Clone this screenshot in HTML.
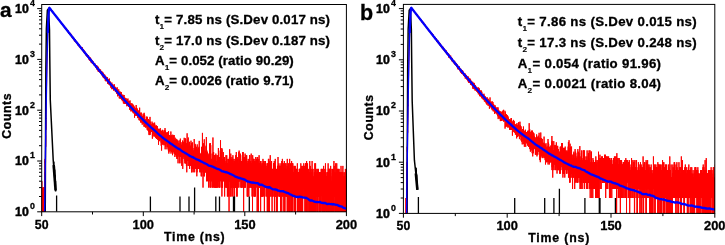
<!DOCTYPE html>
<html><head><meta charset="utf-8"><style>
html,body{margin:0;padding:0;background:#fff;width:725px;height:245px;overflow:hidden}
svg{display:block;will-change:transform;font-family:"Liberation Sans",sans-serif;font-weight:bold}
text{stroke:#000;stroke-width:0.3px}
</style></head><body>
<svg width="725" height="245" viewBox="0 0 725 245">
<rect width="725" height="245" fill="#fff"/>
<clipPath id="clip1"><rect x="41.7" y="4.5" width="304.7" height="207.3"/></clipPath>
<g clip-path="url(#clip1)">
<polyline fill="none" stroke="#ff0000" stroke-width="1.0" points="39.67,211.8 39.72,211.8 39.77,181.2 39.82,238.4 39.87,238.4 39.92,211.8 39.97,238.4 40.02,211.8 40.07,238.4 40.11,238.4 40.16,238.4 40.21,238.4 40.26,238.4 40.31,238.4 40.36,238.4 40.41,211.8 40.46,211.8 40.51,238.4 40.56,211.8 40.61,196.5 40.66,238.4 40.71,211.8 40.76,238.4 40.81,196.5 40.86,238.4 40.91,187.6 40.96,238.4 41.01,211.8 41.06,238.4 41.11,238.4 41.16,238.4 41.21,238.4 41.25,211.8 41.30,211.8 41.35,211.8 41.40,211.8 41.45,211.8 41.50,238.4 41.55,211.8 41.60,238.4 41.65,211.8 41.70,211.8 41.75,187.6 41.80,196.5 41.85,181.2 41.90,196.5 41.95,238.4 42.00,238.4 42.05,238.4 42.10,238.4 42.15,211.8 42.20,238.4 42.25,238.4 42.30,238.4 42.35,211.8 42.39,238.4 42.44,238.4 42.49,238.4 42.54,211.8 42.59,187.6 42.64,211.8 42.69,238.4 42.74,238.4 42.79,211.8 42.84,211.8 42.89,238.4 42.94,196.5 42.99,196.5 43.04,211.8 43.09,211.8 43.14,238.4 43.19,211.8 43.24,211.8 43.29,211.8 43.34,238.4 43.39,238.4 43.44,187.6 43.49,211.8 43.53,211.8 43.58,196.5 43.63,196.5 43.68,187.6 43.73,238.4 43.78,187.6 43.83,238.4 43.88,211.8 43.93,238.4 43.98,238.4 44.03,187.6 44.08,211.8 44.13,211.8 44.18,238.4 44.23,238.4 44.28,211.8 44.33,211.8 44.38,211.8 44.43,211.8 44.48,238.4 44.53,211.8 44.58,196.5 44.63,187.6 44.67,196.5 44.72,196.5 44.77,211.8 44.82,211.8 44.87,172.3 44.92,176.3 44.97,238.4 45.02,158.9 45.07,176.3 45.12,176.3 45.17,172.3 45.22,172.3 45.27,161.0 45.32,163.3 45.37,161.0 45.42,163.3 45.47,150.6 45.52,157.0 45.57,143.0 45.62,135.4 45.67,146.8 45.72,146.8 45.77,130.4 45.81,120.0 45.86,129.8 45.91,127.1 45.96,118.0 46.01,118.9 46.06,114.8 46.11,111.2 46.16,106.1 46.21,105.1 46.26,100.7 46.31,98.7 46.36,97.0 46.41,93.2 46.46,91.3 46.51,87.1 46.56,86.0 46.61,83.2 46.66,77.4 46.71,76.7 46.76,74.2 46.81,71.1 46.86,69.6 46.91,67.1 46.95,64.2 47.00,62.0 47.05,60.9 47.10,57.2 47.15,56.1 47.20,54.3 47.25,52.2 47.30,49.8 47.35,46.7 47.40,46.4 47.45,43.8 47.50,43.2 47.55,40.3 47.60,38.1 47.65,37.0 47.70,35.5 47.75,33.6 47.80,31.9 47.85,30.4 47.90,28.5 47.95,27.8 48.00,26.7 48.05,25.2 48.09,24.0 48.14,22.7 48.19,21.6 48.24,20.4 48.29,19.9 48.34,18.1 48.39,17.6 48.44,16.8 48.49,15.4 48.54,14.4 48.59,13.9 48.64,13.2 48.69,12.8 48.74,11.2 48.79,11.1 48.84,11.1 48.89,10.5 48.94,9.8 48.99,9.8 49.04,9.0 49.09,8.8 49.14,8.1 49.19,8.0 49.23,8.7 49.28,7.9 49.33,8.2 49.38,7.5 49.43,7.8 49.48,7.8 49.53,8.2 49.58,7.6 49.63,7.6 49.68,8.4 49.73,8.1 49.78,8.4 49.83,8.3 49.88,8.7 49.93,8.0 49.98,8.7 50.03,8.7 50.08,8.5 50.13,8.9 50.18,8.8 50.23,9.0 50.28,8.9 50.33,9.2 50.37,9.1 50.42,9.1 50.47,9.2 50.52,9.2 50.57,9.3 50.62,9.2 50.67,9.5 50.72,9.5 50.77,9.7 50.82,9.7 50.87,10.0 50.92,9.6 50.97,10.1 51.02,10.0 51.07,9.8 51.12,9.9 51.17,10.1 51.22,10.6 51.27,10.1 51.32,10.2 51.37,10.6 51.42,10.2 51.47,10.6 51.51,10.8 51.56,10.5 51.61,10.6 51.66,10.6 51.71,11.1 51.76,10.3 51.81,11.0 51.86,11.3 51.91,10.8 51.96,11.1 52.01,11.0 52.06,11.3 52.11,11.3 52.16,11.2 52.21,11.6 52.26,11.2 52.31,11.6 52.36,11.8 52.41,11.6 52.46,11.6 52.51,11.8 52.56,12.0 52.61,11.7 52.65,12.4 52.70,12.3 52.75,12.0 52.80,12.5 52.85,12.2 52.90,12.3 52.95,12.1 53.00,12.6 53.05,12.6 53.10,12.4 53.15,13.2 53.20,11.8 53.25,12.9 53.30,12.9 53.35,12.6 53.40,12.9 53.45,13.4 53.50,12.8 53.55,12.8 53.60,13.3 53.65,13.3 53.70,13.1 53.74,13.6 53.79,13.3 53.84,13.4 53.89,13.7 53.94,14.0 53.99,13.7 54.04,13.9 54.09,13.5 54.14,13.8 54.19,13.7 54.24,13.9 54.29,13.9 54.34,14.3 54.39,14.0 54.44,13.7 54.49,14.4 54.54,14.5 54.59,14.4 54.64,14.6 54.69,14.7 54.74,14.5 54.79,14.7 54.84,14.3 54.88,14.8 54.93,14.7 54.98,14.6 55.03,15.0 55.08,14.6 55.13,15.3 55.18,15.4 55.23,15.3 55.28,15.3 55.33,15.7 55.38,15.4 55.43,15.9 55.48,15.1 55.53,15.6 55.58,15.8 55.63,16.0 55.68,15.9 55.73,15.9 55.78,16.2 55.83,16.2 55.88,16.1 55.93,16.3 55.98,15.9 56.02,15.9 56.07,16.3 56.12,16.2 56.17,16.8 56.22,16.3 56.27,16.6 56.32,16.5 56.37,16.2 56.42,17.4 56.47,16.7 56.52,17.2 56.57,16.7 56.62,17.4 56.67,17.2 56.72,17.1 56.77,17.0 56.82,17.2 56.87,17.5 56.92,17.5 56.97,17.2 57.02,17.5 57.07,18.1 57.12,17.4 57.16,17.6 57.21,17.5 57.26,17.9 57.31,17.6 57.36,18.3 57.41,17.8 57.46,18.2 57.51,17.9 57.56,17.9 57.61,18.5 57.66,18.3 57.71,18.4 57.76,18.1 57.81,18.3 57.86,18.9 57.91,18.5 57.96,18.5 58.01,18.1 58.06,19.3 58.11,19.0 58.16,18.5 58.21,19.4 58.26,19.4 58.30,19.0 58.35,18.9 58.40,19.5 58.45,19.2 58.50,19.3 58.55,19.0 58.60,19.5 58.65,19.3 58.70,19.9 58.75,19.8 58.80,19.8 58.85,19.5 58.90,19.7 58.95,20.2 59.00,19.8 59.05,19.8 59.10,20.2 59.15,20.3 59.20,20.3 59.25,20.9 59.30,20.3 59.35,20.4 59.40,20.8 59.44,20.3 59.49,21.1 59.54,20.9 59.59,20.9 59.64,20.2 59.69,21.4 59.74,20.8 59.79,20.7 59.84,21.0 59.89,20.8 59.94,21.5 59.99,22.0 60.04,21.1 60.09,21.8 60.14,21.6 60.19,21.9 60.24,21.2 60.29,21.4 60.34,22.0 60.39,21.5 60.44,21.8 60.49,22.0 60.54,22.0 60.58,22.1 60.63,21.9 60.68,22.1 60.73,22.3 60.78,22.0 60.83,22.6 60.88,22.3 60.93,22.3 60.98,22.0 61.03,22.8 61.08,22.1 61.13,22.7 61.18,22.9 61.23,23.1 61.28,22.7 61.33,23.0 61.38,23.4 61.43,23.5 61.48,23.4 61.53,23.5 61.58,22.9 61.63,22.9 61.68,23.1 61.72,23.4 61.77,23.7 61.82,23.6 61.87,23.4 61.92,23.0 61.97,23.5 62.02,24.0 62.07,23.9 62.12,24.2 62.17,24.3 62.22,24.2 62.27,24.1 62.32,23.6 62.37,24.3 62.42,23.9 62.47,23.8 62.52,24.5 62.57,24.0 62.62,24.4 62.67,24.8 62.72,24.7 62.77,24.8 62.82,25.0 62.86,25.0 62.91,24.9 62.96,24.9 63.01,25.4 63.06,25.2 63.11,25.8 63.16,25.2 63.21,25.2 63.26,25.4 63.31,25.4 63.36,25.4 63.41,25.9 63.46,25.8 63.51,25.6 63.56,25.5 63.61,25.7 63.66,25.0 63.71,26.0 63.76,25.7 63.81,25.7 63.86,26.2 63.91,26.6 63.96,26.7 64.00,26.3 64.05,26.0 64.10,26.4 64.15,26.5 64.20,26.8 64.25,26.5 64.30,27.5 64.35,26.7 64.40,26.9 64.45,27.4 64.50,26.2 64.55,27.6 64.60,27.5 64.65,27.6 64.70,26.8 64.75,27.7 64.80,27.1 64.85,27.2 64.90,27.4 64.95,28.1 65.00,27.9 65.05,27.1 65.10,28.2 65.14,28.1 65.19,28.0 65.24,27.6 65.29,27.9 65.34,27.8 65.39,28.5 65.44,27.8 65.49,28.1 65.54,28.9 65.59,27.8 65.64,27.6 65.69,28.8 65.74,28.6 65.79,28.1 65.84,29.3 65.89,29.5 65.94,29.3 65.99,29.1 66.04,29.2 66.09,28.8 66.14,29.0 66.19,29.6 66.24,29.0 66.28,28.5 66.33,28.9 66.38,29.0 66.43,29.5 66.48,29.1 66.53,30.0 66.58,29.4 66.63,29.7 66.68,29.3 66.73,29.7 66.78,30.3 66.83,29.9 66.88,29.5 66.93,30.5 66.98,30.4 67.03,30.5 67.08,30.9 67.13,30.0 67.18,29.9 67.23,30.1 67.28,30.4 67.33,30.6 67.38,30.6 67.42,31.0 67.47,30.4 67.52,30.4 67.57,30.5 67.62,31.2 67.67,31.0 67.72,31.2 67.77,30.4 67.82,31.1 67.87,32.0 67.92,31.2 67.97,30.6 68.02,31.2 68.07,31.2 68.12,31.6 68.17,32.5 68.22,32.5 68.27,32.3 68.32,31.9 68.37,31.8 68.42,31.7 68.47,32.2 68.52,31.7 68.56,32.3 68.61,32.5 68.66,31.9 68.71,32.7 68.76,33.5 68.81,32.9 68.86,32.5 68.91,33.9 68.96,32.8 69.01,32.9 69.06,33.4 69.11,33.5 69.16,33.1 69.21,33.2 69.26,32.5 69.31,32.9 69.36,33.8 69.41,33.6 69.46,33.0 69.51,32.5 69.56,33.3 69.61,33.3 69.66,32.7 69.70,33.6 69.75,33.8 69.80,34.3 69.85,34.0 69.90,32.9 69.95,34.5 70.00,34.0 70.05,34.7 70.10,34.1 70.15,33.8 70.20,34.3 70.25,34.0 70.30,34.0 70.35,34.2 70.40,33.7 70.45,34.2 70.50,34.7 70.55,35.0 70.60,35.1 70.65,34.6 70.70,35.0 70.75,33.7 70.80,34.2 70.84,35.1 70.89,35.3 70.94,34.4 70.99,36.1 71.04,35.5 71.09,34.9 71.14,35.8 71.19,35.7 71.24,35.7 71.29,35.3 71.34,35.6 71.39,35.6 71.44,35.5 71.49,35.8 71.54,35.4 71.59,36.3 71.64,36.7 71.69,36.9 71.74,36.9 71.79,36.5 71.84,35.8 71.89,36.3 71.94,36.7 71.98,37.0 72.03,36.8 72.08,36.8 72.13,36.9 72.18,37.4 72.23,37.0 72.28,36.4 72.33,37.9 72.38,37.1 72.43,38.0 72.48,37.0 72.53,37.5 72.58,38.2 72.63,37.3 72.68,36.5 72.73,37.4 72.78,36.9 72.83,37.6 72.88,38.6 72.93,37.4 72.98,37.9 73.03,38.5 73.08,37.5 73.12,37.8 73.17,38.2 73.22,37.6 73.27,38.5 73.32,37.9 73.37,38.7 73.42,38.0 73.47,38.9 73.52,37.7 73.57,38.4 73.62,37.9 73.67,39.0 73.72,38.9 73.77,38.3 73.82,40.1 73.87,39.4 73.92,38.4 73.97,38.8 74.02,38.6 74.07,39.3 74.12,38.9 74.17,39.6 74.22,40.0 74.26,40.2 74.31,39.7 74.36,39.8 74.41,39.9 74.46,41.4 74.51,40.7 74.56,40.0 74.61,39.7 74.66,40.2 74.71,40.4 74.76,41.1 74.81,39.1 74.86,40.7 74.91,39.3 74.96,39.5 75.01,40.2 75.06,40.7 75.11,40.4 75.16,41.1 75.21,40.4 75.26,40.6 75.31,40.4 75.36,40.3 75.40,39.9 75.45,41.1 75.50,40.4 75.55,41.4 75.60,41.5 75.65,41.4 75.70,41.7 75.75,40.7 75.80,40.8 75.85,40.7 75.90,41.4 75.95,41.4 76.00,41.8 76.05,42.2 76.10,41.4 76.15,41.6 76.20,42.4 76.25,41.6 76.30,42.8 76.35,42.1 76.40,42.4 76.45,42.4 76.50,42.7 76.54,41.7 76.59,42.0 76.64,41.7 76.69,42.4 76.74,43.2 76.79,42.7 76.84,43.2 76.89,42.4 76.94,42.1 76.99,42.6 77.04,43.2 77.09,43.1 77.14,42.9 77.19,43.8 77.24,43.0 77.29,43.1 77.34,43.5 77.39,43.5 77.44,43.3 77.49,43.9 77.54,43.9 77.59,43.1 77.64,43.5 77.68,42.8 77.73,44.3 77.78,44.8 77.83,43.4 77.88,43.4 77.93,44.4 77.98,44.9 78.03,44.1 78.08,45.1 78.13,44.4 78.18,45.5 78.23,44.5 78.28,45.6 78.33,44.6 78.38,43.7 78.43,44.8 78.48,44.3 78.53,45.1 78.58,45.3 78.63,45.7 78.68,44.4 78.73,45.0 78.78,44.2 78.82,45.8 78.87,45.3 78.92,45.2 78.97,44.5 79.02,44.4 79.07,45.8 79.12,46.1 79.17,46.5 79.22,44.9 79.27,45.7 79.32,46.1 79.37,45.8 79.42,47.3 79.47,46.9 79.52,45.5 79.57,45.8 79.62,46.0 79.67,46.8 79.72,45.9 79.77,45.3 79.82,47.1 79.87,46.4 79.92,46.8 79.96,46.4 80.01,46.6 80.06,46.8 80.11,47.3 80.16,46.8 80.21,47.2 80.26,47.0 80.31,47.0 80.36,46.7 80.41,47.5 80.46,47.4 80.51,46.6 80.56,47.4 80.61,47.5 80.66,46.9 80.71,47.3 80.76,47.5 80.81,47.5 80.86,48.4 80.91,47.5 80.96,47.0 81.01,47.5 81.06,48.9 81.10,47.8 81.15,48.6 81.20,48.3 81.25,48.1 81.30,49.0 81.35,47.5 81.40,48.4 81.45,48.0 81.50,48.1 81.55,47.7 81.60,47.9 81.65,49.6 81.70,48.7 81.75,50.1 81.80,49.1 81.85,48.5 81.90,48.4 81.95,48.3 82.00,49.3 82.05,49.0 82.10,49.2 82.15,48.5 82.20,48.4 82.24,49.6 82.29,47.2 82.34,49.5 82.39,49.8 82.44,49.3 82.49,49.3 82.54,49.4 82.59,50.2 82.64,49.0 82.69,49.9 82.74,49.1 82.79,49.2 82.84,50.9 82.89,50.8 82.94,50.9 82.99,50.2 83.04,50.4 83.09,50.3 83.14,51.0 83.19,50.3 83.24,49.8 83.29,51.6 83.34,50.9 83.38,50.7 83.43,51.0 83.48,51.1 83.53,49.9 83.58,50.3 83.63,50.6 83.68,51.7 83.73,49.8 83.78,51.1 83.83,51.8 83.88,51.7 83.93,51.8 83.98,50.2 84.03,51.5 84.08,51.7 84.13,53.1 84.18,51.3 84.23,52.6 84.28,52.7 84.33,51.6 84.38,52.6 84.43,51.6 84.48,51.5 84.52,53.4 84.57,52.4 84.62,53.4 84.67,52.5 84.72,51.9 84.77,53.5 84.82,51.4 84.87,52.9 84.92,53.5 84.97,52.9 85.02,52.4 85.07,53.8 85.12,53.0 85.17,54.0 85.22,52.3 85.27,53.1 85.32,53.5 85.37,52.6 85.42,54.2 85.47,53.7 85.52,52.3 85.57,53.6 85.61,52.7 85.66,53.6 85.71,54.2 85.76,54.0 85.81,53.8 85.86,54.2 85.91,54.6 85.96,54.6 86.01,55.1 86.06,54.1 86.11,54.0 86.16,53.8 86.21,55.6 86.26,53.9 86.31,54.5 86.36,55.5 86.41,54.5 86.46,54.1 86.51,54.4 86.56,54.3 86.61,54.2 86.66,54.3 86.71,55.0 86.75,56.5 86.80,55.6 86.85,54.9 86.90,55.6 86.95,54.8 87.00,54.8 87.05,55.4 87.10,54.2 87.15,56.2 87.20,54.9 87.25,56.0 87.30,56.3 87.35,55.4 87.40,56.3 87.45,55.3 87.50,56.8 87.55,56.0 87.60,56.7 87.65,56.3 87.70,56.5 87.75,57.1 87.80,55.9 87.85,57.3 87.89,57.2 87.94,55.9 87.99,55.9 88.04,56.2 88.09,56.5 88.14,55.1 88.19,57.7 88.24,57.4 88.29,57.7 88.34,56.4 88.39,56.9 88.44,56.3 88.49,56.5 88.54,57.4 88.59,57.9 88.64,58.1 88.69,55.8 88.74,56.8 88.79,57.1 88.84,57.9 88.89,57.8 88.94,58.0 88.99,58.1 89.03,59.7 89.08,58.0 89.13,58.3 89.18,57.8 89.23,58.0 89.28,57.5 89.33,58.3 89.38,57.7 89.43,60.3 89.48,59.3 89.53,57.2 89.58,59.5 89.63,58.8 89.68,58.1 89.73,59.4 89.78,58.2 89.83,59.9 89.88,60.4 89.93,60.0 89.98,60.3 90.03,59.1 90.08,59.4 90.13,59.0 90.17,60.1 90.22,57.4 90.27,59.5 90.32,59.5 90.37,59.2 90.42,59.8 90.47,60.1 90.52,59.7 90.57,59.1 90.62,59.3 90.67,59.2 90.72,60.4 90.77,60.6 90.82,58.5 90.87,60.3 90.92,59.8 90.97,59.7 91.02,59.2 91.07,61.4 91.12,60.8 91.17,60.9 91.22,60.8 91.27,62.5 91.31,60.8 91.36,63.0 91.41,60.6 91.46,60.5 91.51,60.5 91.56,62.0 91.61,60.3 91.66,61.8 91.71,62.2 91.76,62.0 91.81,62.0 91.86,61.2 91.91,60.8 91.96,63.2 92.01,62.0 92.06,60.9 92.11,61.5 92.16,61.3 92.21,63.0 92.26,61.1 92.31,63.2 92.36,61.8 92.41,60.9 92.45,60.6 92.50,61.7 92.55,61.5 92.60,62.8 92.65,62.7 92.70,61.4 92.75,62.5 92.80,62.6 92.85,63.7 92.90,62.5 92.95,62.2 93.00,63.4 93.05,63.3 93.10,61.6 93.15,62.8 93.20,63.3 93.25,64.0 93.30,63.7 93.35,63.4 93.40,62.1 93.45,63.8 93.50,61.9 93.55,64.2 93.59,63.8 93.64,62.9 93.69,63.8 93.74,64.4 93.79,63.9 93.84,63.4 93.89,65.3 93.94,64.1 93.99,64.1 94.04,64.4 94.09,63.5 94.14,64.7 94.19,64.5 94.24,64.3 94.29,63.7 94.34,64.6 94.39,63.2 94.44,65.3 94.49,63.5 94.54,65.4 94.59,64.9 94.64,64.5 94.69,63.1 94.73,64.1 94.78,65.3 94.83,63.9 94.88,65.3 94.93,65.8 94.98,64.8 95.03,65.2 95.08,64.5 95.13,65.9 95.18,65.1 95.23,65.0 95.28,65.3 95.33,65.7 95.38,66.3 95.43,65.0 95.48,65.7 95.53,65.4 95.58,66.3 95.63,66.0 95.68,67.0 95.73,66.0 95.78,65.5 95.83,66.2 95.87,65.5 95.92,66.1 95.97,65.2 96.02,66.7 96.07,68.0 96.12,66.2 96.17,66.8 96.22,67.6 96.27,66.2 96.32,66.6 96.37,66.5 96.42,67.3 96.47,66.9 96.52,66.9 96.57,65.5 96.62,67.8 96.67,67.3 96.72,67.0 96.77,69.0 96.82,68.9 96.87,65.5 96.92,69.2 96.97,67.1 97.01,68.5 97.06,68.5 97.11,69.7 97.16,68.7 97.21,67.2 97.26,69.3 97.31,67.5 97.36,67.8 97.41,66.3 97.46,68.7 97.51,67.1 97.56,67.5 97.61,68.7 97.66,70.1 97.71,67.1 97.76,69.9 97.81,69.1 97.86,67.9 97.91,67.7 97.96,69.7 98.01,68.9 98.06,69.2 98.11,67.9 98.15,66.7 98.20,70.9 98.25,68.3 98.30,72.0 98.35,69.3 98.40,70.5 98.45,67.5 98.50,69.4 98.55,70.3 98.60,70.1 98.65,70.3 98.70,69.6 98.75,70.0 98.80,69.2 98.85,68.4 98.90,69.3 98.95,71.3 99.00,71.7 99.05,70.9 99.10,69.2 99.15,70.6 99.20,71.0 99.25,70.3 99.29,71.9 99.34,71.7 99.39,70.1 99.44,71.0 99.49,71.2 99.54,70.5 99.59,71.4 99.64,71.6 99.69,71.4 99.74,70.4 99.79,71.0 99.84,72.4 99.89,71.5 99.94,70.6 99.99,69.5 100.04,72.5 100.09,71.1 100.14,71.8 100.19,70.7 100.24,71.2 100.29,70.2 100.34,71.2 100.39,72.4 100.43,72.4 100.48,71.5 100.53,71.6 100.58,69.6 100.63,70.4 100.68,73.4 100.73,71.9 100.78,73.7 100.83,74.1 100.88,71.7 100.93,71.9 100.98,73.6 101.03,70.9 101.08,73.7 101.13,73.9 101.18,72.1 101.23,72.6 101.28,73.1 101.33,73.0 101.38,72.8 101.43,73.2 101.48,73.3 101.53,75.2 101.57,74.7 101.62,72.7 101.67,74.1 101.72,72.9 101.77,72.2 101.82,73.9 101.87,73.3 101.92,71.5 101.97,73.0 102.02,71.8 102.07,72.2 102.12,73.1 102.17,74.1 102.22,74.9 102.27,75.3 102.32,73.6 102.37,73.7 102.42,74.5 102.47,73.4 102.52,75.1 102.57,73.3 102.62,74.5 102.67,74.6 102.71,74.6 102.76,74.8 102.81,72.1 102.86,76.6 102.91,74.7 102.96,73.6 103.01,74.2 103.06,75.4 103.11,73.2 103.16,76.4 103.21,76.7 103.26,74.7 103.31,77.0 103.36,78.0 103.41,74.5 103.46,74.7 103.51,74.8 103.56,76.2 103.61,75.5 103.66,76.9 103.71,73.9 103.76,75.0 103.81,75.1 103.85,78.2 103.90,75.2 103.95,74.5 104.00,74.8 104.05,75.4 104.10,76.3 104.15,76.8 104.20,75.8 104.25,76.1 104.30,76.3 104.35,77.0 104.40,74.8 104.45,78.1 104.50,76.8 104.55,77.5 104.60,75.7 104.65,75.3 104.70,75.6 104.75,76.2 104.80,78.8 104.85,74.8 104.90,76.7 104.95,77.5 104.99,77.4 105.04,77.8 105.09,77.0 105.14,77.2 105.19,78.1 105.24,80.7 105.29,77.8 105.34,77.3 105.39,77.3 105.44,78.1 105.49,77.5 105.54,76.8 105.59,78.7 105.64,76.4 105.69,80.5 105.74,79.8 105.79,79.4 105.84,81.3 105.89,79.6 105.94,77.1 105.99,77.1 106.04,78.5 106.09,76.7 106.13,78.5 106.18,79.4 106.23,78.6 106.28,79.1 106.33,78.1 106.38,80.9 106.43,77.9 106.48,79.7 106.53,78.2 106.58,81.2 106.63,79.9 106.68,79.3 106.73,78.4 106.78,81.0 106.83,77.6 106.88,79.1 106.93,80.4 106.98,78.3 107.03,79.7 107.08,78.5 107.13,77.1 107.18,79.1 107.23,80.7 107.27,80.7 107.32,79.5 107.37,79.9 107.42,81.3 107.47,81.2 107.52,79.6 107.57,77.6 107.62,83.8 107.67,79.7 107.72,80.9 107.77,79.8 107.82,79.7 107.87,80.8 107.92,82.2 107.97,82.7 108.02,83.4 108.07,79.5 108.12,81.4 108.17,81.9 108.22,81.6 108.27,83.0 108.32,81.0 108.37,79.8 108.41,80.1 108.46,83.5 108.51,79.9 108.56,82.6 108.61,84.2 108.66,83.4 108.71,83.1 108.76,81.9 108.81,83.3 108.86,84.0 108.91,82.4 108.96,79.7 109.01,83.1 109.06,81.7 109.11,82.2 109.16,78.9 109.21,84.9 109.26,81.1 109.31,84.2 109.36,83.4 109.41,82.8 109.46,78.6 109.51,83.8 109.55,85.3 109.60,81.2 109.65,84.1 109.70,83.3 109.75,83.1 109.80,83.0 109.85,83.4 109.90,82.9 109.95,82.8 110.00,82.2 110.05,84.0 110.10,84.5 110.15,85.0 110.20,82.8 110.25,83.7 110.30,83.0 110.35,83.1 110.40,81.6 110.45,83.6 110.50,83.0 110.55,85.6 110.60,85.5 110.65,84.6 110.69,85.8 110.74,83.3 110.79,86.1 110.84,84.3 110.89,87.8 110.94,86.0 110.99,85.0 111.04,85.0 111.09,87.1 111.14,84.6 111.19,83.5 111.24,84.0 111.29,85.8 111.34,85.8 111.39,86.6 111.44,84.2 111.49,83.2 111.54,85.9 111.59,87.6 111.64,85.0 111.69,84.4 111.74,89.2 111.79,85.3 111.83,82.5 111.88,84.5 111.93,84.9 111.98,85.2 112.03,84.3 112.08,87.2 112.13,87.1 112.18,85.4 112.23,87.0 112.28,85.7 112.33,88.8 112.38,85.1 112.43,85.1 112.48,86.2 112.53,86.1 112.58,84.1 112.63,88.0 112.68,87.8 112.73,88.1 112.78,87.3 112.83,88.2 112.88,86.7 112.93,87.8 112.97,89.0 113.02,89.2 113.07,85.3 113.12,87.2 113.17,87.4 113.22,87.1 113.27,87.4 113.32,86.2 113.37,86.5 113.42,88.3 113.47,88.7 113.52,89.1 113.57,89.4 113.62,85.6 113.67,89.0 113.72,90.7 113.77,89.0 113.82,89.0 113.87,87.4 113.92,89.3 113.97,87.3 114.02,87.5 114.07,86.3 114.11,85.0 114.16,84.1 114.21,86.3 114.26,90.1 114.31,89.1 114.36,88.1 114.41,85.5 114.46,87.6 114.51,86.9 114.56,89.0 114.61,87.9 114.66,87.8 114.71,89.6 114.76,87.8 114.81,87.4 114.86,89.3 114.91,87.6 114.96,86.7 115.01,89.2 115.06,89.3 115.11,89.8 115.16,90.4 115.21,89.3 115.25,90.2 115.30,90.1 115.35,90.8 115.40,92.1 115.45,91.2 115.50,89.3 115.55,91.7 115.60,90.9 115.65,87.5 115.70,88.3 115.75,91.2 115.80,89.3 115.85,91.2 115.90,87.8 115.95,91.3 116.00,90.3 116.05,88.3 116.10,91.8 116.15,88.6 116.20,91.9 116.25,90.3 116.30,91.2 116.34,91.0 116.39,90.6 116.44,91.1 116.49,92.6 116.54,89.7 116.59,90.0 116.64,89.1 116.69,89.0 116.74,93.4 116.79,89.3 116.84,89.3 116.89,92.3 116.94,89.9 116.99,89.2 117.04,92.5 117.09,93.9 117.14,92.3 117.19,87.3 117.24,91.5 117.29,93.9 117.34,92.4 117.39,93.6 117.44,92.7 117.48,92.0 117.53,96.3 117.58,91.7 117.63,90.0 117.68,92.7 117.73,93.0 117.78,90.7 117.83,94.6 117.88,94.6 117.93,94.9 117.98,93.0 118.03,92.1 118.08,93.0 118.13,92.0 118.18,91.6 118.23,92.2 118.28,94.4 118.33,93.6 118.38,91.1 118.43,95.0 118.48,93.7 118.53,94.0 118.58,93.7 118.62,95.2 118.67,95.8 118.72,89.3 118.77,92.0 118.82,94.9 118.87,93.8 118.92,92.7 118.97,94.4 119.02,92.9 119.07,95.0 119.12,94.6 119.17,94.2 119.22,94.9 119.27,98.3 119.32,94.2 119.37,93.9 119.42,93.6 119.47,96.1 119.52,93.9 119.57,94.2 119.62,97.6 119.67,98.4 119.72,93.9 119.76,96.4 119.81,93.1 119.86,91.2 119.91,95.9 119.96,96.2 120.01,95.1 120.06,93.9 120.11,97.1 120.16,93.1 120.21,93.6 120.26,94.2 120.31,96.3 120.36,93.8 120.41,94.0 120.46,97.6 120.51,92.0 120.56,96.2 120.61,95.1 120.66,96.7 120.71,95.2 120.76,93.9 120.81,97.4 120.86,98.9 120.90,96.9 120.95,98.4 121.00,97.5 121.05,96.5 121.10,96.4 121.15,94.1 121.20,98.2 121.25,95.8 121.30,97.4 121.35,94.1 121.40,92.1 121.45,96.1 121.50,93.7 121.55,97.7 121.60,99.7 121.65,99.2 121.70,99.8 121.75,98.7 121.80,97.5 121.85,95.1 121.90,95.9 121.95,96.4 122.00,98.1 122.04,98.7 122.09,97.3 122.14,97.2 122.19,97.1 122.24,96.9 122.29,97.8 122.34,101.2 122.39,99.8 122.44,99.3 122.49,94.7 122.54,98.7 122.59,96.7 122.64,95.3 122.69,97.5 122.74,98.9 122.79,98.7 122.84,100.1 122.89,97.7 122.94,96.3 122.99,97.4 123.04,97.0 123.09,97.2 123.14,94.8 123.18,99.8 123.23,98.4 123.28,97.4 123.33,96.5 123.38,103.4 123.43,99.9 123.48,99.4 123.53,101.0 123.58,97.5 123.63,98.7 123.68,99.9 123.73,102.3 123.78,101.8 123.83,101.2 123.88,98.6 123.93,101.8 123.98,103.5 124.03,102.4 124.08,100.8 124.13,96.5 124.18,95.0 124.23,100.7 124.28,98.1 124.32,97.2 124.37,97.5 124.42,100.3 124.47,102.6 124.52,101.1 124.57,103.8 124.62,99.8 124.67,98.8 124.72,104.0 124.77,100.5 124.82,99.9 124.87,98.1 124.92,97.9 124.97,99.1 125.02,102.0 125.07,101.5 125.12,98.4 125.17,102.0 125.22,101.0 125.27,97.9 125.32,100.8 125.37,103.8 125.42,101.7 125.46,99.9 125.51,101.6 125.56,99.0 125.61,98.8 125.66,102.7 125.71,102.5 125.76,101.7 125.81,104.0 125.86,100.9 125.91,102.0 125.96,100.2 126.01,103.0 126.06,103.6 126.11,98.2 126.16,103.7 126.21,103.2 126.26,103.5 126.31,102.7 126.36,104.0 126.41,102.3 126.46,103.7 126.51,103.2 126.56,101.7 126.60,101.0 126.65,101.6 126.70,104.1 126.75,101.8 126.80,102.9 126.85,102.9 126.90,106.3 126.95,101.5 127.00,103.2 127.05,99.4 127.10,101.7 127.15,105.4 127.20,105.9 127.25,100.8 127.30,105.0 127.35,101.9 127.40,104.0 127.45,99.0 127.50,103.3 127.55,100.3 127.60,100.8 127.65,104.6 127.70,104.3 127.74,100.6 127.79,103.8 127.84,105.6 127.89,101.3 127.94,98.5 127.99,104.0 128.04,101.0 128.09,104.4 128.14,101.2 128.19,104.6 128.24,101.4 128.29,103.1 128.34,104.7 128.39,103.8 128.44,105.5 128.49,106.8 128.54,106.7 128.59,104.7 128.64,106.8 128.69,103.7 128.74,103.5 128.79,103.7 128.84,105.8 128.88,104.7 128.93,104.9 128.98,102.1 129.03,106.7 129.08,105.9 129.13,105.6 129.18,105.4 129.23,106.8 129.28,106.6 129.33,103.1 129.38,106.7 129.43,103.4 129.48,101.0 129.53,102.7 129.58,109.5 129.63,103.9 129.68,104.6 129.73,104.5 129.78,109.4 129.83,104.2 129.88,108.3 129.93,103.1 129.98,103.6 130.02,100.4 130.07,107.0 130.12,109.5 130.17,103.9 130.22,104.3 130.27,107.2 130.32,103.3 130.37,104.9 130.42,109.4 130.47,107.3 130.52,107.6 130.57,106.9 130.62,106.3 130.67,108.3 130.72,107.3 130.77,105.5 130.82,107.1 130.87,107.6 130.92,107.7 130.97,107.3 131.02,111.5 131.07,106.8 131.12,109.6 131.16,107.1 131.21,110.7 131.26,105.3 131.31,106.9 131.36,110.6 131.41,107.0 131.46,109.4 131.51,103.5 131.56,106.6 131.61,109.6 131.66,107.3 131.71,107.9 131.76,105.2 131.81,107.2 131.86,106.8 131.91,110.7 131.96,106.3 132.01,103.3 132.06,106.8 132.11,108.4 132.16,108.0 132.21,110.6 132.26,108.0 132.30,111.1 132.35,108.4 132.40,109.5 132.45,110.6 132.50,107.3 132.55,112.3 132.60,108.9 132.65,112.0 132.70,104.6 132.75,104.3 132.80,107.0 132.85,104.6 132.90,107.7 132.95,107.9 133.00,110.2 133.05,111.4 133.10,109.0 133.15,110.7 133.20,110.5 133.25,107.7 133.30,109.9 133.35,113.3 133.40,110.2 133.44,111.5 133.49,110.5 133.54,112.5 133.59,107.0 133.64,105.3 133.69,112.7 133.74,108.5 133.79,108.6 133.84,112.7 133.89,109.9 133.94,106.8 133.99,108.2 134.04,106.4 134.09,113.3 134.14,112.3 134.19,109.8 134.24,109.7 134.29,110.6 134.34,111.6 134.39,111.7 134.44,112.3 134.49,109.7 134.54,117.7 134.58,107.0 134.63,112.3 134.68,114.6 134.73,109.7 134.78,114.6 134.83,110.2 134.88,112.3 134.93,109.8 134.98,109.4 135.03,108.2 135.08,112.7 135.13,112.3 135.18,111.6 135.23,115.2 135.28,110.2 135.33,111.4 135.38,115.2 135.43,108.8 135.48,108.5 135.53,115.3 135.58,110.6 135.63,108.9 135.68,110.0 135.72,114.7 135.77,115.8 135.82,112.6 135.87,113.6 135.92,112.4 135.97,112.7 136.02,111.1 136.07,114.0 136.12,113.0 136.17,105.0 136.22,113.0 136.27,110.9 136.32,112.1 136.37,112.3 136.42,115.3 136.47,111.6 136.52,113.2 136.57,111.0 136.62,107.8 136.67,112.7 136.72,111.3 136.77,116.0 136.82,113.0 136.86,109.3 136.91,113.6 136.96,115.2 137.01,113.0 137.06,114.1 137.11,114.3 137.16,114.7 137.21,108.5 137.26,116.1 137.31,114.9 137.36,115.4 137.41,110.7 137.46,114.7 137.51,110.6 137.56,113.7 137.61,114.2 137.66,118.1 137.71,111.0 137.76,112.9 137.81,113.3 137.86,114.7 137.91,115.6 137.96,117.9 138.00,112.0 138.05,113.9 138.10,115.6 138.15,116.4 138.20,114.5 138.25,115.1 138.30,110.4 138.35,112.8 138.40,116.6 138.45,118.0 138.50,115.7 138.55,117.6 138.60,115.0 138.65,114.1 138.70,113.5 138.75,114.2 138.80,115.9 138.85,113.8 138.90,117.9 138.95,115.7 139.00,113.3 139.05,114.8 139.10,119.2 139.14,118.9 139.19,120.2 139.24,110.8 139.29,120.1 139.34,116.3 139.39,110.9 139.44,113.0 139.49,112.4 139.54,117.5 139.59,114.1 139.64,107.7 139.69,116.4 139.74,115.1 139.79,117.2 139.84,116.4 139.89,115.4 139.94,112.6 139.99,119.1 140.04,120.6 140.09,116.6 140.14,116.1 140.19,112.8 140.24,114.8 140.28,118.6 140.33,115.3 140.38,113.8 140.43,116.2 140.48,118.0 140.53,115.2 140.58,118.2 140.63,122.5 140.68,113.4 140.73,121.0 140.78,118.3 140.83,118.3 140.88,118.4 140.93,118.3 140.98,121.7 141.03,116.1 141.08,117.6 141.13,117.6 141.18,114.7 141.23,114.6 141.28,114.0 141.33,112.6 141.38,116.6 141.42,122.5 141.47,117.4 141.52,118.1 141.57,118.0 141.62,120.0 141.67,120.8 141.72,116.0 141.77,115.5 141.82,121.7 141.87,116.9 141.92,119.0 141.97,119.7 142.02,116.6 142.07,118.8 142.12,120.3 142.17,118.6 142.22,124.7 142.27,120.6 142.32,120.2 142.37,123.1 142.42,118.5 142.47,118.3 142.52,120.9 142.56,119.7 142.61,117.2 142.66,116.1 142.71,121.6 142.76,118.4 142.81,116.3 142.86,119.6 142.91,121.8 142.96,121.9 143.01,120.6 143.06,122.8 143.11,113.7 143.16,121.5 143.21,118.7 143.26,119.3 143.31,118.0 143.36,121.2 143.41,124.0 143.46,115.1 143.51,120.4 143.56,119.8 143.61,119.6 143.66,116.5 143.70,118.0 143.75,116.8 143.80,117.9 143.85,120.0 143.90,119.8 143.95,122.9 144.00,126.6 144.05,121.4 144.10,124.0 144.15,112.8 144.20,116.0 144.25,117.3 144.30,122.6 144.35,114.6 144.40,126.3 144.45,124.8 144.50,123.5 144.55,124.1 144.60,120.8 144.65,120.7 144.70,115.4 144.75,118.2 144.80,117.6 144.84,120.1 144.89,122.0 144.94,123.7 144.99,126.3 145.04,124.4 145.09,122.9 145.14,119.3 145.19,127.1 145.24,126.2 145.29,121.2 145.34,125.3 145.39,120.9 145.44,123.3 145.49,124.5 145.54,126.4 145.59,122.5 145.64,124.5 145.69,124.2 145.74,124.4 145.79,121.8 145.84,121.9 145.89,127.9 145.94,123.0 145.98,121.3 146.03,119.3 146.08,120.1 146.13,122.0 146.18,126.4 146.23,125.3 146.28,119.9 146.33,125.2 146.38,119.6 146.43,118.9 146.48,126.5 146.53,121.7 146.58,123.5 146.63,116.6 146.68,120.5 146.73,124.9 146.78,122.0 146.83,126.4 146.88,123.9 146.93,122.8 146.98,123.0 147.03,122.5 147.08,126.6 147.12,129.7 147.17,124.9 147.22,126.7 147.27,126.1 147.32,116.8 147.37,120.0 147.42,124.5 147.47,128.7 147.52,128.3 147.57,122.9 147.62,120.6 147.67,125.1 147.72,123.8 147.77,123.4 147.82,120.7 147.87,130.6 147.92,123.9 147.97,123.1 148.02,121.3 148.07,123.2 148.12,128.3 148.17,126.6 148.21,129.8 148.26,124.1 148.31,124.1 148.36,123.1 148.41,128.1 148.46,128.8 148.51,119.8 148.56,124.4 148.61,119.1 148.66,123.6 148.71,130.1 148.76,122.4 148.81,121.0 148.86,126.8 148.91,131.9 148.96,123.1 149.01,125.9 149.06,124.5 149.11,134.7 149.16,124.0 149.21,135.1 149.26,128.6 149.31,122.6 149.35,132.0 149.40,132.2 149.45,127.4 149.50,120.2 149.55,120.3 149.60,128.1 149.65,122.6 149.70,124.1 149.75,125.2 149.80,124.9 149.85,128.7 149.90,123.5 149.95,122.6 150.00,116.9 150.05,123.2 150.10,135.0 150.15,130.7 150.20,125.4 150.25,126.3 150.30,133.2 150.35,127.2 150.40,128.0 150.45,126.9 150.49,127.2 150.54,123.6 150.59,121.7 150.64,124.5 150.69,130.9 150.74,130.1 150.79,129.4 150.84,127.3 150.89,128.7 150.94,128.5 150.99,130.6 151.04,123.9 151.09,124.3 151.14,124.0 151.19,127.7 151.24,125.9 151.29,130.8 151.34,131.2 151.39,129.6 151.44,125.6 151.49,128.3 151.54,131.9 151.59,127.5 151.63,126.3 151.68,127.3 151.73,130.4 151.78,127.8 151.83,129.6 151.88,129.3 151.93,128.4 151.98,125.4 152.03,121.6 152.08,122.6 152.13,126.0 152.18,129.8 152.23,129.5 152.28,129.4 152.33,124.2 152.38,138.7 152.43,127.6 152.48,135.9 152.53,128.7 152.58,123.8 152.63,132.1 152.68,137.2 152.73,124.0 152.77,123.3 152.82,127.1 152.87,124.3 152.92,132.0 152.97,124.7 153.02,122.8 153.07,126.8 153.12,128.1 153.17,124.4 153.22,125.0 153.27,132.1 153.32,124.3 153.37,126.6 153.42,128.9 153.47,124.6 153.52,126.1 153.57,126.8 153.62,131.5 153.67,126.5 153.72,133.9 153.77,130.2 153.82,136.2 153.87,136.3 153.91,128.2 153.96,130.2 154.01,129.7 154.06,127.8 154.11,128.7 154.16,133.5 154.21,129.9 154.26,130.5 154.31,132.2 154.36,130.8 154.41,131.7 154.46,132.9 154.51,131.7 154.56,129.6 154.61,122.6 154.66,133.7 154.71,128.6 154.76,136.3 154.81,124.5 154.86,132.0 154.91,130.2 154.96,125.9 155.01,127.0 155.05,136.7 155.10,128.8 155.15,131.9 155.20,128.6 155.25,130.5 155.30,128.2 155.35,130.0 155.40,131.7 155.45,126.6 155.50,137.3 155.55,133.0 155.60,135.1 155.65,132.0 155.70,133.1 155.75,132.1 155.80,133.5 155.85,133.4 155.90,138.1 155.95,131.8 156.00,130.5 156.05,134.1 156.10,134.4 156.15,134.4 156.19,125.2 156.24,131.2 156.29,130.4 156.34,133.2 156.39,134.0 156.44,135.6 156.49,126.0 156.54,139.0 156.59,131.0 156.64,132.4 156.69,133.3 156.74,138.6 156.79,137.4 156.84,128.5 156.89,135.3 156.94,129.0 156.99,129.9 157.04,130.3 157.09,129.6 157.14,137.6 157.19,134.7 157.24,130.0 157.29,137.9 157.33,126.1 157.38,135.2 157.43,133.2 157.48,137.2 157.53,131.5 157.58,136.1 157.63,134.1 157.68,137.8 157.73,128.3 157.78,139.9 157.83,131.4 157.88,132.4 157.93,131.6 157.98,137.6 158.03,129.2 158.08,129.5 158.13,132.9 158.18,132.3 158.23,134.3 158.28,131.0 158.33,137.1 158.38,131.5 158.43,132.1 158.47,139.7 158.52,144.8 158.57,134.4 158.62,134.6 158.67,128.9 158.72,133.8 158.77,136.2 158.82,139.8 158.87,134.5 158.92,136.6 158.97,138.9 159.02,134.8 159.07,129.9 159.12,134.0 159.17,138.8 159.22,133.1 159.27,139.1 159.32,141.2 159.37,132.5 159.42,136.9 159.47,130.0 159.52,133.4 159.57,138.2 159.61,133.9 159.66,129.3 159.71,135.7 159.76,139.4 159.81,137.8 159.86,138.5 159.91,140.1 159.96,140.6 160.01,133.3 160.06,130.4 160.11,136.7 160.16,131.9 160.21,131.4 160.26,128.1 160.31,136.2 160.36,136.9 160.41,133.6 160.46,135.1 160.51,134.2 160.56,130.0 160.61,137.5 160.66,134.7 160.71,139.9 160.75,136.4 160.80,138.7 160.85,139.1 160.90,136.8 160.95,137.8 161.00,134.3 161.05,132.5 161.10,142.5 161.15,131.7 161.20,145.7 161.25,135.1 161.30,133.1 161.35,139.1 161.40,137.3 161.45,139.7 161.50,132.4 161.55,150.6 161.60,140.7 161.65,145.0 161.70,135.7 161.75,130.8 161.80,131.3 161.85,133.7 161.89,135.6 161.94,140.1 161.99,131.3 162.04,134.0 162.09,140.6 162.14,142.5 162.19,139.7 162.24,132.1 162.29,131.4 162.34,129.8 162.39,140.5 162.44,138.7 162.49,131.0 162.54,136.2 162.59,133.8 162.64,143.2 162.69,139.0 162.74,137.4 162.79,139.0 162.84,139.3 162.89,144.8 162.94,130.2 162.99,136.9 163.03,144.1 163.08,132.7 163.13,137.3 163.18,134.4 163.23,138.6 163.28,141.3 163.33,141.2 163.38,136.2 163.43,134.3 163.48,135.6 163.53,135.0 163.58,132.5 163.63,136.7 163.68,133.4 163.73,133.0 163.78,136.7 163.83,138.4 163.88,140.1 163.93,143.7 163.98,145.3 164.03,132.2 164.08,138.3 164.13,140.8 164.17,131.1 164.22,133.9 164.27,138.1 164.32,133.8 164.37,139.3 164.42,136.8 164.47,130.1 164.52,133.6 164.57,139.8 164.62,135.4 164.67,133.1 164.72,139.2 164.77,140.6 164.82,130.0 164.87,140.1 164.92,144.9 164.97,138.1 165.02,128.1 165.07,135.9 165.12,134.3 165.17,149.3 165.22,141.4 165.27,133.2 165.31,140.7 165.36,132.7 165.41,136.6 165.46,137.0 165.51,131.0 165.56,141.3 165.61,141.2 165.66,138.5 165.71,138.0 165.76,146.8 165.81,133.3 165.86,138.1 165.91,140.0 165.96,136.3 166.01,141.1 166.06,133.6 166.11,139.0 166.16,135.9 166.21,143.6 166.26,140.8 166.31,137.7 166.36,144.1 166.41,142.7 166.45,139.9 166.50,134.3 166.55,136.0 166.60,135.4 166.65,138.3 166.70,135.5 166.75,132.4 166.80,139.1 166.85,137.8 166.90,137.2 166.95,149.3 167.00,140.5 167.05,138.1 167.10,136.5 167.15,141.7 167.20,135.5 167.25,143.4 167.30,141.2 167.35,132.2 167.40,146.8 167.45,140.8 167.50,141.2 167.55,141.0 167.59,143.2 167.64,137.5 167.69,145.7 167.74,146.8 167.79,138.4 167.84,146.8 167.89,139.0 167.94,140.8 167.99,144.3 168.04,142.7 168.09,141.5 168.14,138.9 168.19,144.3 168.24,142.2 168.29,148.0 168.34,142.7 168.39,150.6 168.44,141.6 168.49,143.7 168.54,131.1 168.59,135.2 168.64,142.3 168.69,136.9 168.73,140.3 168.78,148.0 168.83,153.6 168.88,136.3 168.93,139.9 168.98,152.1 169.03,138.8 169.08,137.4 169.13,145.5 169.18,138.1 169.23,150.6 169.28,143.3 169.33,142.1 169.38,138.3 169.43,140.3 169.48,141.2 169.53,139.6 169.58,145.7 169.63,135.0 169.68,144.2 169.73,138.5 169.78,142.6 169.83,143.9 169.87,139.7 169.92,140.4 169.97,135.9 170.02,137.3 170.07,145.7 170.12,140.3 170.17,142.4 170.22,146.8 170.27,148.0 170.32,141.7 170.37,145.7 170.42,150.6 170.47,143.6 170.52,142.0 170.57,142.7 170.62,149.3 170.67,145.7 170.72,136.3 170.77,146.8 170.82,145.1 170.87,131.5 170.92,141.7 170.97,145.7 171.01,153.6 171.06,142.0 171.11,150.6 171.16,143.8 171.21,148.0 171.26,152.1 171.31,135.2 171.36,144.4 171.41,139.1 171.46,140.1 171.51,148.0 171.56,143.5 171.61,145.7 171.66,139.0 171.71,141.9 171.76,145.7 171.81,135.5 171.86,141.5 171.91,141.8 171.96,148.0 172.01,142.2 172.06,152.1 172.11,142.0 172.15,149.3 172.20,143.5 172.25,145.7 172.30,143.3 172.35,142.7 172.40,144.9 172.45,145.0 172.50,152.1 172.55,155.2 172.60,138.1 172.65,141.8 172.70,152.1 172.75,134.7 172.80,149.3 172.85,142.2 172.90,142.7 172.95,144.4 173.00,141.8 173.05,152.1 173.10,145.3 173.15,146.8 173.20,144.7 173.25,146.8 173.29,149.3 173.34,149.3 173.39,140.6 173.44,149.3 173.49,143.5 173.54,143.6 173.59,145.7 173.64,143.2 173.69,142.6 173.74,148.0 173.79,143.8 173.84,135.3 173.89,152.1 173.94,146.8 173.99,149.3 174.04,135.0 174.09,153.6 174.14,145.7 174.19,140.8 174.24,150.6 174.29,146.8 174.34,149.3 174.39,153.6 174.43,146.8 174.48,143.4 174.53,148.0 174.58,145.3 174.63,142.5 174.68,139.7 174.73,153.6 174.78,142.9 174.83,149.3 174.88,157.0 174.93,150.6 174.98,142.9 175.03,144.8 175.08,152.1 175.13,137.7 175.18,144.3 175.23,146.8 175.28,149.3 175.33,144.4 175.38,149.3 175.43,140.5 175.48,145.0 175.53,143.4 175.57,148.0 175.62,155.2 175.67,144.0 175.72,152.1 175.77,148.0 175.82,146.8 175.87,152.1 175.92,142.1 175.97,155.2 176.02,138.8 176.07,150.6 176.12,141.8 176.17,140.0 176.22,152.1 176.27,152.1 176.32,142.1 176.37,146.8 176.42,146.8 176.47,157.0 176.52,157.0 176.57,144.5 176.62,139.5 176.67,152.1 176.71,152.1 176.76,146.8 176.81,145.1 176.86,144.5 176.91,150.6 176.96,158.9 177.01,139.6 177.06,150.6 177.11,140.8 177.16,158.9 177.21,145.7 177.26,150.6 177.31,153.6 177.36,142.5 177.41,140.7 177.46,152.1 177.51,144.5 177.56,153.6 177.61,152.1 177.66,149.3 177.71,150.6 177.76,144.7 177.81,155.2 177.85,142.8 177.90,142.9 177.95,149.3 178.00,155.2 178.05,163.3 178.10,149.3 178.15,152.1 178.20,148.0 178.25,155.2 178.30,148.0 178.35,149.3 178.40,149.3 178.45,146.8 178.50,146.8 178.55,143.2 178.60,153.6 178.65,144.7 178.70,148.0 178.75,152.1 178.80,155.2 178.85,140.6 178.90,148.0 178.95,152.1 178.99,149.3 179.04,149.3 179.09,152.1 179.14,157.0 179.19,148.0 179.24,150.6 179.29,150.6 179.34,143.6 179.39,157.0 179.44,155.2 179.49,148.0 179.54,144.6 179.59,145.7 179.64,145.3 179.69,163.3 179.74,146.8 179.79,146.8 179.84,145.6 179.89,153.6 179.94,146.8 179.99,143.8 180.04,140.3 180.08,148.0 180.13,157.0 180.18,149.3 180.23,145.7 180.28,146.8 180.33,138.6 180.38,150.6 180.43,155.2 180.48,153.6 180.53,145.7 180.58,155.2 180.63,157.0 180.68,155.2 180.73,143.0 180.78,149.3 180.83,152.1 180.88,145.2 180.93,145.7 180.98,157.0 181.03,145.4 181.08,149.3 181.13,163.3 181.18,157.0 181.22,149.3 181.27,148.0 181.32,152.1 181.37,157.0 181.42,149.3 181.47,161.0 181.52,146.8 181.57,152.1 181.62,150.6 181.67,155.2 181.72,145.7 181.77,165.9 181.82,155.2 181.87,146.8 181.92,155.2 181.97,142.1 182.02,148.0 182.07,155.2 182.12,144.3 182.17,152.1 182.22,148.0 182.27,155.2 182.32,155.2 182.36,146.8 182.41,150.6 182.46,155.2 182.51,157.0 182.56,146.8 182.61,140.5 182.66,157.0 182.71,146.8 182.76,168.9 182.81,158.9 182.86,146.8 182.91,141.6 182.96,150.6 183.01,148.0 183.06,149.3 183.11,145.2 183.16,158.9 183.21,148.0 183.26,153.6 183.31,153.6 183.36,152.1 183.41,153.6 183.46,157.0 183.50,153.6 183.55,157.0 183.60,142.6 183.65,146.8 183.70,153.6 183.75,141.9 183.80,143.9 183.85,149.3 183.90,155.2 183.95,150.6 184.00,148.0 184.05,143.3 184.10,153.6 184.15,155.2 184.20,137.8 184.25,143.4 184.30,150.6 184.35,157.0 184.40,149.3 184.45,145.2 184.50,148.0 184.55,146.8 184.60,152.1 184.64,145.2 184.69,157.0 184.74,155.2 184.79,155.2 184.84,157.0 184.89,140.2 184.94,163.3 184.99,150.6 185.04,158.9 185.09,161.0 185.14,152.1 185.19,163.3 185.24,153.6 185.29,138.2 185.34,153.6 185.39,149.3 185.44,158.9 185.49,149.3 185.54,163.3 185.59,152.1 185.64,153.6 185.69,139.2 185.74,153.6 185.78,155.2 185.83,157.0 185.88,161.0 185.93,148.0 185.98,144.0 186.03,155.2 186.08,149.3 186.13,155.2 186.18,150.6 186.23,150.6 186.28,163.3 186.33,158.9 186.38,148.0 186.43,165.9 186.48,153.6 186.53,155.2 186.58,158.9 186.63,153.6 186.68,152.1 186.73,150.6 186.78,172.3 186.83,143.0 186.88,157.0 186.92,146.8 186.97,155.2 187.02,157.0 187.07,155.2 187.12,133.3 187.17,143.8 187.22,157.0 187.27,152.1 187.32,146.8 187.37,150.6 187.42,153.6 187.47,155.2 187.52,161.0 187.57,149.3 187.62,146.8 187.67,139.7 187.72,158.9 187.77,150.6 187.82,155.2 187.87,145.7 187.92,155.2 187.97,158.9 188.02,165.9 188.06,149.3 188.11,153.6 188.16,146.8 188.21,158.9 188.26,137.5 188.31,158.9 188.36,152.1 188.41,152.1 188.46,148.0 188.51,155.2 188.56,161.0 188.61,161.0 188.66,149.3 188.71,153.6 188.76,152.1 188.81,161.0 188.86,153.6 188.91,153.6 188.96,150.6 189.01,165.9 189.06,161.0 189.11,143.6 189.16,158.9 189.20,155.2 189.25,158.9 189.30,165.9 189.35,163.3 189.40,153.6 189.45,161.0 189.50,141.8 189.55,165.9 189.60,168.9 189.65,158.9 189.70,163.3 189.75,145.7 189.80,158.9 189.85,152.1 189.90,165.9 189.95,150.6 190.00,152.1 190.05,146.8 190.10,155.2 190.15,152.1 190.20,155.2 190.25,149.3 190.30,158.9 190.34,152.1 190.39,161.0 190.44,150.6 190.49,158.9 190.54,161.0 190.59,161.0 190.64,145.7 190.69,165.9 190.74,165.9 190.79,152.1 190.84,163.3 190.89,158.9 190.94,158.9 190.99,140.7 191.04,161.0 191.09,161.0 191.14,158.9 191.19,155.2 191.24,153.6 191.29,165.9 191.34,153.6 191.39,143.1 191.44,168.9 191.48,152.1 191.53,152.1 191.58,155.2 191.63,158.9 191.68,172.3 191.73,148.0 191.78,158.9 191.83,158.9 191.88,148.0 191.93,172.3 191.98,157.0 192.03,152.1 192.08,152.1 192.13,152.1 192.18,142.7 192.23,155.2 192.28,149.3 192.33,152.1 192.38,168.9 192.43,163.3 192.48,142.5 192.53,158.9 192.58,157.0 192.62,165.9 192.67,158.9 192.72,165.9 192.77,161.0 192.82,153.6 192.87,163.3 192.92,161.0 192.97,148.0 193.02,153.6 193.07,153.6 193.12,150.6 193.17,161.0 193.22,161.0 193.27,172.3 193.32,152.1 193.37,158.9 193.42,157.0 193.47,165.9 193.52,153.6 193.57,153.6 193.62,157.0 193.67,168.9 193.72,163.3 193.76,158.9 193.81,163.3 193.86,155.2 193.91,150.6 193.96,163.3 194.01,158.9 194.06,163.3 194.11,150.6 194.16,152.1 194.21,139.0 194.26,158.9 194.31,165.9 194.36,155.2 194.41,158.9 194.46,157.0 194.51,149.3 194.56,161.0 194.61,153.6 194.66,172.3 194.71,150.6 194.76,157.0 194.81,161.0 194.86,161.0 194.90,148.0 194.95,163.3 195.00,149.3 195.05,163.3 195.10,158.9 195.15,155.2 195.20,143.9 195.25,157.0 195.30,157.0 195.35,158.9 195.40,161.0 195.45,163.3 195.50,145.5 195.55,148.0 195.60,163.3 195.65,157.0 195.70,168.9 195.75,152.1 195.80,153.6 195.85,158.9 195.90,165.9 195.95,153.6 196.00,155.2 196.04,161.0 196.09,153.6 196.14,168.9 196.19,163.3 196.24,165.9 196.29,158.9 196.34,146.8 196.39,158.9 196.44,150.6 196.49,158.9 196.54,163.3 196.59,152.1 196.64,155.2 196.69,149.3 196.74,152.1 196.79,165.9 196.84,176.3 196.89,158.9 196.94,168.9 196.99,168.9 197.04,172.3 197.09,163.3 197.14,161.0 197.18,158.9 197.23,144.4 197.28,168.9 197.33,158.9 197.38,168.9 197.43,165.9 197.48,158.9 197.53,157.0 197.58,168.9 197.63,150.6 197.68,165.9 197.73,152.1 197.78,161.0 197.83,153.6 197.88,155.2 197.93,163.3 197.98,157.0 198.03,168.9 198.08,168.9 198.13,163.3 198.18,149.3 198.23,165.9 198.28,165.9 198.32,148.0 198.37,161.0 198.42,161.0 198.47,168.9 198.52,158.9 198.57,155.2 198.62,161.0 198.67,155.2 198.72,158.9 198.77,152.1 198.82,153.6 198.87,161.0 198.92,153.6 198.97,146.8 199.02,158.9 199.07,168.9 199.12,158.9 199.17,163.3 199.22,140.9 199.27,155.2 199.32,168.9 199.37,163.3 199.42,149.3 199.46,168.9 199.51,165.9 199.56,161.0 199.61,161.0 199.66,165.9 199.71,161.0 199.76,172.3 199.81,165.9 199.86,165.9 199.91,163.3 199.96,163.3 200.01,161.0 200.06,163.3 200.11,163.3 200.16,158.9 200.21,155.2 200.26,153.6 200.31,168.9 200.36,158.9 200.41,155.2 200.46,163.3 200.51,157.0 200.56,163.3 200.60,158.9 200.65,172.3 200.70,158.9 200.75,165.9 200.80,168.9 200.85,163.3 200.90,153.6 200.95,155.2 201.00,158.9 201.05,155.2 201.10,165.9 201.15,172.3 201.20,176.3 201.25,163.3 201.30,163.3 201.35,161.0 201.40,161.0 201.45,152.1 201.50,168.9 201.55,168.9 201.60,146.8 201.65,157.0 201.70,163.3 201.74,176.3 201.79,168.9 201.84,165.9 201.89,163.3 201.94,161.0 201.99,163.3 202.04,153.6 202.09,172.3 202.14,165.9 202.19,168.9 202.24,157.0 202.29,161.0 202.34,157.0 202.39,161.0 202.44,132.9 202.49,157.0 202.54,168.9 202.59,163.3 202.64,165.9 202.69,157.0 202.74,155.2 202.79,158.9 202.84,163.3 202.88,168.9 202.93,150.6 202.98,153.6 203.03,187.6 203.08,163.3 203.13,168.9 203.18,165.9 203.23,149.3 203.28,172.3 203.33,172.3 203.38,143.3 203.43,165.9 203.48,165.9 203.53,153.6 203.58,165.9 203.63,163.3 203.68,161.0 203.73,152.1 203.78,176.3 203.83,168.9 203.88,163.3 203.93,155.2 203.98,168.9 204.02,158.9 204.07,165.9 204.12,165.9 204.17,153.6 204.22,165.9 204.27,139.3 204.32,161.0 204.37,153.6 204.42,157.0 204.47,176.3 204.52,176.3 204.57,158.9 204.62,172.3 204.67,168.9 204.72,165.9 204.77,172.3 204.82,153.6 204.87,157.0 204.92,161.0 204.97,158.9 205.02,172.3 205.07,157.0 205.12,172.3 205.16,150.6 205.21,168.9 205.26,168.9 205.31,153.6 205.36,158.9 205.41,172.3 205.46,158.9 205.51,163.3 205.56,163.3 205.61,158.9 205.66,158.9 205.71,155.2 205.76,161.0 205.81,161.0 205.86,165.9 205.91,152.1 205.96,168.9 206.01,148.0 206.06,145.7 206.11,145.7 206.16,165.9 206.21,146.8 206.26,155.2 206.30,155.2 206.35,137.0 206.40,163.3 206.45,158.9 206.50,176.3 206.55,181.2 206.60,161.0 206.65,161.0 206.70,158.9 206.75,161.0 206.80,181.2 206.85,161.0 206.90,155.2 206.95,150.6 207.00,172.3 207.05,172.3 207.10,168.9 207.15,168.9 207.20,176.3 207.25,168.9 207.30,152.1 207.35,172.3 207.40,181.2 207.44,165.9 207.49,168.9 207.54,158.9 207.59,172.3 207.64,165.9 207.69,172.3 207.74,172.3 207.79,161.0 207.84,163.3 207.89,165.9 207.94,161.0 207.99,172.3 208.04,165.9 208.09,163.3 208.14,155.2 208.19,181.2 208.24,168.9 208.29,161.0 208.34,168.9 208.39,163.3 208.44,158.9 208.49,161.0 208.54,181.2 208.58,176.3 208.63,187.6 208.68,158.9 208.73,163.3 208.78,153.6 208.83,165.9 208.88,176.3 208.93,157.0 208.98,176.3 209.03,165.9 209.08,165.9 209.13,158.9 209.18,157.0 209.23,168.9 209.28,172.3 209.33,165.9 209.38,172.3 209.43,157.0 209.48,163.3 209.53,153.6 209.58,143.4 209.63,172.3 209.68,172.3 209.72,161.0 209.77,163.3 209.82,168.9 209.87,181.2 209.92,144.0 209.97,165.9 210.02,176.3 210.07,187.6 210.12,153.6 210.17,163.3 210.22,165.9 210.27,176.3 210.32,165.9 210.37,168.9 210.42,187.6 210.47,143.0 210.52,163.3 210.57,168.9 210.62,176.3 210.67,172.3 210.72,145.2 210.77,163.3 210.82,176.3 210.86,158.9 210.91,161.0 210.96,161.0 211.01,168.9 211.06,168.9 211.11,163.3 211.16,168.9 211.21,181.2 211.26,176.3 211.31,165.9 211.36,181.2 211.41,168.9 211.46,168.9 211.51,161.0 211.56,165.9 211.61,168.9 211.66,168.9 211.71,163.3 211.76,158.9 211.81,176.3 211.86,181.2 211.91,172.3 211.95,187.6 212.00,172.3 212.05,158.9 212.10,158.9 212.15,153.6 212.20,165.9 212.25,165.9 212.30,172.3 212.35,172.3 212.40,163.3 212.45,158.9 212.50,163.3 212.55,187.6 212.60,163.3 212.65,165.9 212.70,172.3 212.75,165.9 212.80,158.9 212.85,165.9 212.90,172.3 212.95,137.5 213.00,172.3 213.05,163.3 213.09,157.0 213.14,176.3 213.19,163.3 213.24,176.3 213.29,168.9 213.34,176.3 213.39,152.1 213.44,181.2 213.49,163.3 213.54,165.9 213.59,187.6 213.64,152.1 213.69,172.3 213.74,168.9 213.79,165.9 213.84,176.3 213.89,176.3 213.94,168.9 213.99,176.3 214.04,165.9 214.09,157.0 214.14,176.3 214.19,181.2 214.23,168.9 214.28,163.3 214.33,161.0 214.38,176.3 214.43,187.6 214.48,161.0 214.53,161.0 214.58,155.2 214.63,176.3 214.68,163.3 214.73,158.9 214.78,187.6 214.83,158.9 214.88,155.2 214.93,163.3 214.98,163.3 215.03,161.0 215.08,172.3 215.13,181.2 215.18,176.3 215.23,168.9 215.28,176.3 215.33,158.9 215.37,172.3 215.42,168.9 215.47,187.6 215.52,165.9 215.57,176.3 215.62,155.2 215.67,187.6 215.72,165.9 215.77,172.3 215.82,172.3 215.87,153.6 215.92,158.9 215.97,176.3 216.02,155.2 216.07,176.3 216.12,161.0 216.17,187.6 216.22,172.3 216.27,172.3 216.32,172.3 216.37,181.2 216.42,187.6 216.47,168.9 216.51,163.3 216.56,168.9 216.61,172.3 216.66,181.2 216.71,172.3 216.76,172.3 216.81,176.3 216.86,168.9 216.91,168.9 216.96,165.9 217.01,172.3 217.06,176.3 217.11,172.3 217.16,172.3 217.21,187.6 217.26,172.3 217.31,187.6 217.36,187.6 217.41,176.3 217.46,176.3 217.51,163.3 217.56,172.3 217.61,163.3 217.65,155.2 217.70,168.9 217.75,165.9 217.80,176.3 217.85,161.0 217.90,168.9 217.95,168.9 218.00,181.2 218.05,176.3 218.10,176.3 218.15,168.9 218.20,158.9 218.25,181.2 218.30,172.3 218.35,172.3 218.40,148.0 218.45,172.3 218.50,176.3 218.55,163.3 218.60,181.2 218.65,165.9 218.70,187.6 218.75,150.6 218.79,168.9 218.84,172.3 218.89,181.2 218.94,172.3 218.99,168.9 219.04,176.3 219.09,158.9 219.14,172.3 219.19,168.9 219.24,168.9 219.29,157.0 219.34,172.3 219.39,168.9 219.44,168.9 219.49,163.3 219.54,187.6 219.59,158.9 219.64,172.3 219.69,176.3 219.74,172.3 219.79,187.6 219.84,176.3 219.89,168.9 219.93,157.0 219.98,172.3 220.03,165.9 220.08,172.3 220.13,163.3 220.18,172.3 220.23,165.9 220.28,172.3 220.33,181.2 220.38,181.2 220.43,176.3 220.48,158.9 220.53,140.2 220.58,172.3 220.63,176.3 220.68,165.9 220.73,165.9 220.78,176.3 220.83,152.1 220.88,163.3 220.93,161.0 220.98,168.9 221.03,168.9 221.07,161.0 221.12,181.2 221.17,176.3 221.22,168.9 221.27,187.6 221.32,155.2 221.37,176.3 221.42,176.3 221.47,168.9 221.52,157.0 221.57,172.3 221.62,176.3 221.67,181.2 221.72,168.9 221.77,176.3 221.82,148.0 221.87,158.9 221.92,196.5 221.97,181.2 222.02,168.9 222.07,149.3 222.12,187.6 222.17,176.3 222.21,158.9 222.26,176.3 222.31,168.9 222.36,176.3 222.41,165.9 222.46,181.2 222.51,172.3 222.56,187.6 222.61,161.0 222.66,165.9 222.71,172.3 222.76,172.3 222.81,172.3 222.86,176.3 222.91,168.9 222.96,168.9 223.01,172.3 223.06,176.3 223.11,176.3 223.16,176.3 223.21,165.9 223.26,168.9 223.31,152.1 223.35,172.3 223.40,172.3 223.45,176.3 223.50,172.3 223.55,176.3 223.60,181.2 223.65,168.9 223.70,157.0 223.75,181.2 223.80,176.3 223.85,172.3 223.90,168.9 223.95,158.9 224.00,176.3 224.05,172.3 224.10,181.2 224.15,181.2 224.20,176.3 224.25,181.2 224.30,168.9 224.35,161.0 224.40,176.3 224.45,181.2 224.49,158.9 224.54,176.3 224.59,157.0 224.64,196.5 224.69,172.3 224.74,181.2 224.79,176.3 224.84,163.3 224.89,161.0 224.94,172.3 224.99,163.3 225.04,181.2 225.09,168.9 225.14,172.3 225.19,187.6 225.24,163.3 225.29,181.2 225.34,168.9 225.39,181.2 225.44,172.3 225.49,165.9 225.54,172.3 225.59,176.3 225.63,165.9 225.68,172.3 225.73,176.3 225.78,172.3 225.83,172.3 225.88,176.3 225.93,163.3 225.98,155.2 226.03,176.3 226.08,172.3 226.13,181.2 226.18,187.6 226.23,161.0 226.28,181.2 226.33,168.9 226.38,187.6 226.43,181.2 226.48,168.9 226.53,168.9 226.58,172.3 226.63,168.9 226.68,172.3 226.73,163.3 226.77,155.2 226.82,168.9 226.87,176.3 226.92,181.2 226.97,176.3 227.02,176.3 227.07,158.9 227.12,187.6 227.17,181.2 227.22,181.2 227.27,163.3 227.32,181.2 227.37,196.5 227.42,196.5 227.47,168.9 227.52,187.6 227.57,163.3 227.62,163.3 227.67,187.6 227.72,176.3 227.77,172.3 227.82,187.6 227.87,187.6 227.91,181.2 227.96,172.3 228.01,172.3 228.06,196.5 228.11,172.3 228.16,176.3 228.21,176.3 228.26,181.2 228.31,163.3 228.36,158.9 228.41,181.2 228.46,176.3 228.51,187.6 228.56,176.3 228.61,165.9 228.66,176.3 228.71,168.9 228.76,176.3 228.81,172.3 228.86,165.9 228.91,165.9 228.96,196.5 229.01,176.3 229.05,211.8 229.10,172.3 229.15,181.2 229.20,181.2 229.25,158.9 229.30,168.9 229.35,163.3 229.40,168.9 229.45,157.0 229.50,176.3 229.55,176.3 229.60,176.3 229.65,149.3 229.70,176.3 229.75,172.3 229.80,161.0 229.85,165.9 229.90,181.2 229.95,157.0 230.00,168.9 230.05,158.9 230.10,168.9 230.15,165.9 230.19,181.2 230.24,158.9 230.29,181.2 230.34,172.3 230.39,163.3 230.44,176.3 230.49,172.3 230.54,176.3 230.59,172.3 230.64,168.9 230.69,187.6 230.74,181.2 230.79,153.6 230.84,196.5 230.89,181.2 230.94,165.9 230.99,196.5 231.04,181.2 231.09,181.2 231.14,158.9 231.19,181.2 231.24,168.9 231.29,181.2 231.33,176.3 231.38,187.6 231.43,187.6 231.48,181.2 231.53,187.6 231.58,176.3 231.63,172.3 231.68,172.3 231.73,158.9 231.78,161.0 231.83,187.6 231.88,181.2 231.93,157.0 231.98,176.3 232.03,181.2 232.08,163.3 232.13,181.2 232.18,165.9 232.23,176.3 232.28,161.0 232.33,176.3 232.38,165.9 232.43,163.3 232.47,158.9 232.52,181.2 232.57,181.2 232.62,187.6 232.67,196.5 232.72,181.2 232.77,172.3 232.82,161.0 232.87,181.2 232.92,155.2 232.97,172.3 233.02,165.9 233.07,176.3 233.12,187.6 233.17,158.9 233.22,176.3 233.27,163.3 233.32,181.2 233.37,168.9 233.42,176.3 233.47,181.2 233.52,176.3 233.57,168.9 233.61,187.6 233.66,187.6 233.71,165.9 233.76,181.2 233.81,172.3 233.86,187.6 233.91,176.3 233.96,163.3 234.01,176.3 234.06,172.3 234.11,181.2 234.16,176.3 234.21,196.5 234.26,196.5 234.31,172.3 234.36,196.5 234.41,161.0 234.46,165.9 234.51,187.6 234.56,196.5 234.61,196.5 234.66,172.3 234.71,176.3 234.75,161.0 234.80,172.3 234.85,158.9 234.90,165.9 234.95,187.6 235.00,176.3 235.05,187.6 235.10,181.2 235.15,181.2 235.20,181.2 235.25,161.0 235.30,181.2 235.35,187.6 235.40,181.2 235.45,181.2 235.50,181.2 235.55,176.3 235.60,181.2 235.65,163.3 235.70,155.2 235.75,172.3 235.80,163.3 235.85,176.3 235.89,165.9 235.94,172.3 235.99,161.0 236.04,187.6 236.09,181.2 236.14,163.3 236.19,176.3 236.24,176.3 236.29,152.1 236.34,163.3 236.39,168.9 236.44,172.3 236.49,187.6 236.54,158.9 236.59,176.3 236.64,161.0 236.69,187.6 236.74,187.6 236.79,196.5 236.84,172.3 236.89,158.9 236.94,168.9 236.99,161.0 237.03,176.3 237.08,172.3 237.13,196.5 237.18,157.0 237.23,187.6 237.28,158.9 237.33,168.9 237.38,165.9 237.43,165.9 237.48,181.2 237.53,176.3 237.58,187.6 237.63,168.9 237.68,165.9 237.73,163.3 237.78,168.9 237.83,165.9 237.88,176.3 237.93,158.9 237.98,187.6 238.03,168.9 238.08,163.3 238.13,181.2 238.17,187.6 238.22,172.3 238.27,172.3 238.32,172.3 238.37,181.2 238.42,168.9 238.47,181.2 238.52,165.9 238.57,168.9 238.62,163.3 238.67,181.2 238.72,172.3 238.77,168.9 238.82,172.3 238.87,152.1 238.92,163.3 238.97,176.3 239.02,168.9 239.07,163.3 239.12,150.6 239.17,158.9 239.22,168.9 239.27,158.9 239.31,172.3 239.36,181.2 239.41,172.3 239.46,163.3 239.51,181.2 239.56,163.3 239.61,165.9 239.66,168.9 239.71,172.3 239.76,181.2 239.81,168.9 239.86,181.2 239.91,168.9 239.96,165.9 240.01,163.3 240.06,187.6 240.11,168.9 240.16,165.9 240.21,161.0 240.26,163.3 240.31,153.6 240.36,165.9 240.41,165.9 240.45,176.3 240.50,176.3 240.55,165.9 240.60,158.9 240.65,168.9 240.70,155.2 240.75,165.9 240.80,165.9 240.85,161.0 240.90,168.9 240.95,165.9 241.00,172.3 241.05,161.0 241.10,187.6 241.15,168.9 241.20,172.3 241.25,161.0 241.30,168.9 241.35,161.0 241.40,163.3 241.45,163.3 241.50,176.3 241.55,176.3 241.59,187.6 241.64,187.6 241.69,168.9 241.74,172.3 241.79,165.9 241.84,181.2 241.89,187.6 241.94,168.9 241.99,181.2 242.04,161.0 242.09,181.2 242.14,163.3 242.19,172.3 242.24,161.0 242.29,165.9 242.34,168.9 242.39,163.3 242.44,176.3 242.49,176.3 242.54,181.2 242.59,163.3 242.64,165.9 242.68,181.2 242.73,158.9 242.78,152.1 242.83,187.6 242.88,157.0 242.93,161.0 242.98,161.0 243.03,163.3 243.08,181.2 243.13,152.1 243.18,163.3 243.23,176.3 243.28,163.3 243.33,172.3 243.38,187.6 243.43,163.3 243.48,165.9 243.53,168.9 243.58,187.6 243.63,211.8 243.68,172.3 243.73,172.3 243.78,172.3 243.82,187.6 243.87,176.3 243.92,172.3 243.97,157.0 244.02,168.9 244.07,165.9 244.12,172.3 244.17,172.3 244.22,172.3 244.27,163.3 244.32,161.0 244.37,163.3 244.42,165.9 244.47,163.3 244.52,187.6 244.57,161.0 244.62,157.0 244.67,181.2 244.72,161.0 244.77,172.3 244.82,172.3 244.87,163.3 244.92,163.3 244.96,187.6 245.01,172.3 245.06,181.2 245.11,153.6 245.16,176.3 245.21,163.3 245.26,161.0 245.31,163.3 245.36,187.6 245.41,172.3 245.46,172.3 245.51,172.3 245.56,163.3 245.61,165.9 245.66,176.3 245.71,176.3 245.76,176.3 245.81,165.9 245.86,172.3 245.91,161.0 245.96,155.2 246.01,181.2 246.06,158.9 246.10,165.9 246.15,181.2 246.20,181.2 246.25,176.3 246.30,157.0 246.35,176.3 246.40,163.3 246.45,176.3 246.50,161.0 246.55,165.9 246.60,168.9 246.65,165.9 246.70,155.2 246.75,168.9 246.80,176.3 246.85,165.9 246.90,163.3 246.95,168.9 247.00,172.3 247.05,181.2 247.10,161.0 247.15,172.3 247.20,196.5 247.24,172.3 247.29,181.2 247.34,172.3 247.39,176.3 247.44,176.3 247.49,196.5 247.54,181.2 247.59,187.6 247.64,172.3 247.69,163.3 247.74,168.9 247.79,168.9 247.84,163.3 247.89,165.9 247.94,196.5 247.99,163.3 248.04,176.3 248.09,181.2 248.14,163.3 248.19,168.9 248.24,158.9 248.29,168.9 248.34,176.3 248.38,176.3 248.43,161.0 248.48,168.9 248.53,168.9 248.58,172.3 248.63,168.9 248.68,176.3 248.73,176.3 248.78,172.3 248.83,196.5 248.88,176.3 248.93,181.2 248.98,165.9 249.03,172.3 249.08,187.6 249.13,168.9 249.18,187.6 249.23,181.2 249.28,172.3 249.33,187.6 249.38,172.3 249.43,172.3 249.48,168.9 249.52,155.2 249.57,172.3 249.62,181.2 249.67,172.3 249.72,172.3 249.77,163.3 249.82,172.3 249.87,172.3 249.92,155.2 249.97,165.9 250.02,168.9 250.07,163.3 250.12,172.3 250.17,181.2 250.22,163.3 250.27,168.9 250.32,176.3 250.37,181.2 250.42,161.0 250.47,181.2 250.52,172.3 250.57,181.2 250.62,181.2 250.66,187.6 250.71,163.3 250.76,161.0 250.81,176.3 250.86,165.9 250.91,181.2 250.96,163.3 251.01,163.3 251.06,187.6 251.11,187.6 251.16,165.9 251.21,153.6 251.26,181.2 251.31,165.9 251.36,163.3 251.41,168.9 251.46,165.9 251.51,181.2 251.56,168.9 251.61,176.3 251.66,165.9 251.71,187.6 251.76,168.9 251.80,187.6 251.85,165.9 251.90,168.9 251.95,181.2 252.00,168.9 252.05,168.9 252.10,196.5 252.15,172.3 252.20,181.2 252.25,181.2 252.30,176.3 252.35,187.6 252.40,161.0 252.45,172.3 252.50,211.8 252.55,161.0 252.60,172.3 252.65,168.9 252.70,155.2 252.75,172.3 252.80,196.5 252.85,165.9 252.90,181.2 252.94,168.9 252.99,172.3 253.04,172.3 253.09,172.3 253.14,163.3 253.19,168.9 253.24,172.3 253.29,161.0 253.34,172.3 253.39,172.3 253.44,181.2 253.49,158.9 253.54,176.3 253.59,187.6 253.64,172.3 253.69,158.9 253.74,181.2 253.79,176.3 253.84,172.3 253.89,161.0 253.94,176.3 253.99,196.5 254.04,158.9 254.08,168.9 254.13,181.2 254.18,181.2 254.23,172.3 254.28,176.3 254.33,163.3 254.38,196.5 254.43,187.6 254.48,181.2 254.53,165.9 254.58,165.9 254.63,176.3 254.68,196.5 254.73,172.3 254.78,176.3 254.83,161.0 254.88,172.3 254.93,168.9 254.98,176.3 255.03,161.0 255.08,165.9 255.13,187.6 255.18,172.3 255.22,172.3 255.27,187.6 255.32,172.3 255.37,168.9 255.42,168.9 255.47,196.5 255.52,181.2 255.57,181.2 255.62,165.9 255.67,181.2 255.72,157.0 255.77,176.3 255.82,172.3 255.87,176.3 255.92,163.3 255.97,181.2 256.02,165.9 256.07,176.3 256.12,176.3 256.17,181.2 256.22,165.9 256.27,187.6 256.32,172.3 256.36,168.9 256.41,168.9 256.46,176.3 256.51,172.3 256.56,158.9 256.61,168.9 256.66,181.2 256.71,176.3 256.76,163.3 256.81,172.3 256.86,172.3 256.91,176.3 256.96,176.3 257.01,163.3 257.06,168.9 257.11,176.3 257.16,211.8 257.21,187.6 257.26,157.0 257.31,181.2 257.36,181.2 257.41,172.3 257.46,172.3 257.50,165.9 257.55,168.9 257.60,161.0 257.65,157.0 257.70,165.9 257.75,181.2 257.80,165.9 257.85,161.0 257.90,181.2 257.95,211.8 258.00,176.3 258.05,176.3 258.10,165.9 258.15,168.9 258.20,196.5 258.25,168.9 258.30,172.3 258.35,163.3 258.40,196.5 258.45,176.3 258.50,211.8 258.55,172.3 258.60,168.9 258.64,168.9 258.69,176.3 258.74,181.2 258.79,181.2 258.84,158.9 258.89,176.3 258.94,172.3 258.99,165.9 259.04,187.6 259.09,155.2 259.14,163.3 259.19,172.3 259.24,187.6 259.29,181.2 259.34,176.3 259.39,168.9 259.44,172.3 259.49,172.3 259.54,176.3 259.59,172.3 259.64,172.3 259.69,163.3 259.74,168.9 259.78,187.6 259.83,168.9 259.88,163.3 259.93,168.9 259.98,163.3 260.03,187.6 260.08,187.6 260.13,181.2 260.18,168.9 260.23,168.9 260.28,168.9 260.33,181.2 260.38,176.3 260.43,161.0 260.48,181.2 260.53,165.9 260.58,165.9 260.63,211.8 260.68,176.3 260.73,176.3 260.78,172.3 260.83,176.3 260.88,172.3 260.92,168.9 260.97,161.0 261.02,181.2 261.07,176.3 261.12,176.3 261.17,168.9 261.22,181.2 261.27,176.3 261.32,165.9 261.37,196.5 261.42,168.9 261.47,196.5 261.52,176.3 261.57,187.6 261.62,165.9 261.67,187.6 261.72,181.2 261.77,176.3 261.82,176.3 261.87,163.3 261.92,181.2 261.97,196.5 262.02,187.6 262.06,181.2 262.11,176.3 262.16,181.2 262.21,165.9 262.26,181.2 262.31,196.5 262.36,176.3 262.41,196.5 262.46,181.2 262.51,172.3 262.56,168.9 262.61,168.9 262.66,176.3 262.71,163.3 262.76,168.9 262.81,187.6 262.86,172.3 262.91,181.2 262.96,158.9 263.01,172.3 263.06,181.2 263.11,187.6 263.16,168.9 263.20,172.3 263.25,187.6 263.30,168.9 263.35,161.0 263.40,196.5 263.45,181.2 263.50,187.6 263.55,163.3 263.60,176.3 263.65,168.9 263.70,181.2 263.75,187.6 263.80,181.2 263.85,172.3 263.90,172.3 263.95,176.3 264.00,181.2 264.05,172.3 264.10,161.0 264.15,181.2 264.20,176.3 264.25,181.2 264.30,187.6 264.34,165.9 264.39,211.8 264.44,176.3 264.49,168.9 264.54,165.9 264.59,172.3 264.64,176.3 264.69,163.3 264.74,187.6 264.79,163.3 264.84,181.2 264.89,172.3 264.94,168.9 264.99,168.9 265.04,187.6 265.09,165.9 265.14,187.6 265.19,161.0 265.24,176.3 265.29,172.3 265.34,181.2 265.39,168.9 265.44,165.9 265.48,165.9 265.53,161.0 265.58,187.6 265.63,187.6 265.68,163.3 265.73,176.3 265.78,172.3 265.83,172.3 265.88,163.3 265.93,163.3 265.98,176.3 266.03,196.5 266.08,176.3 266.13,165.9 266.18,181.2 266.23,168.9 266.28,181.2 266.33,176.3 266.38,168.9 266.43,181.2 266.48,172.3 266.53,172.3 266.58,176.3 266.62,172.3 266.67,168.9 266.72,196.5 266.77,181.2 266.82,176.3 266.87,176.3 266.92,168.9 266.97,187.6 267.02,176.3 267.07,181.2 267.12,176.3 267.17,176.3 267.22,196.5 267.27,211.8 267.32,168.9 267.37,165.9 267.42,168.9 267.47,187.6 267.52,181.2 267.57,163.3 267.62,181.2 267.67,176.3 267.72,176.3 267.76,176.3 267.81,187.6 267.86,181.2 267.91,163.3 267.96,211.8 268.01,181.2 268.06,181.2 268.11,211.8 268.16,176.3 268.21,187.6 268.26,172.3 268.31,165.9 268.36,176.3 268.41,158.9 268.46,176.3 268.51,187.6 268.56,181.2 268.61,165.9 268.66,187.6 268.71,165.9 268.76,165.9 268.81,181.2 268.86,158.9 268.90,172.3 268.95,181.2 269.00,168.9 269.05,238.4 269.10,176.3 269.15,161.0 269.20,181.2 269.25,181.2 269.30,165.9 269.35,172.3 269.40,211.8 269.45,168.9 269.50,211.8 269.55,181.2 269.60,196.5 269.65,165.9 269.70,187.6 269.75,172.3 269.80,181.2 269.85,165.9 269.90,168.9 269.95,176.3 270.00,163.3 270.04,172.3 270.09,163.3 270.14,172.3 270.19,176.3 270.24,155.2 270.29,181.2 270.34,176.3 270.39,181.2 270.44,163.3 270.49,187.6 270.54,181.2 270.59,165.9 270.64,181.2 270.69,181.2 270.74,165.9 270.79,187.6 270.84,196.5 270.89,196.5 270.94,165.9 270.99,176.3 271.04,196.5 271.09,181.2 271.14,187.6 271.18,168.9 271.23,165.9 271.28,181.2 271.33,181.2 271.38,168.9 271.43,172.3 271.48,168.9 271.53,163.3 271.58,161.0 271.63,187.6 271.68,187.6 271.73,172.3 271.78,168.9 271.83,181.2 271.88,187.6 271.93,181.2 271.98,187.6 272.03,181.2 272.08,211.8 272.13,176.3 272.18,181.2 272.23,187.6 272.28,172.3 272.32,187.6 272.37,196.5 272.42,172.3 272.47,172.3 272.52,176.3 272.57,196.5 272.62,196.5 272.67,181.2 272.72,176.3 272.77,196.5 272.82,176.3 272.87,172.3 272.92,168.9 272.97,168.9 273.02,176.3 273.07,181.2 273.12,168.9 273.17,181.2 273.22,168.9 273.27,176.3 273.32,172.3 273.37,187.6 273.42,172.3 273.46,163.3 273.51,187.6 273.56,176.3 273.61,181.2 273.66,172.3 273.71,187.6 273.76,176.3 273.81,163.3 273.86,196.5 273.91,187.6 273.96,181.2 274.01,168.9 274.06,168.9 274.11,172.3 274.16,176.3 274.21,176.3 274.26,161.0 274.31,165.9 274.36,163.3 274.41,165.9 274.46,211.8 274.51,168.9 274.55,168.9 274.60,181.2 274.65,172.3 274.70,181.2 274.75,176.3 274.80,176.3 274.85,187.6 274.90,176.3 274.95,187.6 275.00,196.5 275.05,181.2 275.10,172.3 275.15,172.3 275.20,172.3 275.25,158.9 275.30,172.3 275.35,172.3 275.40,176.3 275.45,172.3 275.50,165.9 275.55,187.6 275.60,181.2 275.65,168.9 275.69,196.5 275.74,187.6 275.79,187.6 275.84,196.5 275.89,196.5 275.94,176.3 275.99,196.5 276.04,187.6 276.09,176.3 276.14,172.3 276.19,181.2 276.24,181.2 276.29,196.5 276.34,211.8 276.39,172.3 276.44,168.9 276.49,187.6 276.54,181.2 276.59,187.6 276.64,176.3 276.69,172.3 276.74,181.2 276.79,211.8 276.83,211.8 276.88,176.3 276.93,176.3 276.98,181.2 277.03,187.6 277.08,187.6 277.13,196.5 277.18,187.6 277.23,181.2 277.28,211.8 277.33,181.2 277.38,181.2 277.43,187.6 277.48,165.9 277.53,181.2 277.58,172.3 277.63,181.2 277.68,176.3 277.73,172.3 277.78,181.2 277.83,165.9 277.88,176.3 277.93,176.3 277.97,165.9 278.02,157.0 278.07,172.3 278.12,187.6 278.17,176.3 278.22,181.2 278.27,165.9 278.32,172.3 278.37,172.3 278.42,176.3 278.47,181.2 278.52,181.2 278.57,187.6 278.62,176.3 278.67,176.3 278.72,181.2 278.77,181.2 278.82,172.3 278.87,196.5 278.92,163.3 278.97,181.2 279.02,187.6 279.07,172.3 279.11,181.2 279.16,196.5 279.21,165.9 279.26,172.3 279.31,176.3 279.36,181.2 279.41,187.6 279.46,172.3 279.51,165.9 279.56,176.3 279.61,176.3 279.66,176.3 279.71,181.2 279.76,172.3 279.81,181.2 279.86,196.5 279.91,165.9 279.96,187.6 280.01,196.5 280.06,176.3 280.11,187.6 280.16,165.9 280.21,165.9 280.25,196.5 280.30,181.2 280.35,181.2 280.40,187.6 280.45,168.9 280.50,181.2 280.55,211.8 280.60,187.6 280.65,165.9 280.70,176.3 280.75,181.2 280.80,168.9 280.85,172.3 280.90,176.3 280.95,168.9 281.00,196.5 281.05,176.3 281.10,163.3 281.15,187.6 281.20,172.3 281.25,181.2 281.30,211.8 281.35,163.3 281.39,196.5 281.44,163.3 281.49,187.6 281.54,176.3 281.59,181.2 281.64,168.9 281.69,187.6 281.74,187.6 281.79,196.5 281.84,181.2 281.89,176.3 281.94,161.0 281.99,176.3 282.04,165.9 282.09,196.5 282.14,161.0 282.19,165.9 282.24,187.6 282.29,176.3 282.34,172.3 282.39,158.9 282.44,181.2 282.49,165.9 282.53,163.3 282.58,172.3 282.63,187.6 282.68,168.9 282.73,176.3 282.78,168.9 282.83,181.2 282.88,196.5 282.93,187.6 282.98,181.2 283.03,168.9 283.08,176.3 283.13,163.3 283.18,165.9 283.23,211.8 283.28,187.6 283.33,168.9 283.38,181.2 283.43,172.3 283.48,176.3 283.53,181.2 283.58,172.3 283.63,176.3 283.67,168.9 283.72,196.5 283.77,176.3 283.82,168.9 283.87,172.3 283.92,163.3 283.97,181.2 284.02,181.2 284.07,187.6 284.12,176.3 284.17,187.6 284.22,181.2 284.27,172.3 284.32,161.0 284.37,176.3 284.42,187.6 284.47,168.9 284.52,211.8 284.57,187.6 284.62,187.6 284.67,187.6 284.72,176.3 284.77,181.2 284.81,196.5 284.86,172.3 284.91,176.3 284.96,211.8 285.01,196.5 285.06,187.6 285.11,172.3 285.16,172.3 285.21,168.9 285.26,187.6 285.31,187.6 285.36,172.3 285.41,172.3 285.46,187.6 285.51,172.3 285.56,187.6 285.61,196.5 285.66,187.6 285.71,172.3 285.76,187.6 285.81,163.3 285.86,181.2 285.91,163.3 285.95,187.6 286.00,176.3 286.05,196.5 286.10,196.5 286.15,187.6 286.20,168.9 286.25,172.3 286.30,187.6 286.35,187.6 286.40,172.3 286.45,196.5 286.50,176.3 286.55,181.2 286.60,176.3 286.65,187.6 286.70,176.3 286.75,176.3 286.80,181.2 286.85,181.2 286.90,176.3 286.95,196.5 287.00,168.9 287.05,172.3 287.09,168.9 287.14,165.9 287.19,238.4 287.24,196.5 287.29,158.9 287.34,172.3 287.39,196.5 287.44,181.2 287.49,187.6 287.54,172.3 287.59,176.3 287.64,187.6 287.69,211.8 287.74,176.3 287.79,176.3 287.84,187.6 287.89,181.2 287.94,181.2 287.99,181.2 288.04,176.3 288.09,172.3 288.14,196.5 288.19,176.3 288.23,211.8 288.28,176.3 288.33,187.6 288.38,176.3 288.43,176.3 288.48,172.3 288.53,163.3 288.58,196.5 288.63,187.6 288.68,176.3 288.73,176.3 288.78,187.6 288.83,181.2 288.88,172.3 288.93,196.5 288.98,181.2 289.03,168.9 289.08,211.8 289.13,176.3 289.18,196.5 289.23,176.3 289.28,181.2 289.33,172.3 289.37,172.3 289.42,181.2 289.47,238.4 289.52,172.3 289.57,176.3 289.62,172.3 289.67,158.9 289.72,181.2 289.77,187.6 289.82,168.9 289.87,172.3 289.92,176.3 289.97,196.5 290.02,181.2 290.07,181.2 290.12,211.8 290.17,187.6 290.22,168.9 290.27,187.6 290.32,172.3 290.37,196.5 290.42,187.6 290.47,172.3 290.51,196.5 290.56,163.3 290.61,172.3 290.66,172.3 290.71,181.2 290.76,187.6 290.81,168.9 290.86,196.5 290.91,211.8 290.96,181.2 291.01,176.3 291.06,168.9 291.11,176.3 291.16,187.6 291.21,181.2 291.26,187.6 291.31,187.6 291.36,187.6 291.41,187.6 291.46,181.2 291.51,165.9 291.56,238.4 291.61,161.0 291.65,187.6 291.70,181.2 291.75,187.6 291.80,168.9 291.85,163.3 291.90,176.3 291.95,187.6 292.00,196.5 292.05,181.2 292.10,181.2 292.15,172.3 292.20,176.3 292.25,181.2 292.30,196.5 292.35,187.6 292.40,187.6 292.45,181.2 292.50,176.3 292.55,211.8 292.60,163.3 292.65,176.3 292.70,196.5 292.75,163.3 292.79,163.3 292.84,187.6 292.89,172.3 292.94,172.3 292.99,187.6 293.04,165.9 293.09,196.5 293.14,181.2 293.19,196.5 293.24,176.3 293.29,187.6 293.34,181.2 293.39,181.2 293.44,196.5 293.49,187.6 293.54,172.3 293.59,172.3 293.64,176.3 293.69,172.3 293.74,176.3 293.79,176.3 293.84,196.5 293.89,176.3 293.93,172.3 293.98,187.6 294.03,196.5 294.08,211.8 294.13,172.3 294.18,176.3 294.23,187.6 294.28,187.6 294.33,176.3 294.38,172.3 294.43,165.9 294.48,168.9 294.53,181.2 294.58,181.2 294.63,176.3 294.68,196.5 294.73,211.8 294.78,187.6 294.83,176.3 294.88,187.6 294.93,187.6 294.98,187.6 295.03,181.2 295.07,172.3 295.12,196.5 295.17,238.4 295.22,196.5 295.27,165.9 295.32,181.2 295.37,181.2 295.42,211.8 295.47,238.4 295.52,176.3 295.57,168.9 295.62,196.5 295.67,172.3 295.72,211.8 295.77,172.3 295.82,176.3 295.87,181.2 295.92,181.2 295.97,181.2 296.02,176.3 296.07,196.5 296.12,176.3 296.17,196.5 296.21,181.2 296.26,168.9 296.31,187.6 296.36,172.3 296.41,187.6 296.46,187.6 296.51,168.9 296.56,176.3 296.61,181.2 296.66,187.6 296.71,187.6 296.76,176.3 296.81,181.2 296.86,196.5 296.91,181.2 296.96,176.3 297.01,187.6 297.06,187.6 297.11,172.3 297.16,176.3 297.21,187.6 297.26,196.5 297.31,176.3 297.35,163.3 297.40,187.6 297.45,187.6 297.50,181.2 297.55,176.3 297.60,172.3 297.65,187.6 297.70,181.2 297.75,211.8 297.80,196.5 297.85,181.2 297.90,211.8 297.95,187.6 298.00,211.8 298.05,196.5 298.10,187.6 298.15,172.3 298.20,181.2 298.25,187.6 298.30,172.3 298.35,187.6 298.40,181.2 298.45,181.2 298.49,172.3 298.54,196.5 298.59,181.2 298.64,172.3 298.69,187.6 298.74,187.6 298.79,187.6 298.84,176.3 298.89,181.2 298.94,187.6 298.99,211.8 299.04,176.3 299.09,172.3 299.14,196.5 299.19,196.5 299.24,168.9 299.29,181.2 299.34,181.2 299.39,187.6 299.44,168.9 299.49,168.9 299.54,187.6 299.59,176.3 299.63,172.3 299.68,168.9 299.73,211.8 299.78,211.8 299.83,187.6 299.88,181.2 299.93,181.2 299.98,187.6 300.03,181.2 300.08,187.6 300.13,176.3 300.18,187.6 300.23,176.3 300.28,181.2 300.33,168.9 300.38,181.2 300.43,181.2 300.48,211.8 300.53,168.9 300.58,187.6 300.63,181.2 300.68,187.6 300.73,176.3 300.77,238.4 300.82,163.3 300.87,165.9 300.92,196.5 300.97,172.3 301.02,196.5 301.07,168.9 301.12,176.3 301.17,211.8 301.22,196.5 301.27,211.8 301.32,196.5 301.37,187.6 301.42,181.2 301.47,187.6 301.52,176.3 301.57,181.2 301.62,172.3 301.67,181.2 301.72,165.9 301.77,181.2 301.82,196.5 301.87,187.6 301.91,181.2 301.96,211.8 302.01,187.6 302.06,176.3 302.11,172.3 302.16,187.6 302.21,181.2 302.26,172.3 302.31,187.6 302.36,168.9 302.41,196.5 302.46,211.8 302.51,196.5 302.56,176.3 302.61,168.9 302.66,211.8 302.71,196.5 302.76,165.9 302.81,181.2 302.86,196.5 302.91,172.3 302.96,172.3 303.01,196.5 303.05,168.9 303.10,176.3 303.15,196.5 303.20,187.6 303.25,187.6 303.30,181.2 303.35,176.3 303.40,181.2 303.45,172.3 303.50,176.3 303.55,172.3 303.60,176.3 303.65,187.6 303.70,187.6 303.75,163.3 303.80,165.9 303.85,187.6 303.90,181.2 303.95,181.2 304.00,165.9 304.05,187.6 304.10,187.6 304.15,187.6 304.19,168.9 304.24,187.6 304.29,176.3 304.34,172.3 304.39,172.3 304.44,181.2 304.49,181.2 304.54,176.3 304.59,187.6 304.64,196.5 304.69,187.6 304.74,187.6 304.79,181.2 304.84,172.3 304.89,165.9 304.94,211.8 304.99,172.3 305.04,196.5 305.09,187.6 305.14,168.9 305.19,181.2 305.24,176.3 305.29,176.3 305.33,211.8 305.38,181.2 305.43,196.5 305.48,181.2 305.53,163.3 305.58,181.2 305.63,196.5 305.68,187.6 305.73,165.9 305.78,187.6 305.83,187.6 305.88,181.2 305.93,181.2 305.98,176.3 306.03,163.3 306.08,181.2 306.13,163.3 306.18,196.5 306.23,165.9 306.28,181.2 306.33,165.9 306.38,165.9 306.42,168.9 306.47,187.6 306.52,187.6 306.57,211.8 306.62,161.0 306.67,176.3 306.72,196.5 306.77,196.5 306.82,172.3 306.87,168.9 306.92,196.5 306.97,168.9 307.02,187.6 307.07,187.6 307.12,196.5 307.17,238.4 307.22,172.3 307.27,181.2 307.32,187.6 307.37,181.2 307.42,181.2 307.47,176.3 307.52,196.5 307.56,163.3 307.61,176.3 307.66,172.3 307.71,181.2 307.76,187.6 307.81,172.3 307.86,176.3 307.91,196.5 307.96,187.6 308.01,211.8 308.06,187.6 308.11,187.6 308.16,181.2 308.21,181.2 308.26,187.6 308.31,196.5 308.36,196.5 308.41,168.9 308.46,181.2 308.51,181.2 308.56,176.3 308.61,187.6 308.66,176.3 308.70,196.5 308.75,187.6 308.80,187.6 308.85,196.5 308.90,172.3 308.95,196.5 309.00,211.8 309.05,172.3 309.10,196.5 309.15,196.5 309.20,211.8 309.25,187.6 309.30,176.3 309.35,181.2 309.40,187.6 309.45,172.3 309.50,187.6 309.55,187.6 309.60,172.3 309.65,176.3 309.70,196.5 309.75,161.0 309.80,196.5 309.84,211.8 309.89,181.2 309.94,181.2 309.99,176.3 310.04,196.5 310.09,176.3 310.14,172.3 310.19,172.3 310.24,187.6 310.29,168.9 310.34,165.9 310.39,176.3 310.44,196.5 310.49,238.4 310.54,196.5 310.59,187.6 310.64,196.5 310.69,172.3 310.74,187.6 310.79,196.5 310.84,181.2 310.89,176.3 310.94,211.8 310.98,172.3 311.03,211.8 311.08,196.5 311.13,181.2 311.18,168.9 311.23,181.2 311.28,172.3 311.33,187.6 311.38,187.6 311.43,196.5 311.48,196.5 311.53,172.3 311.58,187.6 311.63,181.2 311.68,181.2 311.73,181.2 311.78,211.8 311.83,176.3 311.88,187.6 311.93,176.3 311.98,176.3 312.03,172.3 312.08,163.3 312.12,161.0 312.17,187.6 312.22,211.8 312.27,187.6 312.32,238.4 312.37,211.8 312.42,187.6 312.47,211.8 312.52,168.9 312.57,172.3 312.62,187.6 312.67,187.6 312.72,172.3 312.77,187.6 312.82,181.2 312.87,176.3 312.92,176.3 312.97,238.4 313.02,196.5 313.07,168.9 313.12,211.8 313.17,196.5 313.22,187.6 313.26,181.2 313.31,187.6 313.36,211.8 313.41,196.5 313.46,187.6 313.51,181.2 313.56,187.6 313.61,187.6 313.66,211.8 313.71,187.6 313.76,181.2 313.81,176.3 313.86,187.6 313.91,196.5 313.96,181.2 314.01,196.5 314.06,187.6 314.11,196.5 314.16,238.4 314.21,196.5 314.26,181.2 314.31,196.5 314.36,187.6 314.40,196.5 314.45,181.2 314.50,187.6 314.55,181.2 314.60,196.5 314.65,211.8 314.70,211.8 314.75,163.3 314.80,181.2 314.85,172.3 314.90,187.6 314.95,211.8 315.00,172.3 315.05,181.2 315.10,196.5 315.15,187.6 315.20,187.6 315.25,196.5 315.30,196.5 315.35,176.3 315.40,196.5 315.45,187.6 315.50,181.2 315.54,211.8 315.59,163.3 315.64,196.5 315.69,168.9 315.74,181.2 315.79,176.3 315.84,176.3 315.89,196.5 315.94,176.3 315.99,187.6 316.04,211.8 316.09,196.5 316.14,196.5 316.19,187.6 316.24,181.2 316.29,181.2 316.34,196.5 316.39,176.3 316.44,181.2 316.49,196.5 316.54,187.6 316.59,181.2 316.64,196.5 316.68,172.3 316.73,187.6 316.78,181.2 316.83,168.9 316.88,211.8 316.93,211.8 316.98,211.8 317.03,187.6 317.08,176.3 317.13,196.5 317.18,181.2 317.23,181.2 317.28,181.2 317.33,187.6 317.38,211.8 317.43,181.2 317.48,196.5 317.53,172.3 317.58,196.5 317.63,211.8 317.68,187.6 317.73,168.9 317.78,187.6 317.82,196.5 317.87,176.3 317.92,211.8 317.97,176.3 318.02,172.3 318.07,196.5 318.12,196.5 318.17,187.6 318.22,196.5 318.27,196.5 318.32,172.3 318.37,187.6 318.42,196.5 318.47,181.2 318.52,168.9 318.57,181.2 318.62,196.5 318.67,196.5 318.72,176.3 318.77,181.2 318.82,196.5 318.87,181.2 318.92,176.3 318.96,172.3 319.01,176.3 319.06,196.5 319.11,172.3 319.16,196.5 319.21,211.8 319.26,187.6 319.31,187.6 319.36,172.3 319.41,211.8 319.46,176.3 319.51,181.2 319.56,181.2 319.61,181.2 319.66,187.6 319.71,176.3 319.76,172.3 319.81,196.5 319.86,211.8 319.91,196.5 319.96,187.6 320.01,181.2 320.06,181.2 320.10,196.5 320.15,181.2 320.20,196.5 320.25,181.2 320.30,172.3 320.35,187.6 320.40,181.2 320.45,211.8 320.50,172.3 320.55,181.2 320.60,176.3 320.65,211.8 320.70,181.2 320.75,187.6 320.80,176.3 320.85,176.3 320.90,181.2 320.95,176.3 321.00,196.5 321.05,187.6 321.10,181.2 321.15,176.3 321.20,168.9 321.24,181.2 321.29,176.3 321.34,187.6 321.39,176.3 321.44,181.2 321.49,181.2 321.54,181.2 321.59,196.5 321.64,196.5 321.69,211.8 321.74,211.8 321.79,187.6 321.84,168.9 321.89,181.2 321.94,176.3 321.99,172.3 322.04,172.3 322.09,187.6 322.14,187.6 322.19,187.6 322.24,181.2 322.29,181.2 322.34,196.5 322.38,168.9 322.43,176.3 322.48,238.4 322.53,187.6 322.58,176.3 322.63,181.2 322.68,211.8 322.73,187.6 322.78,187.6 322.83,187.6 322.88,187.6 322.93,176.3 322.98,181.2 323.03,196.5 323.08,196.5 323.13,181.2 323.18,181.2 323.23,181.2 323.28,187.6 323.33,211.8 323.38,181.2 323.43,196.5 323.48,211.8 323.52,187.6 323.57,181.2 323.62,165.9 323.67,187.6 323.72,181.2 323.77,181.2 323.82,187.6 323.87,187.6 323.92,181.2 323.97,176.3 324.02,196.5 324.07,172.3 324.12,238.4 324.17,172.3 324.22,211.8 324.27,181.2 324.32,172.3 324.37,196.5 324.42,187.6 324.47,196.5 324.52,196.5 324.57,238.4 324.62,181.2 324.66,196.5 324.71,196.5 324.76,168.9 324.81,196.5 324.86,196.5 324.91,187.6 324.96,181.2 325.01,181.2 325.06,181.2 325.11,187.6 325.16,181.2 325.21,187.6 325.26,187.6 325.31,187.6 325.36,196.5 325.41,196.5 325.46,163.3 325.51,187.6 325.56,211.8 325.61,168.9 325.66,187.6 325.71,172.3 325.76,181.2 325.80,196.5 325.85,196.5 325.90,187.6 325.95,181.2 326.00,187.6 326.05,176.3 326.10,211.8 326.15,176.3 326.20,187.6 326.25,181.2 326.30,196.5 326.35,176.3 326.40,181.2 326.45,187.6 326.50,211.8 326.55,196.5 326.60,187.6 326.65,196.5 326.70,181.2 326.75,187.6 326.80,196.5 326.85,211.8 326.90,181.2 326.94,196.5 326.99,238.4 327.04,176.3 327.09,176.3 327.14,172.3 327.19,196.5 327.24,196.5 327.29,172.3 327.34,181.2 327.39,172.3 327.44,172.3 327.49,196.5 327.54,211.8 327.59,181.2 327.64,187.6 327.69,196.5 327.74,196.5 327.79,196.5 327.84,187.6 327.89,176.3 327.94,176.3 327.99,181.2 328.04,187.6 328.08,181.2 328.13,163.3 328.18,187.6 328.23,187.6 328.28,238.4 328.33,187.6 328.38,168.9 328.43,187.6 328.48,181.2 328.53,211.8 328.58,187.6 328.63,211.8 328.68,172.3 328.73,168.9 328.78,181.2 328.83,196.5 328.88,172.3 328.93,187.6 328.98,168.9 329.03,238.4 329.08,196.5 329.13,211.8 329.18,196.5 329.22,196.5 329.27,196.5 329.32,181.2 329.37,196.5 329.42,168.9 329.47,187.6 329.52,211.8 329.57,181.2 329.62,176.3 329.67,196.5 329.72,168.9 329.77,211.8 329.82,187.6 329.87,196.5 329.92,176.3 329.97,211.8 330.02,196.5 330.07,211.8 330.12,176.3 330.17,176.3 330.22,181.2 330.27,196.5 330.32,176.3 330.36,176.3 330.41,172.3 330.46,196.5 330.51,187.6 330.56,181.2 330.61,181.2 330.66,165.9 330.71,211.8 330.76,187.6 330.81,187.6 330.86,211.8 330.91,196.5 330.96,187.6 331.01,211.8 331.06,196.5 331.11,168.9 331.16,172.3 331.21,181.2 331.26,187.6 331.31,211.8 331.36,211.8 331.41,211.8 331.46,187.6 331.50,196.5 331.55,187.6 331.60,181.2 331.65,181.2 331.70,181.2 331.75,181.2 331.80,196.5 331.85,196.5 331.90,196.5 331.95,196.5 332.00,187.6 332.05,211.8 332.10,176.3 332.15,187.6 332.20,196.5 332.25,238.4 332.30,211.8 332.35,172.3 332.40,176.3 332.45,238.4 332.50,168.9 332.55,181.2 332.60,196.5 332.64,211.8 332.69,196.5 332.74,196.5 332.79,176.3 332.84,196.5 332.89,176.3 332.94,196.5 332.99,211.8 333.04,181.2 333.09,181.2 333.14,176.3 333.19,211.8 333.24,187.6 333.29,181.2 333.34,187.6 333.39,196.5 333.44,181.2 333.49,168.9 333.54,196.5 333.59,181.2 333.64,211.8 333.69,176.3 333.74,211.8 333.78,211.8 333.83,196.5 333.88,168.9 333.93,161.0 333.98,176.3 334.03,172.3 334.08,196.5 334.13,196.5 334.18,211.8 334.23,165.9 334.28,172.3 334.33,196.5 334.38,196.5 334.43,187.6 334.48,196.5 334.53,187.6 334.58,187.6 334.63,181.2 334.68,196.5 334.73,196.5 334.78,181.2 334.83,176.3 334.88,172.3 334.92,187.6 334.97,196.5 335.02,176.3 335.07,181.2 335.12,196.5 335.17,196.5 335.22,176.3 335.27,187.6 335.32,211.8 335.37,181.2 335.42,196.5 335.47,196.5 335.52,238.4 335.57,211.8 335.62,176.3 335.67,163.3 335.72,172.3 335.77,181.2 335.82,181.2 335.87,172.3 335.92,196.5 335.97,181.2 336.02,176.3 336.06,176.3 336.11,187.6 336.16,196.5 336.21,187.6 336.26,196.5 336.31,187.6 336.36,181.2 336.41,196.5 336.46,238.4 336.51,187.6 336.56,187.6 336.61,187.6 336.66,181.2 336.71,172.3 336.76,163.3 336.81,187.6 336.86,181.2 336.91,196.5 336.96,196.5 337.01,181.2 337.06,168.9 337.11,196.5 337.15,181.2 337.20,172.3 337.25,196.5 337.30,211.8 337.35,196.5 337.40,181.2 337.45,211.8 337.50,196.5 337.55,176.3 337.60,181.2 337.65,168.9 337.70,176.3 337.75,187.6 337.80,187.6 337.85,211.8 337.90,196.5 337.95,196.5 338.00,196.5 338.05,187.6 338.10,187.6 338.15,238.4 338.20,196.5 338.25,211.8 338.29,176.3 338.34,187.6 338.39,176.3 338.44,181.2 338.49,187.6 338.54,211.8 338.59,168.9 338.64,187.6 338.69,211.8 338.74,181.2 338.79,238.4 338.84,176.3 338.89,187.6 338.94,172.3 338.99,238.4 339.04,196.5 339.09,168.9 339.14,196.5 339.19,181.2 339.24,176.3 339.29,211.8 339.34,187.6 339.39,196.5 339.43,196.5 339.48,196.5 339.53,181.2 339.58,187.6 339.63,196.5 339.68,196.5 339.73,172.3 339.78,196.5 339.83,187.6 339.88,181.2 339.93,172.3 339.98,181.2 340.03,196.5 340.08,196.5 340.13,187.6 340.18,176.3 340.23,211.8 340.28,196.5 340.33,187.6 340.38,211.8 340.43,196.5 340.48,196.5 340.53,172.3 340.57,196.5 340.62,181.2 340.67,172.3 340.72,196.5 340.77,181.2 340.82,211.8 340.87,187.6 340.92,187.6 340.97,187.6 341.02,165.9 341.07,181.2 341.12,172.3 341.17,172.3 341.22,187.6 341.27,187.6 341.32,187.6 341.37,187.6 341.42,187.6 341.47,181.2 341.52,238.4 341.57,196.5 341.62,211.8 341.67,196.5 341.71,176.3 341.76,211.8 341.81,211.8 341.86,187.6 341.91,176.3 341.96,172.3 342.01,187.6 342.06,181.2 342.11,211.8 342.16,181.2 342.21,181.2 342.26,172.3 342.31,172.3 342.36,211.8 342.41,238.4 342.46,181.2 342.51,187.6 342.56,187.6 342.61,172.3 342.66,181.2 342.71,181.2 342.76,211.8 342.81,196.5 342.85,172.3 342.90,165.9 342.95,181.2 343.00,187.6 343.05,187.6 343.10,187.6 343.15,196.5 343.20,211.8 343.25,181.2 343.30,176.3 343.35,187.6 343.40,181.2 343.45,196.5 343.50,196.5 343.55,196.5 343.60,196.5 343.65,187.6 343.70,181.2 343.75,211.8 343.80,196.5 343.85,172.3 343.90,172.3 343.95,172.3 343.99,211.8 344.04,187.6 344.09,187.6 344.14,196.5 344.19,181.2 344.24,181.2 344.29,211.8 344.34,181.2 344.39,176.3 344.44,187.6 344.49,211.8 344.54,211.8 344.59,196.5 344.64,211.8 344.69,181.2 344.74,196.5 344.79,181.2 344.84,187.6 344.89,172.3 344.94,181.2 344.99,187.6 345.04,211.8 345.09,211.8 345.13,196.5 345.18,238.4 345.23,238.4 345.28,181.2 345.33,172.3 345.38,168.9 345.43,181.2 345.48,211.8 345.53,181.2 345.58,172.3 345.63,196.5 345.68,187.6 345.73,196.5 345.78,181.2 345.83,211.8 345.88,187.6 345.93,176.3 345.98,187.6 346.03,196.5 346.08,238.4 346.13,187.6 346.18,176.3 346.23,187.6 346.27,196.5 346.32,172.3 346.37,176.3 346.42,196.5 346.47,176.3 346.52,176.3 346.57,211.8 346.62,168.9 346.67,238.4 346.72,196.5 346.77,187.6 346.82,187.6 346.87,181.2 346.92,196.5 346.97,187.6 347.02,181.2 347.07,181.2 347.12,187.6 347.17,181.2 347.22,211.8 347.27,187.6 347.32,187.6 347.37,196.5 347.41,196.5"/>
<polyline fill="none" stroke="#000" stroke-width="1.5" stroke-linejoin="round" points="45.15,237.2 45.56,135.6 45.86,69.6 46.37,28.9 47.39,10.1 48.50,8.6 49.01,18.8 49.50,29.9 49.81,59.9 50.29,100.0 53.20,160.0 53.68,166.1 53.89,162.0 54.09,171.2 54.29,166.1 54.50,175.2 54.70,170.1 54.90,180.3 55.11,175.2 55.31,186.4 55.51,181.3 55.61,191.5"/>
<polyline fill="none" stroke="#000" stroke-width="2.6" stroke-linejoin="round" points="53.68,165.1 55.61,190.5"/>
<line x1="56.6" y1="211.8" x2="56.6" y2="195.5" stroke="#000" stroke-width="1.3"/>
<line x1="150.4" y1="211.8" x2="150.4" y2="196.6" stroke="#000" stroke-width="1.3"/>
<line x1="180" y1="211.8" x2="180" y2="196.6" stroke="#000" stroke-width="1.3"/>
<line x1="189" y1="211.8" x2="189" y2="196.6" stroke="#000" stroke-width="1.3"/>
<line x1="194.6" y1="211.8" x2="194.6" y2="187.4" stroke="#000" stroke-width="1.3"/>
<line x1="215.8" y1="211.8" x2="215.8" y2="196.6" stroke="#000" stroke-width="1.3"/>
<line x1="219.5" y1="211.8" x2="219.5" y2="196.6" stroke="#000" stroke-width="1.3"/>
<line x1="233.5" y1="211.8" x2="233.5" y2="196.6" stroke="#000" stroke-width="1.3"/>
<line x1="234.5" y1="211.8" x2="234.5" y2="196.6" stroke="#000" stroke-width="1.3"/>
<line x1="249.3" y1="211.8" x2="249.3" y2="196.6" stroke="#000" stroke-width="1.3"/>
<polyline fill="none" stroke="#0000ff" stroke-width="1.4" stroke-linejoin="round" points="42.29,225.4 42.39,225.4 42.49,225.4 42.59,225.4 42.70,225.4 42.80,225.4 42.90,225.3 43.00,225.3 43.10,225.3 43.20,225.3 43.30,225.3 43.41,225.3 43.51,225.2 43.61,225.1 43.71,225.0 43.81,224.7 43.91,224.4 44.02,223.8 44.12,222.9 44.22,221.6 44.32,219.8 44.42,217.2 44.52,213.8 44.63,209.6 44.73,204.4 44.83,198.6 44.93,192.1 45.03,185.2 45.13,178.0 45.23,170.7 45.34,163.3 45.44,155.9 45.54,148.7 45.64,141.5 45.74,134.5 45.84,127.6 45.95,120.9 46.05,114.4 46.15,108.1 46.25,101.9 46.35,96.0 46.45,90.2 46.55,84.6 46.66,79.2 46.76,74.0 46.86,69.0 46.96,64.2 47.06,59.6 47.16,55.2 47.27,51.0 47.37,47.0 47.47,43.2 47.57,39.5 47.67,36.1 47.77,32.9 47.88,29.8"/>
<polyline fill="none" stroke="#0000ff" stroke-width="2.3" stroke-linejoin="round" points="47.77,32.9 47.88,29.8 47.98,27.0 48.08,24.3 48.18,21.9 48.28,19.6 48.38,17.6 48.48,15.7 48.59,14.1 48.69,12.6 48.79,11.3 48.89,10.2 48.99,9.3 49.09,8.7 49.20,8.2 49.30,7.9 49.40,7.8 49.91,8.4 50.41,9.1 50.92,9.7 51.43,10.4 51.94,11.0 52.45,11.7 52.95,12.3 53.46,13.0 53.97,13.6 54.48,14.3 54.98,14.9 55.49,15.6 56.00,16.2 56.51,16.8 57.02,17.5 57.52,18.1 58.03,18.8 58.54,19.4 59.05,20.1 59.56,20.7 60.06,21.4 60.57,22.0 61.08,22.7 61.59,23.3 62.09,24.0 62.60,24.6 63.11,25.2 63.62,25.9 64.13,26.5 64.63,27.2 65.14,27.8 65.65,28.5 66.16,29.1 66.67,29.8 67.17,30.4 67.68,31.0 68.19,31.7 68.70,32.3 69.20,33.0 69.71,33.6 70.22,34.3 70.73,34.9 71.24,35.5 71.74,36.2 72.25,36.8 72.76,37.5 73.27,38.1 73.77,38.7 74.28,39.4 74.79,40.0 75.30,40.7 75.81,41.3 76.31,41.9 76.82,42.6 77.33,43.2 77.84,43.9 78.35,44.5 78.85,45.1 79.36,45.8 79.87,46.4 80.38,47.1 80.88,47.7 81.39,48.3 81.90,49.0 82.41,49.6 82.92,50.2 83.42,50.9 83.93,51.5 84.44,52.1 84.95,52.8 85.45,53.4 85.96,54.0 86.47,54.7 86.98,55.3 87.49,55.9 87.99,56.6 88.50,57.2 89.01,57.8 89.52,58.5 90.03,59.1 90.53,59.7 91.04,60.3 91.55,61.0 92.06,61.6 92.56,62.2 93.07,62.9 93.58,63.5 94.09,64.1 94.60,64.7 95.10,65.4 95.61,66.0 96.12,66.6 96.63,67.2 97.14,67.9 97.64,68.5 98.15,69.1 98.66,69.7 99.17,70.3 99.67,71.0 100.18,71.6 100.69,72.2 101.20,72.8 101.71,73.4 102.21,74.0 102.72,74.7 103.23,75.3 103.74,75.9 104.24,76.5 104.75,77.1 105.26,77.7 105.77,78.3 106.28,78.9 106.78,79.5 107.29,80.2 107.80,80.8 108.31,81.4 108.82,82.0 109.32,82.6 109.83,83.2 110.34,83.8 110.85,84.4 111.35,85.0 111.86,85.6 112.37,86.2 112.88,86.8 113.39,87.4 113.89,88.0 114.40,88.6 114.91,89.1 115.42,89.7 115.92,90.3 116.43,90.9 116.94,91.5 117.45,92.1 117.96,92.7 118.46,93.3 118.97,93.9 119.48,94.4 119.99,95.0 120.50,95.6 121.00,96.2 121.51,96.7 122.02,97.3 122.53,97.9 123.03,98.5 123.54,99.0 124.05,99.6 124.56,100.2 125.07,100.7 125.57,101.3 126.08,101.9 126.59,102.4 127.10,103.0 127.61,103.6 128.11,104.1 128.62,104.7 129.13,105.2 129.64,105.8 130.14,106.3 130.65,106.9 131.16,107.5 131.67,108.0 132.18,108.6 132.68,109.1 133.19,109.6 133.70,110.2 134.21,110.7 134.71,111.2 135.22,111.7 135.73,112.2 136.24,112.8 136.75,113.3 137.25,113.9 137.76,114.4 138.27,114.9 138.78,115.4 139.29,115.9 139.79,116.5 140.30,117.0 140.81,117.5 141.32,118.0 141.82,118.5 142.33,119.0 142.84,119.5 143.35,120.1 143.86,120.6 144.36,121.1 144.87,121.6 145.38,122.2 145.89,122.6 146.39,123.1 146.90,123.5 147.41,124.0 147.92,124.5 148.43,125.0 148.93,125.5 149.44,125.9 149.95,126.4 150.46,126.9 150.97,127.4 151.47,127.8 151.98,128.2 152.49,128.6 153.00,129.0 153.50,129.5 154.01,129.9 154.52,130.3 155.03,130.8 155.54,131.3 156.04,131.8 156.55,132.3 157.06,132.8 157.57,133.3 158.08,133.7 158.58,134.2 159.09,134.6 159.60,135.1 160.11,135.5 160.61,135.8 161.12,136.3 161.63,136.7 162.14,137.2 162.65,137.7 163.15,138.0 163.66,138.4 164.17,138.8 164.68,139.2 165.18,139.5 165.69,139.9 166.20,140.3 166.71,140.6 167.22,141.0 167.72,141.3 168.23,141.7 168.74,142.0 169.25,142.5 169.76,142.9 170.26,143.4 170.77,143.6 171.28,143.9 171.79,144.3 172.29,144.6 172.80,144.9 173.31,145.3 173.82,145.7 174.33,146.0 174.83,146.5 175.34,146.8 175.85,147.1 176.36,147.5 176.86,147.7 177.37,148.1 177.88,148.4 178.39,148.7 178.90,149.0 179.40,149.1 179.91,149.4 180.42,149.8 180.93,150.3 181.44,150.7 181.94,151.0 182.45,151.4 182.96,151.7 183.47,152.0 183.97,152.2 184.48,152.6 184.99,152.9 185.50,153.2 186.01,153.4 186.51,153.7 187.02,154.1 187.53,154.3 188.04,154.7 188.55,155.0 189.05,155.3 189.56,155.9 190.07,156.1 190.58,156.2 191.08,156.5 191.59,156.7 192.10,157.1 192.61,157.1 193.12,157.4 193.62,157.6 194.13,158.0 194.64,158.2 195.15,158.5 195.65,158.7 196.16,159.2 196.67,159.4 197.18,159.4 197.69,159.7 198.19,159.9 198.70,160.1 199.21,160.4 199.72,160.6 200.23,160.9 200.73,161.3 201.24,161.4 201.75,161.7 202.26,161.9 202.76,162.3 203.27,162.5 203.78,162.8 204.29,163.2 204.80,163.3 205.30,163.4 205.81,163.8 206.32,164.0 206.83,164.2 207.33,164.6 207.84,164.9 208.35,165.3 208.86,165.7 209.37,165.8 209.87,165.9 210.38,165.9 210.89,166.0 211.40,166.3 211.91,166.4 212.41,166.6 212.92,166.8 213.43,167.1 213.94,167.4 214.44,167.5 214.95,167.8 215.46,168.1 215.97,168.1 216.48,168.5 216.98,168.8 217.49,168.9 218.00,169.1 218.51,169.2 219.02,169.3 219.52,169.7 220.03,169.9 220.54,170.2 221.05,170.6 221.55,170.9 222.06,171.3 222.57,171.3 223.08,171.4 223.59,171.5 224.09,171.8 224.60,171.9 225.11,172.0 225.62,172.1 226.12,172.4 226.63,172.2 227.14,172.4 227.65,172.7 228.16,172.9 228.66,173.1 229.17,173.3 229.68,173.8 230.19,173.9 230.70,174.1 231.20,174.3 231.71,174.6 232.22,174.6 232.73,175.0 233.23,175.3 233.74,175.5 234.25,175.9 234.76,176.2 235.27,176.6 235.77,176.7 236.28,177.0 236.79,177.1 237.30,177.2 237.80,177.5 238.31,177.8 238.82,177.9 239.33,178.0 239.84,177.8 240.34,178.3 240.85,178.5 241.36,178.6 241.87,178.7 242.38,179.0 242.88,178.9 243.39,179.3 243.90,179.6 244.41,179.5 244.91,179.8 245.42,179.9 245.93,180.5 246.44,180.7 246.95,181.1 247.45,181.6 247.96,181.5 248.47,181.6 248.98,181.7 249.49,181.8 249.99,182.3 250.50,182.2 251.01,182.3 251.52,182.6 252.02,182.6 252.53,182.5 253.04,182.8 253.55,182.5 254.06,182.7 254.56,182.9 255.07,182.9 255.58,183.1 256.09,183.2 256.59,183.1 257.10,183.3 257.61,183.1 258.12,183.4 258.63,183.9 259.13,184.5 259.64,184.8 260.15,184.7 260.66,184.9 261.17,184.6 261.67,184.6 262.18,184.9 262.69,185.2 263.20,185.5 263.70,185.8 264.21,186.0 264.72,186.4 265.23,186.6 265.74,186.8 266.24,186.9 266.75,187.2 267.26,187.1 267.77,187.2 268.27,187.6 268.78,187.5 269.29,187.1 269.80,187.2 270.31,187.7 270.81,188.0 271.32,188.5 271.83,188.7 272.34,188.9 272.85,189.2 273.35,189.4 273.86,189.4 274.37,189.4 274.88,189.4 275.38,189.5 275.89,189.4 276.40,189.8 276.91,189.9 277.42,190.1 277.92,190.6 278.43,190.6 278.94,190.6 279.45,191.0 279.96,191.2 280.46,191.1 280.97,191.3 281.48,191.2 281.99,191.1 282.49,191.3 283.00,191.2 283.51,191.2 284.02,191.7 284.53,192.0 285.03,192.2 285.54,192.3 286.05,192.5 286.56,192.6 287.06,193.0 287.57,193.0 288.08,193.1 288.59,193.3 289.10,193.8 289.60,194.2 290.11,194.3 290.62,194.5 291.13,194.7 291.64,195.0 292.14,195.3 292.65,195.7 293.16,195.9 293.67,195.9 294.17,196.0 294.68,196.3 295.19,196.4 295.70,196.7 296.21,196.9 296.71,196.9 297.22,196.8 297.73,197.1 298.24,197.0 298.74,197.0 299.25,196.7 299.76,196.7 300.27,196.7 300.78,197.0 301.28,196.9 301.79,197.1 302.30,197.3 302.81,197.4 303.32,197.4 303.82,197.7 304.33,197.7 304.84,197.7 305.35,197.9 305.85,197.7 306.36,197.8 306.87,198.3 307.38,198.5 307.89,198.7 308.39,199.2 308.90,199.7 309.41,200.1 309.92,200.4 310.43,200.5 310.93,200.4 311.44,200.5 311.95,200.4 312.46,200.8 312.96,201.0 313.47,201.2 313.98,201.4 314.49,201.7 315.00,201.8 315.50,201.8 316.01,202.1 316.52,202.1 317.03,202.0 317.53,202.1 318.04,202.2 318.55,202.2 319.06,202.1 319.57,202.0 320.07,201.9 320.58,202.3 321.09,202.7 321.60,202.8 322.11,203.0 322.61,202.8 323.12,203.0 323.63,203.1 324.14,203.0 324.64,203.1 325.15,203.0 325.66,203.3 326.17,203.4 326.68,204.0 327.18,204.2 327.69,204.0 328.20,204.0 328.71,203.8 329.21,203.8 329.72,204.0 330.23,204.2 330.74,204.2 331.25,204.0 331.75,204.3 332.26,204.5 332.77,204.2 333.28,204.1 333.79,204.4 334.29,204.4 334.80,204.4 335.31,204.7 335.82,204.8 336.32,204.9 336.83,204.8 337.34,204.9 337.85,205.3 338.36,205.4 338.86,205.9 339.37,206.0 339.88,206.1 340.39,206.4 340.90,206.4 341.40,206.6 341.91,206.6 342.42,206.9 342.93,207.5 343.43,207.7 343.94,207.9 344.45,208.1 344.96,208.3 345.47,208.3 345.97,208.4 346.48,208.7 346.99,208.9"/>
</g>
<rect x="41.7" y="4.5" width="304.7" height="207.3" fill="none" stroke="#000" stroke-width="1"/>
<path d="M37.2,211.8H41.7 M39.0,196.5H41.7 M39.0,187.6H41.7 M39.0,181.2H41.7 M39.0,176.3H41.7 M39.0,172.3H41.7 M39.0,168.9H41.7 M39.0,165.9H41.7 M39.0,163.3H41.7 M37.2,161.0H41.7 M39.0,145.7H41.7 M39.0,136.8H41.7 M39.0,130.4H41.7 M39.0,125.5H41.7 M39.0,121.5H41.7 M39.0,118.1H41.7 M39.0,115.1H41.7 M39.0,112.5H41.7 M37.2,110.2H41.7 M39.0,94.9H41.7 M39.0,86.0H41.7 M39.0,79.6H41.7 M39.0,74.7H41.7 M39.0,70.7H41.7 M39.0,67.3H41.7 M39.0,64.3H41.7 M39.0,61.7H41.7 M37.2,59.4H41.7 M39.0,44.1H41.7 M39.0,35.2H41.7 M39.0,28.8H41.7 M39.0,23.9H41.7 M39.0,19.9H41.7 M39.0,16.5H41.7 M39.0,13.5H41.7 M39.0,10.9H41.7 M37.2,8.6H41.7 M41.7,211.8V216.10000000000002 M143.3,211.8V216.10000000000002 M244.8,211.8V216.10000000000002 M346.4,211.8V216.10000000000002 M92.5,211.8V214.5 M194.1,211.8V214.5 M295.6,211.8V214.5" stroke="#000" stroke-width="1" fill="none"/>
<clipPath id="clip2"><rect x="403.4" y="4.4" width="311.4" height="209.0"/></clipPath>
<g clip-path="url(#clip2)">
<polyline fill="none" stroke="#ff0000" stroke-width="1.0" points="401.32,240.2 401.37,240.2 401.43,240.2 401.48,240.2 401.53,240.2 401.58,240.2 401.63,240.2 401.68,240.2 401.73,240.2 401.78,240.2 401.83,240.2 401.88,240.2 401.93,240.2 401.98,240.2 402.03,240.2 402.08,240.2 402.13,240.2 402.19,240.2 402.24,240.2 402.29,240.2 402.34,240.2 402.39,240.2 402.44,240.2 402.49,240.2 402.54,240.2 402.59,240.2 402.64,240.2 402.69,240.2 402.74,240.2 402.79,240.2 402.84,240.2 402.89,240.2 402.94,240.2 403.00,240.2 403.05,240.2 403.10,240.2 403.15,240.2 403.20,240.2 403.25,240.2 403.30,240.2 403.35,240.2 403.40,240.2 403.45,240.2 403.50,240.2 403.55,240.2 403.60,240.2 403.65,240.2 403.70,240.2 403.76,240.2 403.81,240.2 403.86,240.2 403.91,240.2 403.96,240.2 404.01,240.2 404.06,240.2 404.11,240.2 404.16,240.2 404.21,240.2 404.26,240.2 404.31,240.2 404.36,240.2 404.41,240.2 404.46,240.2 404.52,240.2 404.57,240.2 404.62,240.2 404.67,240.2 404.72,240.2 404.77,240.2 404.82,240.2 404.87,240.2 404.92,240.2 404.97,240.2 405.02,240.2 405.07,240.2 405.12,240.2 405.17,240.2 405.22,240.2 405.28,240.2 405.33,240.2 405.38,240.2 405.43,240.2 405.48,213.4 405.53,240.2 405.58,240.2 405.63,240.2 405.68,240.2 405.73,240.2 405.78,213.4 405.83,240.2 405.88,213.4 405.93,240.2 405.98,240.2 406.03,240.2 406.09,240.2 406.14,198.0 406.19,240.2 406.24,198.0 406.29,240.2 406.34,198.0 406.39,213.4 406.44,213.4 406.49,189.0 406.54,198.0 406.59,177.6 406.64,213.4 406.69,189.0 406.74,189.0 406.79,173.6 406.85,213.4 406.90,198.0 406.95,170.1 407.00,170.1 407.05,198.0 407.10,162.2 407.15,167.2 407.20,170.1 407.25,146.8 407.30,150.4 407.35,151.7 407.40,151.7 407.45,144.3 407.50,141.3 407.55,133.9 407.61,130.4 407.66,132.7 407.71,128.7 407.76,125.2 407.81,124.3 407.86,118.6 407.91,114.0 407.96,109.0 408.01,104.6 408.06,106.2 408.11,100.5 408.16,99.4 408.21,92.1 408.26,92.9 408.31,89.3 408.36,88.6 408.42,85.7 408.47,81.6 408.52,79.7 408.57,76.3 408.62,75.9 408.67,71.0 408.72,70.1 408.77,65.3 408.82,64.8 408.87,61.4 408.92,61.1 408.97,57.5 409.02,56.3 409.07,53.9 409.12,51.5 409.18,49.7 409.23,47.4 409.28,45.2 409.33,43.4 409.38,42.0 409.43,40.9 409.48,38.9 409.53,36.9 409.58,36.1 409.63,33.3 409.68,32.1 409.73,30.7 409.78,28.7 409.83,27.5 409.88,26.3 409.94,25.4 409.99,23.7 410.04,22.5 410.09,21.7 410.14,20.0 410.19,19.1 410.24,18.9 410.29,17.3 410.34,16.7 410.39,15.2 410.44,14.4 410.49,14.2 410.54,13.4 410.59,12.4 410.64,11.9 410.70,10.8 410.75,10.5 410.80,10.2 410.85,9.6 410.90,9.8 410.95,8.9 411.00,8.4 411.05,8.4 411.10,8.3 411.15,7.8 411.20,7.4 411.25,7.7 411.30,8.0 411.35,7.5 411.40,8.3 411.45,7.8 411.51,8.1 411.56,7.8 411.61,8.3 411.66,7.9 411.71,8.2 411.76,8.7 411.81,8.9 411.86,8.5 411.91,8.2 411.96,8.6 412.01,8.6 412.06,8.8 412.11,8.6 412.16,8.8 412.21,8.8 412.27,9.2 412.32,8.8 412.37,8.8 412.42,9.5 412.47,8.7 412.52,9.1 412.57,9.5 412.62,9.9 412.67,9.3 412.72,9.4 412.77,9.8 412.82,10.2 412.87,9.5 412.92,10.0 412.97,10.0 413.03,9.2 413.08,9.5 413.13,9.9 413.18,10.3 413.23,10.1 413.28,10.9 413.33,10.3 413.38,10.6 413.43,10.8 413.48,11.0 413.53,10.5 413.58,10.7 413.63,10.7 413.68,10.6 413.73,11.1 413.78,11.3 413.84,11.5 413.89,11.2 413.94,10.9 413.99,11.2 414.04,11.1 414.09,11.6 414.14,11.5 414.19,11.7 414.24,11.9 414.29,11.1 414.34,11.4 414.39,11.9 414.44,12.0 414.49,11.9 414.54,12.3 414.60,11.9 414.65,12.4 414.70,12.2 414.75,12.5 414.80,12.4 414.85,12.7 414.90,12.8 414.95,12.7 415.00,12.7 415.05,12.7 415.10,12.6 415.15,12.3 415.20,12.6 415.25,12.9 415.30,12.7 415.36,13.2 415.41,12.6 415.46,12.9 415.51,13.5 415.56,13.0 415.61,13.1 415.66,14.1 415.71,13.6 415.76,13.6 415.81,14.1 415.86,13.9 415.91,13.9 415.96,13.6 416.01,13.7 416.06,13.2 416.12,14.1 416.17,13.7 416.22,14.1 416.27,14.1 416.32,14.5 416.37,14.8 416.42,14.6 416.47,14.2 416.52,14.0 416.57,14.4 416.62,14.5 416.67,14.9 416.72,14.3 416.77,14.4 416.82,15.0 416.87,14.9 416.93,15.3 416.98,14.6 417.03,15.0 417.08,15.2 417.13,15.1 417.18,15.2 417.23,15.5 417.28,15.8 417.33,15.9 417.38,16.1 417.43,15.5 417.48,15.1 417.53,16.3 417.58,15.8 417.63,15.8 417.69,16.3 417.74,16.0 417.79,16.4 417.84,15.8 417.89,16.4 417.94,16.3 417.99,16.2 418.04,16.6 418.09,17.0 418.14,16.7 418.19,16.4 418.24,16.7 418.29,16.7 418.34,17.1 418.39,16.8 418.45,16.7 418.50,17.0 418.55,16.5 418.60,17.2 418.65,17.5 418.70,17.8 418.75,17.0 418.80,17.4 418.85,17.2 418.90,17.4 418.95,17.1 419.00,17.3 419.05,17.8 419.10,17.7 419.15,17.5 419.21,18.3 419.26,17.6 419.31,17.7 419.36,17.8 419.41,18.2 419.46,18.2 419.51,18.7 419.56,18.4 419.61,18.6 419.66,18.5 419.71,18.7 419.76,18.6 419.81,18.3 419.86,19.2 419.91,18.6 419.96,19.5 420.02,19.6 420.07,19.1 420.12,19.1 420.17,19.0 420.22,19.7 420.27,19.3 420.32,19.3 420.37,19.0 420.42,19.5 420.47,19.4 420.52,19.9 420.57,19.7 420.62,19.9 420.67,19.6 420.72,20.2 420.78,20.2 420.83,19.8 420.88,19.5 420.93,20.0 420.98,20.1 421.03,20.4 421.08,20.0 421.13,20.2 421.18,19.9 421.23,20.4 421.28,20.9 421.33,20.8 421.38,21.0 421.43,21.2 421.48,20.4 421.54,20.7 421.59,21.4 421.64,20.5 421.69,21.0 421.74,21.5 421.79,21.1 421.84,21.3 421.89,21.6 421.94,22.1 421.99,21.5 422.04,21.5 422.09,22.5 422.14,21.5 422.19,21.6 422.24,22.0 422.29,21.9 422.35,22.1 422.40,22.3 422.45,22.2 422.50,21.7 422.55,22.7 422.60,22.2 422.65,22.3 422.70,22.7 422.75,22.6 422.80,23.0 422.85,22.9 422.90,22.7 422.95,22.6 423.00,23.1 423.05,21.8 423.11,23.1 423.16,23.0 423.21,23.1 423.26,23.3 423.31,22.8 423.36,23.4 423.41,22.9 423.46,23.0 423.51,23.8 423.56,23.2 423.61,23.8 423.66,22.7 423.71,23.8 423.76,24.1 423.81,24.5 423.87,24.4 423.92,24.2 423.97,24.4 424.02,24.5 424.07,24.4 424.12,24.3 424.17,23.8 424.22,25.0 424.27,24.6 424.32,24.8 424.37,25.1 424.42,25.1 424.47,25.0 424.52,24.5 424.57,24.9 424.63,25.1 424.68,24.7 424.73,24.9 424.78,25.2 424.83,25.0 424.88,25.5 424.93,25.0 424.98,25.2 425.03,25.5 425.08,25.9 425.13,25.0 425.18,25.6 425.23,24.6 425.28,26.0 425.33,25.5 425.38,26.0 425.44,25.8 425.49,25.7 425.54,26.3 425.59,26.2 425.64,26.1 425.69,26.2 425.74,26.1 425.79,26.0 425.84,26.1 425.89,26.4 425.94,26.7 425.99,27.0 426.04,27.0 426.09,27.0 426.14,26.6 426.20,27.0 426.25,27.4 426.30,26.8 426.35,27.4 426.40,27.4 426.45,27.3 426.50,27.1 426.55,28.2 426.60,27.8 426.65,27.4 426.70,27.7 426.75,27.9 426.80,27.9 426.85,27.2 426.90,28.0 426.96,27.6 427.01,27.6 427.06,28.2 427.11,27.9 427.16,28.3 427.21,28.4 427.26,28.7 427.31,28.0 427.36,28.5 427.41,28.7 427.46,28.9 427.51,27.9 427.56,28.4 427.61,28.8 427.66,29.0 427.71,29.4 427.77,28.8 427.82,28.9 427.87,29.6 427.92,28.6 427.97,28.9 428.02,29.6 428.07,29.5 428.12,29.5 428.17,29.4 428.22,29.5 428.27,30.2 428.32,29.0 428.37,29.6 428.42,29.2 428.47,29.3 428.53,30.0 428.58,29.8 428.63,29.7 428.68,29.8 428.73,30.2 428.78,30.4 428.83,30.2 428.88,30.6 428.93,30.6 428.98,31.3 429.03,30.5 429.08,31.0 429.13,30.9 429.18,30.7 429.23,30.7 429.29,30.1 429.34,30.8 429.39,31.5 429.44,31.0 429.49,31.3 429.54,31.0 429.59,31.5 429.64,31.6 429.69,31.6 429.74,31.7 429.79,32.2 429.84,31.8 429.89,31.6 429.94,31.2 429.99,31.9 430.05,32.0 430.10,31.6 430.15,31.7 430.20,31.3 430.25,31.8 430.30,32.1 430.35,31.6 430.40,31.6 430.45,32.5 430.50,32.3 430.55,33.2 430.60,32.7 430.65,33.0 430.70,32.7 430.75,32.9 430.80,32.9 430.86,32.9 430.91,32.7 430.96,32.9 431.01,33.3 431.06,33.7 431.11,32.6 431.16,32.6 431.21,33.5 431.26,33.1 431.31,34.1 431.36,34.2 431.41,33.7 431.46,33.0 431.51,34.1 431.56,34.1 431.62,33.1 431.67,34.7 431.72,33.7 431.77,33.8 431.82,34.2 431.87,34.1 431.92,33.1 431.97,34.8 432.02,34.5 432.07,34.5 432.12,34.8 432.17,35.1 432.22,33.9 432.27,34.6 432.32,35.5 432.38,35.1 432.43,34.7 432.48,34.7 432.53,35.6 432.58,35.1 432.63,35.0 432.68,35.0 432.73,35.1 432.78,36.1 432.83,34.5 432.88,35.3 432.93,34.7 432.98,34.3 433.03,35.7 433.08,36.2 433.13,35.4 433.19,35.9 433.24,36.1 433.29,36.4 433.34,35.2 433.39,36.3 433.44,36.8 433.49,36.4 433.54,36.8 433.59,36.3 433.64,36.6 433.69,36.9 433.74,36.2 433.79,36.9 433.84,36.3 433.89,36.1 433.95,36.9 434.00,37.1 434.05,36.8 434.10,36.6 434.15,37.0 434.20,37.0 434.25,37.2 434.30,37.1 434.35,37.0 434.40,37.7 434.45,37.6 434.50,37.5 434.55,37.9 434.60,37.6 434.65,37.4 434.71,37.8 434.76,38.1 434.81,38.2 434.86,37.1 434.91,37.6 434.96,38.6 435.01,38.5 435.06,37.3 435.11,37.5 435.16,38.3 435.21,37.8 435.26,39.2 435.31,38.5 435.36,38.2 435.41,39.5 435.47,39.1 435.52,38.4 435.57,38.3 435.62,39.2 435.67,38.8 435.72,38.3 435.77,39.3 435.82,39.8 435.87,39.3 435.92,39.5 435.97,38.7 436.02,39.3 436.07,39.9 436.12,38.4 436.17,39.9 436.22,39.4 436.28,39.4 436.33,39.4 436.38,39.8 436.43,39.6 436.48,40.0 436.53,40.8 436.58,40.2 436.63,40.3 436.68,40.3 436.73,40.2 436.78,40.7 436.83,39.8 436.88,39.7 436.93,41.7 436.98,40.6 437.04,41.1 437.09,42.1 437.14,40.6 437.19,41.2 437.24,41.1 437.29,41.4 437.34,40.5 437.39,40.5 437.44,41.1 437.49,40.9 437.54,41.4 437.59,41.3 437.64,41.8 437.69,41.5 437.74,42.0 437.80,41.5 437.85,41.3 437.90,41.6 437.95,41.2 438.00,40.5 438.05,43.1 438.10,42.0 438.15,42.4 438.20,42.4 438.25,42.9 438.30,42.3 438.35,42.5 438.40,42.8 438.45,42.6 438.50,42.9 438.55,43.9 438.61,42.1 438.66,42.9 438.71,43.3 438.76,42.7 438.81,43.3 438.86,44.2 438.91,42.6 438.96,44.0 439.01,43.3 439.06,43.2 439.11,42.6 439.16,42.8 439.21,43.4 439.26,43.9 439.31,43.8 439.37,43.1 439.42,42.7 439.47,43.5 439.52,44.2 439.57,43.3 439.62,44.2 439.67,44.3 439.72,44.2 439.77,43.8 439.82,44.1 439.87,43.7 439.92,43.6 439.97,44.1 440.02,45.8 440.07,45.5 440.13,44.5 440.18,44.7 440.23,43.5 440.28,44.8 440.33,44.9 440.38,44.4 440.43,44.4 440.48,45.2 440.53,44.9 440.58,45.8 440.63,45.8 440.68,44.6 440.73,46.2 440.78,44.9 440.83,45.1 440.89,45.1 440.94,45.1 440.99,45.4 441.04,47.0 441.09,46.4 441.14,46.2 441.19,45.4 441.24,46.7 441.29,46.5 441.34,46.3 441.39,45.5 441.44,47.1 441.49,47.1 441.54,46.0 441.59,47.7 441.64,46.3 441.70,46.8 441.75,47.6 441.80,47.0 441.85,47.4 441.90,46.7 441.95,46.7 442.00,46.1 442.05,47.0 442.10,47.0 442.15,47.5 442.20,47.2 442.25,46.7 442.30,48.5 442.35,47.0 442.40,47.8 442.46,47.5 442.51,47.4 442.56,47.2 442.61,47.6 442.66,48.0 442.71,47.7 442.76,47.9 442.81,48.1 442.86,47.9 442.91,47.6 442.96,48.1 443.01,48.2 443.06,49.1 443.11,48.4 443.16,49.5 443.22,48.1 443.27,49.1 443.32,47.8 443.37,46.9 443.42,49.0 443.47,48.0 443.52,48.6 443.57,49.3 443.62,49.5 443.67,48.7 443.72,48.3 443.77,49.0 443.82,50.2 443.87,50.0 443.92,49.5 443.98,48.6 444.03,49.3 444.08,49.4 444.13,48.9 444.18,49.8 444.23,49.8 444.28,49.9 444.33,51.0 444.38,49.7 444.43,49.8 444.48,49.5 444.53,50.9 444.58,50.7 444.63,49.7 444.68,50.1 444.73,49.5 444.79,51.0 444.84,50.4 444.89,51.0 444.94,50.5 444.99,51.0 445.04,50.4 445.09,50.2 445.14,50.5 445.19,52.1 445.24,50.4 445.29,50.8 445.34,51.8 445.39,51.8 445.44,51.3 445.49,51.0 445.55,51.7 445.60,52.5 445.65,51.4 445.70,51.5 445.75,50.1 445.80,52.6 445.85,50.2 445.90,50.7 445.95,51.7 446.00,50.9 446.05,52.0 446.10,51.5 446.15,52.7 446.20,52.2 446.25,53.0 446.31,53.4 446.36,52.6 446.41,52.9 446.46,52.2 446.51,51.8 446.56,52.8 446.61,52.7 446.66,52.7 446.71,54.0 446.76,52.8 446.81,53.0 446.86,53.1 446.91,53.9 446.96,54.5 447.01,53.4 447.06,53.1 447.12,52.5 447.17,52.7 447.22,52.5 447.27,53.3 447.32,52.9 447.37,53.8 447.42,53.3 447.47,53.2 447.52,52.1 447.57,53.8 447.62,54.9 447.67,53.1 447.72,54.7 447.77,54.2 447.82,54.5 447.88,55.0 447.93,53.5 447.98,54.0 448.03,54.9 448.08,54.5 448.13,54.9 448.18,54.3 448.23,55.0 448.28,55.4 448.33,55.3 448.38,55.3 448.43,54.8 448.48,55.7 448.53,55.2 448.58,54.9 448.64,53.6 448.69,54.7 448.74,57.5 448.79,55.8 448.84,55.8 448.89,55.4 448.94,54.6 448.99,55.2 449.04,57.4 449.09,55.6 449.14,55.8 449.19,55.7 449.24,55.1 449.29,56.9 449.34,55.4 449.40,57.4 449.45,56.3 449.50,56.1 449.55,54.8 449.60,57.0 449.65,57.8 449.70,56.1 449.75,57.1 449.80,55.6 449.85,57.3 449.90,57.5 449.95,56.0 450.00,56.9 450.05,56.3 450.10,58.1 450.15,56.0 450.21,57.7 450.26,56.7 450.31,58.1 450.36,58.6 450.41,57.7 450.46,57.4 450.51,56.4 450.56,57.4 450.61,57.2 450.66,57.3 450.71,55.6 450.76,58.5 450.81,57.1 450.86,58.2 450.91,57.9 450.97,58.6 451.02,57.4 451.07,59.2 451.12,59.4 451.17,58.6 451.22,59.4 451.27,58.0 451.32,57.9 451.37,59.2 451.42,58.1 451.47,59.3 451.52,58.9 451.57,58.9 451.62,57.6 451.67,59.1 451.73,59.8 451.78,59.9 451.83,58.3 451.88,60.6 451.93,59.7 451.98,59.7 452.03,61.4 452.08,59.9 452.13,58.8 452.18,59.5 452.23,60.4 452.28,59.3 452.33,59.5 452.38,58.4 452.43,60.6 452.48,60.4 452.54,60.1 452.59,60.3 452.64,60.2 452.69,60.4 452.74,60.9 452.79,61.7 452.84,60.9 452.89,61.7 452.94,61.4 452.99,61.1 453.04,60.3 453.09,60.1 453.14,61.7 453.19,60.7 453.24,60.4 453.30,61.1 453.35,62.4 453.40,62.9 453.45,60.6 453.50,60.6 453.55,61.2 453.60,62.3 453.65,60.3 453.70,60.6 453.75,61.7 453.80,61.9 453.85,63.3 453.90,61.2 453.95,63.2 454.00,61.4 454.06,61.4 454.11,62.0 454.16,60.9 454.21,62.5 454.26,61.8 454.31,61.7 454.36,62.2 454.41,62.8 454.46,61.5 454.51,62.2 454.56,62.8 454.61,62.8 454.66,62.7 454.71,60.9 454.76,62.8 454.82,63.2 454.87,63.9 454.92,64.1 454.97,64.7 455.02,63.0 455.07,63.2 455.12,64.2 455.17,64.6 455.22,63.7 455.27,64.0 455.32,64.7 455.37,63.4 455.42,63.6 455.47,63.8 455.52,63.2 455.57,64.4 455.63,62.8 455.68,64.9 455.73,63.6 455.78,63.6 455.83,64.4 455.88,64.0 455.93,65.4 455.98,65.7 456.03,64.6 456.08,65.1 456.13,64.1 456.18,64.6 456.23,64.2 456.28,64.5 456.33,64.7 456.39,64.8 456.44,65.3 456.49,65.4 456.54,63.3 456.59,66.7 456.64,65.4 456.69,64.4 456.74,65.0 456.79,64.2 456.84,65.0 456.89,66.6 456.94,65.9 456.99,66.9 457.04,64.8 457.09,64.5 457.15,66.2 457.20,65.4 457.25,66.3 457.30,67.3 457.35,66.5 457.40,67.5 457.45,66.7 457.50,66.1 457.55,65.7 457.60,65.2 457.65,66.7 457.70,66.3 457.75,66.2 457.80,66.1 457.85,69.3 457.90,67.5 457.96,66.1 458.01,67.9 458.06,66.7 458.11,66.3 458.16,68.8 458.21,67.3 458.26,67.0 458.31,67.3 458.36,68.7 458.41,67.1 458.46,68.0 458.51,66.8 458.56,67.2 458.61,68.1 458.66,67.5 458.72,68.4 458.77,68.5 458.82,69.4 458.87,68.2 458.92,67.3 458.97,68.0 459.02,68.2 459.07,68.8 459.12,68.8 459.17,67.6 459.22,69.8 459.27,66.5 459.32,68.6 459.37,66.6 459.42,67.6 459.48,69.1 459.53,68.1 459.58,68.6 459.63,68.5 459.68,68.2 459.73,69.6 459.78,69.7 459.83,69.6 459.88,70.5 459.93,69.5 459.98,69.1 460.03,69.2 460.08,69.3 460.13,69.9 460.18,68.9 460.24,71.7 460.29,70.1 460.34,70.1 460.39,69.0 460.44,69.3 460.49,69.2 460.54,70.0 460.59,69.2 460.64,71.2 460.69,70.2 460.74,72.4 460.79,68.7 460.84,68.9 460.89,71.1 460.94,71.4 460.99,72.7 461.05,72.2 461.10,70.6 461.15,71.0 461.20,72.3 461.25,71.4 461.30,71.7 461.35,70.6 461.40,70.4 461.45,71.4 461.50,71.1 461.55,71.3 461.60,73.5 461.65,71.2 461.70,71.6 461.75,70.8 461.81,73.5 461.86,70.9 461.91,72.4 461.96,71.5 462.01,70.6 462.06,73.4 462.11,73.3 462.16,71.0 462.21,73.3 462.26,73.1 462.31,71.6 462.36,72.5 462.41,71.5 462.46,72.1 462.51,72.5 462.57,71.5 462.62,70.3 462.67,72.8 462.72,71.2 462.77,71.6 462.82,72.7 462.87,72.4 462.92,73.9 462.97,73.7 463.02,72.8 463.07,73.2 463.12,71.8 463.17,74.6 463.22,73.6 463.27,74.0 463.32,73.6 463.38,72.3 463.43,74.8 463.48,72.7 463.53,74.3 463.58,74.1 463.63,72.8 463.68,74.2 463.73,73.2 463.78,73.9 463.83,74.2 463.88,74.5 463.93,76.0 463.98,75.0 464.03,74.1 464.08,74.1 464.14,76.0 464.19,73.4 464.24,73.9 464.29,76.0 464.34,75.8 464.39,74.2 464.44,76.7 464.49,75.6 464.54,74.9 464.59,75.1 464.64,75.1 464.69,74.6 464.74,76.0 464.79,75.7 464.84,73.0 464.90,76.8 464.95,75.9 465.00,75.3 465.05,76.2 465.10,74.2 465.15,75.5 465.20,74.8 465.25,78.6 465.30,74.5 465.35,74.6 465.40,76.7 465.45,74.5 465.50,75.7 465.55,75.1 465.60,74.1 465.66,76.1 465.71,77.4 465.76,76.3 465.81,77.8 465.86,77.3 465.91,77.4 465.96,77.4 466.01,75.3 466.06,75.7 466.11,77.8 466.16,75.5 466.21,78.8 466.26,77.7 466.31,77.1 466.36,75.7 466.41,76.3 466.47,76.6 466.52,75.7 466.57,76.5 466.62,75.8 466.67,78.3 466.72,79.4 466.77,78.0 466.82,76.6 466.87,77.3 466.92,76.7 466.97,76.9 467.02,77.2 467.07,76.9 467.12,78.8 467.17,76.7 467.23,79.2 467.28,78.2 467.33,79.8 467.38,77.6 467.43,80.1 467.48,76.7 467.53,80.0 467.58,78.2 467.63,78.7 467.68,79.6 467.73,77.2 467.78,79.2 467.83,77.0 467.88,80.0 467.93,79.8 467.99,81.3 468.04,78.4 468.09,78.0 468.14,78.9 468.19,79.4 468.24,80.4 468.29,76.5 468.34,78.5 468.39,81.6 468.44,79.9 468.49,82.7 468.54,77.7 468.59,77.3 468.64,78.0 468.69,79.9 468.75,80.6 468.80,81.6 468.85,79.3 468.90,80.9 468.95,80.5 469.00,80.9 469.05,80.6 469.10,79.2 469.15,78.3 469.20,80.2 469.25,80.4 469.30,81.9 469.35,82.1 469.40,81.9 469.45,79.6 469.50,80.4 469.56,79.6 469.61,80.3 469.66,81.4 469.71,82.5 469.76,81.5 469.81,82.9 469.86,78.6 469.91,80.9 469.96,81.7 470.01,78.8 470.06,81.9 470.11,80.7 470.16,81.7 470.21,81.1 470.26,82.1 470.32,81.1 470.37,79.9 470.42,83.4 470.47,84.7 470.52,80.2 470.57,81.8 470.62,80.9 470.67,82.5 470.72,80.2 470.77,79.9 470.82,83.8 470.87,81.5 470.92,83.2 470.97,84.6 471.02,82.9 471.08,81.8 471.13,84.4 471.18,84.4 471.23,81.2 471.28,82.8 471.33,82.4 471.38,84.5 471.43,83.9 471.48,82.9 471.53,82.9 471.58,83.0 471.63,81.2 471.68,83.1 471.73,85.4 471.78,84.6 471.83,83.6 471.89,81.9 471.94,84.6 471.99,84.2 472.04,83.8 472.09,84.8 472.14,85.0 472.19,84.3 472.24,82.7 472.29,83.5 472.34,84.5 472.39,83.7 472.44,86.0 472.49,83.0 472.54,83.4 472.59,84.1 472.65,86.7 472.70,81.8 472.75,88.6 472.80,86.1 472.85,86.0 472.90,83.9 472.95,86.9 473.00,84.6 473.05,85.2 473.10,85.5 473.15,83.9 473.20,83.2 473.25,84.7 473.30,85.7 473.35,88.5 473.41,83.4 473.46,85.9 473.51,88.1 473.56,85.4 473.61,83.6 473.66,85.9 473.71,87.4 473.76,82.7 473.81,85.0 473.86,85.5 473.91,84.6 473.96,89.1 474.01,86.2 474.06,86.4 474.11,83.0 474.17,87.1 474.22,87.1 474.27,88.4 474.32,87.6 474.37,86.8 474.42,86.2 474.47,86.9 474.52,83.8 474.57,86.0 474.62,85.9 474.67,84.9 474.72,86.0 474.77,87.7 474.82,89.3 474.87,86.6 474.92,88.3 474.98,85.3 475.03,88.4 475.08,90.6 475.13,87.3 475.18,85.9 475.23,87.8 475.28,87.3 475.33,87.4 475.38,85.2 475.43,87.3 475.48,87.9 475.53,88.8 475.58,90.3 475.63,85.9 475.68,86.3 475.74,89.5 475.79,87.2 475.84,87.7 475.89,88.8 475.94,88.8 475.99,87.3 476.04,90.2 476.09,89.3 476.14,88.7 476.19,88.6 476.24,89.0 476.29,88.4 476.34,88.0 476.39,90.2 476.44,88.8 476.50,89.8 476.55,86.8 476.60,91.2 476.65,89.5 476.70,88.1 476.75,89.7 476.80,89.8 476.85,90.2 476.90,89.0 476.95,91.3 477.00,89.7 477.05,89.8 477.10,91.9 477.15,89.3 477.20,90.5 477.25,89.4 477.31,88.6 477.36,89.4 477.41,91.8 477.46,89.6 477.51,92.6 477.56,91.3 477.61,87.6 477.66,90.3 477.71,87.9 477.76,90.7 477.81,90.4 477.86,92.2 477.91,89.1 477.96,90.9 478.01,89.7 478.07,90.0 478.12,89.9 478.17,90.3 478.22,90.9 478.27,90.9 478.32,92.1 478.37,94.4 478.42,90.3 478.47,87.9 478.52,89.5 478.57,87.5 478.62,90.5 478.67,92.9 478.72,93.0 478.77,90.3 478.83,91.0 478.88,91.8 478.93,90.4 478.98,93.1 479.03,90.9 479.08,92.2 479.13,91.6 479.18,90.0 479.23,92.2 479.28,89.8 479.33,89.9 479.38,93.3 479.43,88.4 479.48,94.2 479.53,92.4 479.59,91.1 479.64,96.1 479.69,90.8 479.74,90.6 479.79,92.7 479.84,92.2 479.89,92.3 479.94,93.1 479.99,91.0 480.04,93.5 480.09,93.0 480.14,92.4 480.19,91.6 480.24,91.2 480.29,95.6 480.34,96.6 480.40,93.5 480.45,93.4 480.50,95.2 480.55,92.9 480.60,92.4 480.65,92.9 480.70,90.8 480.75,95.4 480.80,93.7 480.85,90.5 480.90,92.7 480.95,95.8 481.00,93.6 481.05,92.0 481.10,90.5 481.16,93.0 481.21,92.2 481.26,96.1 481.31,94.7 481.36,92.3 481.41,96.0 481.46,94.6 481.51,97.7 481.56,92.0 481.61,94.9 481.66,93.7 481.71,97.3 481.76,97.1 481.81,91.7 481.86,95.5 481.92,95.9 481.97,94.1 482.02,94.1 482.07,98.5 482.12,96.9 482.17,95.2 482.22,95.3 482.27,94.8 482.32,96.2 482.37,96.0 482.42,95.2 482.47,96.8 482.52,97.1 482.57,96.7 482.62,95.8 482.67,96.1 482.73,96.7 482.78,96.4 482.83,96.1 482.88,95.5 482.93,95.5 482.98,98.4 483.03,94.5 483.08,99.1 483.13,95.4 483.18,97.7 483.23,95.4 483.28,94.6 483.33,99.9 483.38,95.5 483.43,96.2 483.49,97.6 483.54,96.1 483.59,97.7 483.64,96.7 483.69,98.9 483.74,95.6 483.79,96.0 483.84,95.8 483.89,98.4 483.94,93.9 483.99,93.7 484.04,97.5 484.09,98.2 484.14,98.2 484.19,96.3 484.25,95.7 484.30,99.0 484.35,101.4 484.40,96.9 484.45,97.9 484.50,97.6 484.55,97.0 484.60,100.0 484.65,97.9 484.70,98.6 484.75,97.5 484.80,96.0 484.85,98.3 484.90,99.9 484.95,96.1 485.01,97.1 485.06,98.9 485.11,101.9 485.16,100.3 485.21,98.4 485.26,97.7 485.31,99.8 485.36,98.0 485.41,100.1 485.46,99.8 485.51,98.0 485.56,99.6 485.61,98.9 485.66,97.6 485.71,97.1 485.76,100.4 485.82,99.9 485.87,101.9 485.92,102.0 485.97,99.0 486.02,100.6 486.07,103.2 486.12,98.7 486.17,101.4 486.22,100.4 486.27,99.1 486.32,99.2 486.37,100.1 486.42,103.9 486.47,99.0 486.52,101.3 486.58,103.0 486.63,104.5 486.68,97.8 486.73,100.1 486.78,100.2 486.83,99.3 486.88,100.7 486.93,103.5 486.98,99.4 487.03,98.8 487.08,99.8 487.13,97.8 487.18,97.2 487.23,102.5 487.28,101.9 487.34,99.3 487.39,100.8 487.44,100.7 487.49,99.4 487.54,99.8 487.59,102.2 487.64,101.1 487.69,102.8 487.74,101.9 487.79,103.7 487.84,105.5 487.89,102.6 487.94,102.9 487.99,100.0 488.04,98.7 488.09,101.8 488.15,101.0 488.20,103.2 488.25,103.9 488.30,102.6 488.35,102.7 488.40,101.6 488.45,102.0 488.50,99.0 488.55,102.8 488.60,105.7 488.65,102.2 488.70,103.8 488.75,102.1 488.80,100.3 488.85,104.0 488.91,102.9 488.96,101.7 489.01,104.7 489.06,102.4 489.11,101.8 489.16,101.3 489.21,100.8 489.26,102.0 489.31,102.3 489.36,106.0 489.41,108.7 489.46,105.3 489.51,100.4 489.56,103.2 489.61,108.1 489.67,104.4 489.72,102.8 489.77,107.4 489.82,102.5 489.87,106.1 489.92,101.6 489.97,103.8 490.02,97.4 490.07,106.7 490.12,103.4 490.17,107.1 490.22,101.7 490.27,103.9 490.32,102.3 490.37,104.0 490.43,106.8 490.48,105.7 490.53,107.0 490.58,106.7 490.63,104.2 490.68,102.3 490.73,102.8 490.78,103.6 490.83,105.9 490.88,103.7 490.93,106.6 490.98,104.4 491.03,103.2 491.08,105.4 491.13,106.0 491.18,106.0 491.24,103.8 491.29,105.9 491.34,108.3 491.39,106.2 491.44,107.7 491.49,102.2 491.54,105.5 491.59,108.7 491.64,105.0 491.69,104.1 491.74,104.9 491.79,106.5 491.84,105.5 491.89,105.2 491.94,103.7 492.00,105.2 492.05,101.1 492.10,106.5 492.15,102.8 492.20,106.1 492.25,110.0 492.30,108.8 492.35,110.3 492.40,110.2 492.45,103.8 492.50,107.9 492.55,105.2 492.60,108.6 492.65,106.7 492.70,109.0 492.76,104.8 492.81,107.4 492.86,107.9 492.91,107.3 492.96,102.1 493.01,106.0 493.06,105.2 493.11,109.9 493.16,108.6 493.21,106.6 493.26,111.4 493.31,104.3 493.36,106.8 493.41,107.5 493.46,107.9 493.52,108.1 493.57,108.7 493.62,104.5 493.67,106.2 493.72,105.0 493.77,108.5 493.82,109.9 493.87,104.8 493.92,110.7 493.97,109.4 494.02,106.5 494.07,105.7 494.12,111.2 494.17,108.9 494.22,108.2 494.27,108.7 494.33,110.4 494.38,106.9 494.43,109.7 494.48,109.1 494.53,113.8 494.58,108.9 494.63,113.2 494.68,107.1 494.73,107.7 494.78,110.1 494.83,108.6 494.88,108.7 494.93,109.4 494.98,108.2 495.03,109.4 495.09,110.3 495.14,111.1 495.19,105.4 495.24,108.9 495.29,109.4 495.34,107.8 495.39,110.4 495.44,110.5 495.49,108.0 495.54,107.2 495.59,108.1 495.64,113.3 495.69,109.7 495.74,109.9 495.79,108.8 495.85,112.1 495.90,112.5 495.95,110.4 496.00,112.2 496.05,112.7 496.10,110.4 496.15,108.1 496.20,110.0 496.25,107.7 496.30,112.8 496.35,108.8 496.40,110.6 496.45,112.7 496.50,111.7 496.55,112.8 496.60,111.3 496.66,112.6 496.71,107.8 496.76,111.8 496.81,114.4 496.86,111.5 496.91,110.1 496.96,111.9 497.01,109.1 497.06,113.4 497.11,113.4 497.16,107.4 497.21,111.4 497.26,110.1 497.31,110.3 497.36,110.1 497.42,111.5 497.47,112.1 497.52,109.0 497.57,112.9 497.62,111.5 497.67,110.2 497.72,112.9 497.77,115.7 497.82,110.9 497.87,109.4 497.92,111.5 497.97,116.3 498.02,110.6 498.07,107.4 498.12,116.1 498.18,119.1 498.23,113.0 498.28,112.3 498.33,110.6 498.38,110.5 498.43,112.4 498.48,111.3 498.53,111.9 498.58,112.4 498.63,112.9 498.68,113.2 498.73,111.1 498.78,111.9 498.83,114.1 498.88,110.3 498.94,114.9 498.99,113.7 499.04,112.9 499.09,118.0 499.14,114.3 499.19,111.2 499.24,111.4 499.29,116.5 499.34,115.6 499.39,116.3 499.44,114.2 499.49,113.8 499.54,117.8 499.59,113.0 499.64,113.6 499.69,114.0 499.75,115.6 499.80,114.4 499.85,118.6 499.90,113.5 499.95,113.6 500.00,114.4 500.05,117.2 500.10,111.0 500.15,111.4 500.20,119.2 500.25,113.4 500.30,114.1 500.35,121.1 500.40,113.2 500.45,112.9 500.51,112.8 500.56,114.3 500.61,116.5 500.66,116.1 500.71,113.5 500.76,111.9 500.81,116.2 500.86,115.7 500.91,113.2 500.96,120.7 501.01,114.0 501.06,115.8 501.11,121.0 501.16,113.3 501.21,117.8 501.27,113.3 501.32,111.8 501.37,118.8 501.42,118.7 501.47,115.6 501.52,120.3 501.57,113.8 501.62,115.3 501.67,113.2 501.72,120.7 501.77,115.4 501.82,114.7 501.87,120.8 501.92,113.7 501.97,119.8 502.02,115.7 502.08,119.7 502.13,114.1 502.18,111.7 502.23,116.2 502.28,116.3 502.33,112.9 502.38,117.7 502.43,116.4 502.48,114.3 502.53,115.4 502.58,112.4 502.63,113.4 502.68,111.5 502.73,116.8 502.78,113.7 502.84,119.0 502.89,114.4 502.94,112.1 502.99,110.5 503.04,120.4 503.09,117.5 503.14,115.1 503.19,119.5 503.24,115.6 503.29,115.7 503.34,118.5 503.39,118.7 503.44,119.8 503.49,116.5 503.54,113.9 503.60,116.6 503.65,109.8 503.70,121.7 503.75,119.2 503.80,115.8 503.85,120.9 503.90,116.8 503.95,115.5 504.00,117.3 504.05,118.5 504.10,115.3 504.15,116.8 504.20,116.0 504.25,116.5 504.30,120.0 504.36,121.3 504.41,119.3 504.46,117.8 504.51,118.9 504.56,115.7 504.61,117.7 504.66,115.7 504.71,118.2 504.76,120.6 504.81,116.2 504.86,117.2 504.91,121.1 504.96,119.9 505.01,110.8 505.06,128.6 505.11,115.7 505.17,118.8 505.22,119.2 505.27,120.0 505.32,120.6 505.37,112.3 505.42,120.5 505.47,120.2 505.52,117.0 505.57,118.3 505.62,120.0 505.67,120.4 505.72,123.5 505.77,116.5 505.82,122.8 505.87,126.9 505.93,116.7 505.98,117.6 506.03,118.9 506.08,121.5 506.13,116.5 506.18,123.3 506.23,126.6 506.28,119.7 506.33,117.8 506.38,118.4 506.43,114.1 506.48,117.9 506.53,121.1 506.58,121.1 506.63,117.8 506.69,120.8 506.74,121.0 506.79,126.0 506.84,121.7 506.89,124.7 506.94,120.1 506.99,120.5 507.04,118.8 507.09,115.5 507.14,121.6 507.19,116.7 507.24,124.6 507.29,120.7 507.34,118.3 507.39,115.3 507.44,124.7 507.50,122.1 507.55,121.0 507.60,121.8 507.65,124.4 507.70,126.6 507.75,125.4 507.80,121.9 507.85,125.8 507.90,116.2 507.95,118.0 508.00,127.8 508.05,123.4 508.10,117.8 508.15,117.4 508.20,118.5 508.26,126.5 508.31,123.3 508.36,118.1 508.41,121.9 508.46,123.7 508.51,120.7 508.56,119.2 508.61,122.0 508.66,121.7 508.71,119.1 508.76,124.3 508.81,125.5 508.86,120.2 508.91,126.5 508.96,121.1 509.02,125.1 509.07,120.1 509.12,126.7 509.17,119.3 509.22,122.1 509.27,124.0 509.32,125.8 509.37,123.6 509.42,126.1 509.47,127.1 509.52,119.8 509.57,121.4 509.62,119.4 509.67,127.8 509.72,129.7 509.78,128.6 509.83,121.4 509.88,121.0 509.93,129.7 509.98,120.4 510.03,125.2 510.08,127.7 510.13,124.1 510.18,122.0 510.23,124.6 510.28,124.6 510.33,126.8 510.38,128.7 510.43,125.4 510.48,129.5 510.53,122.2 510.59,127.1 510.64,120.0 510.69,129.6 510.74,119.8 510.79,127.4 510.84,127.5 510.89,123.6 510.94,121.6 510.99,124.8 511.04,125.9 511.09,118.1 511.14,123.1 511.19,128.8 511.24,125.8 511.29,119.3 511.35,123.9 511.40,122.2 511.45,118.2 511.50,127.1 511.55,123.9 511.60,127.4 511.65,125.3 511.70,123.5 511.75,129.8 511.80,124.9 511.85,124.9 511.90,121.9 511.95,127.5 512.00,129.9 512.05,124.3 512.11,129.5 512.16,125.1 512.21,123.8 512.26,128.8 512.31,126.3 512.36,129.4 512.41,135.7 512.46,131.0 512.51,133.2 512.56,126.0 512.61,129.8 512.66,126.7 512.71,126.4 512.76,122.6 512.81,127.5 512.86,127.8 512.92,124.7 512.97,120.9 513.02,126.8 513.07,125.4 513.12,127.3 513.17,129.1 513.22,132.1 513.27,127.0 513.32,127.7 513.37,127.7 513.42,119.9 513.47,128.1 513.52,125.8 513.57,128.2 513.62,122.9 513.68,128.1 513.73,120.6 513.78,128.1 513.83,124.5 513.88,123.7 513.93,128.1 513.98,124.3 514.03,127.2 514.08,130.1 514.13,129.8 514.18,126.3 514.23,121.2 514.28,129.3 514.33,125.7 514.38,130.6 514.44,126.8 514.49,132.4 514.54,130.6 514.59,127.9 514.64,130.6 514.69,128.9 514.74,124.4 514.79,128.5 514.84,130.7 514.89,132.6 514.94,130.1 514.99,124.1 515.04,128.6 515.09,128.8 515.14,125.7 515.20,125.4 515.25,124.8 515.30,129.8 515.35,131.8 515.40,134.6 515.45,131.1 515.50,130.0 515.55,126.0 515.60,127.6 515.65,130.9 515.70,125.6 515.75,133.5 515.80,132.8 515.85,133.3 515.90,133.0 515.95,130.0 516.01,132.2 516.06,131.9 516.11,124.3 516.16,134.6 516.21,133.1 516.26,130.2 516.31,127.7 516.36,127.6 516.41,130.4 516.46,130.9 516.51,130.5 516.56,126.8 516.61,133.1 516.66,138.4 516.71,129.0 516.77,134.1 516.82,130.0 516.87,124.7 516.92,129.5 516.97,123.1 517.02,135.9 517.07,129.1 517.12,128.6 517.17,127.0 517.22,132.9 517.27,129.6 517.32,129.8 517.37,129.9 517.42,135.5 517.47,136.9 517.53,128.4 517.58,129.1 517.63,130.3 517.68,128.1 517.73,126.5 517.78,135.0 517.83,127.7 517.88,125.0 517.93,126.8 517.98,128.5 518.03,128.1 518.08,136.3 518.13,132.7 518.18,127.0 518.23,125.2 518.29,129.2 518.34,132.7 518.39,131.5 518.44,127.8 518.49,123.3 518.54,128.1 518.59,133.2 518.64,128.8 518.69,129.5 518.74,122.0 518.79,129.0 518.84,131.2 518.89,131.7 518.94,136.2 518.99,135.5 519.04,133.3 519.10,134.7 519.15,130.8 519.20,131.2 519.25,128.0 519.30,125.8 519.35,131.1 519.40,132.5 519.45,139.1 519.50,130.4 519.55,129.3 519.60,135.0 519.65,133.5 519.70,134.8 519.75,127.9 519.80,129.7 519.86,127.3 519.91,137.0 519.96,121.7 520.01,135.7 520.06,136.4 520.11,131.6 520.16,134.6 520.21,125.2 520.26,134.1 520.31,135.3 520.36,128.7 520.41,127.8 520.46,136.0 520.51,134.6 520.56,134.2 520.62,133.5 520.67,126.0 520.72,127.9 520.77,128.7 520.82,127.9 520.87,133.0 520.92,129.6 520.97,133.4 521.02,136.2 521.07,126.5 521.12,140.4 521.17,133.3 521.22,135.7 521.27,140.2 521.32,135.0 521.37,133.2 521.43,131.7 521.48,137.0 521.53,130.6 521.58,132.5 521.63,130.4 521.68,141.7 521.73,135.7 521.78,136.4 521.83,131.6 521.88,137.0 521.93,136.1 521.98,138.8 522.03,139.0 522.08,138.0 522.13,130.2 522.19,138.6 522.24,144.4 522.29,133.2 522.34,136.3 522.39,132.2 522.44,132.3 522.49,135.8 522.54,136.3 522.59,136.9 522.64,134.7 522.69,137.9 522.74,133.9 522.79,129.0 522.84,137.6 522.89,137.5 522.95,137.6 523.00,132.4 523.05,132.3 523.10,129.0 523.15,132.1 523.20,134.6 523.25,133.2 523.30,140.7 523.35,132.8 523.40,134.5 523.45,126.5 523.50,129.5 523.55,138.8 523.60,137.8 523.65,131.7 523.71,144.2 523.76,139.4 523.81,134.0 523.86,132.9 523.91,134.8 523.96,130.7 524.01,136.9 524.06,135.3 524.11,136.6 524.16,140.5 524.21,135.7 524.26,138.3 524.31,135.6 524.36,146.8 524.41,135.6 524.46,138.4 524.52,138.7 524.57,135.9 524.62,138.2 524.67,132.2 524.72,130.9 524.77,132.5 524.82,132.2 524.87,134.8 524.92,136.3 524.97,142.0 525.02,138.1 525.07,131.3 525.12,133.3 525.17,138.7 525.22,136.2 525.28,132.1 525.33,137.4 525.38,129.7 525.43,140.1 525.48,133.4 525.53,133.8 525.58,136.2 525.63,135.6 525.68,134.6 525.73,146.8 525.78,135.0 525.83,132.1 525.88,135.4 525.93,132.2 525.98,142.4 526.04,137.6 526.09,135.8 526.14,138.5 526.19,132.1 526.24,135.3 526.29,139.7 526.34,133.9 526.39,133.9 526.44,139.5 526.49,134.8 526.54,136.0 526.59,136.1 526.64,143.3 526.69,132.1 526.74,134.9 526.79,138.0 526.85,136.3 526.90,136.4 526.95,139.3 527.00,140.6 527.05,137.6 527.10,140.8 527.15,140.3 527.20,143.4 527.25,139.5 527.30,133.7 527.35,137.3 527.40,138.1 527.45,139.8 527.50,140.3 527.55,145.2 527.61,131.0 527.66,141.8 527.71,145.4 527.76,136.8 527.81,137.5 527.86,141.1 527.91,145.4 527.96,145.1 528.01,131.7 528.06,139.4 528.11,141.9 528.16,130.4 528.21,141.5 528.26,143.2 528.31,136.5 528.37,137.4 528.42,131.9 528.47,146.3 528.52,137.9 528.57,146.8 528.62,137.1 528.67,142.3 528.72,141.5 528.77,142.8 528.82,135.5 528.87,131.9 528.92,139.9 528.97,140.7 529.02,141.9 529.07,137.2 529.13,144.5 529.18,123.2 529.23,140.8 529.28,131.8 529.33,139.1 529.38,146.3 529.43,146.8 529.48,141.9 529.53,143.3 529.58,141.2 529.63,145.5 529.68,129.1 529.73,130.1 529.78,149.1 529.83,138.0 529.88,134.6 529.94,141.9 529.99,141.4 530.04,135.2 530.09,137.9 530.14,146.2 530.19,134.7 530.24,142.9 530.29,131.8 530.34,145.2 530.39,151.7 530.44,140.3 530.49,135.0 530.54,138.3 530.59,140.1 530.64,145.3 530.70,136.5 530.75,150.4 530.80,137.2 530.85,146.8 530.90,144.0 530.95,147.9 531.00,145.6 531.05,134.1 531.10,146.8 531.15,140.5 531.20,145.3 531.25,136.5 531.30,147.9 531.35,141.5 531.40,137.2 531.46,130.6 531.51,147.9 531.56,146.0 531.61,142.0 531.66,134.6 531.71,146.8 531.76,137.9 531.81,145.0 531.86,146.8 531.91,150.4 531.96,141.4 532.01,137.3 532.06,142.7 532.11,153.2 532.16,145.0 532.21,137.5 532.27,138.0 532.32,141.0 532.37,135.1 532.42,149.1 532.47,149.1 532.52,130.6 532.57,139.2 532.62,143.6 532.67,145.1 532.72,156.4 532.77,138.5 532.82,153.2 532.87,153.2 532.92,143.1 532.97,135.3 533.03,144.9 533.08,141.1 533.13,145.2 533.18,141.0 533.23,151.7 533.28,132.4 533.33,147.9 533.38,140.3 533.43,153.2 533.48,134.2 533.53,141.1 533.58,133.1 533.63,146.7 533.68,138.1 533.73,144.3 533.79,143.7 533.84,136.8 533.89,147.9 533.94,139.7 533.99,133.5 534.04,134.6 534.09,138.1 534.14,141.9 534.19,149.1 534.24,136.3 534.29,146.8 534.34,137.5 534.39,145.5 534.44,143.7 534.49,143.8 534.55,140.7 534.60,146.2 534.65,143.0 534.70,146.7 534.75,141.2 534.80,142.5 534.85,141.8 534.90,147.9 534.95,142.4 535.00,143.9 535.05,141.1 535.10,144.0 535.15,149.1 535.20,140.5 535.25,147.9 535.30,142.9 535.36,154.7 535.41,141.8 535.46,141.0 535.51,149.1 535.56,141.5 535.61,146.6 535.66,137.4 535.71,141.2 535.76,151.7 535.81,145.8 535.86,154.7 535.91,146.5 535.96,142.0 536.01,140.5 536.06,145.5 536.12,146.2 536.17,144.1 536.22,147.9 536.27,143.3 536.32,139.1 536.37,144.1 536.42,140.6 536.47,149.1 536.52,147.9 536.57,143.4 536.62,134.4 536.67,139.8 536.72,136.1 536.77,145.0 536.82,138.7 536.88,154.7 536.93,142.6 536.98,156.4 537.03,138.8 537.08,142.9 537.13,139.2 537.18,143.3 537.23,147.9 537.28,149.1 537.33,144.5 537.38,137.5 537.43,142.2 537.48,149.1 537.53,149.1 537.58,149.1 537.63,146.8 537.69,146.3 537.74,147.9 537.79,145.8 537.84,154.7 537.89,137.4 537.94,144.6 537.99,137.7 538.04,144.4 538.09,146.8 538.14,145.6 538.19,144.9 538.24,149.1 538.29,147.9 538.34,135.7 538.39,141.1 538.45,149.1 538.50,143.4 538.55,150.4 538.60,138.6 538.65,151.7 538.70,141.5 538.75,146.2 538.80,146.2 538.85,150.4 538.90,147.9 538.95,150.4 539.00,151.7 539.05,144.0 539.10,132.8 539.15,149.1 539.21,141.2 539.26,146.8 539.31,150.4 539.36,139.4 539.41,143.3 539.46,140.5 539.51,146.2 539.56,146.1 539.61,151.7 539.66,147.9 539.71,137.7 539.76,160.1 539.81,144.9 539.86,138.9 539.91,142.7 539.97,142.2 540.02,149.1 540.07,140.9 540.12,140.8 540.17,147.9 540.22,137.9 540.27,150.4 540.32,162.2 540.37,147.9 540.42,147.9 540.47,151.7 540.52,150.4 540.57,150.4 540.62,158.1 540.67,140.7 540.72,147.9 540.78,132.5 540.83,147.9 540.88,145.5 540.93,156.4 540.98,142.1 541.03,154.7 541.08,144.8 541.13,142.7 541.18,143.6 541.23,153.2 541.28,153.2 541.33,143.8 541.38,141.4 541.43,139.9 541.48,147.9 541.54,149.1 541.59,138.0 541.64,151.7 541.69,144.0 541.74,150.4 541.79,156.4 541.84,154.7 541.89,145.9 541.94,146.8 541.99,145.7 542.04,150.4 542.09,151.7 542.14,146.8 542.19,149.1 542.24,158.1 542.30,151.7 542.35,139.0 542.40,153.2 542.45,145.7 542.50,149.1 542.55,144.7 542.60,154.7 542.65,156.4 542.70,146.4 542.75,153.2 542.80,149.1 542.85,150.4 542.90,143.6 542.95,147.9 543.00,147.9 543.06,154.7 543.11,158.1 543.16,154.7 543.21,144.5 543.26,145.4 543.31,146.1 543.36,151.7 543.41,154.7 543.46,142.9 543.51,149.1 543.56,146.5 543.61,154.7 543.66,153.2 543.71,146.0 543.76,145.5 543.81,156.4 543.87,147.9 543.92,156.4 543.97,142.8 544.02,146.1 544.07,136.6 544.12,141.1 544.17,153.2 544.22,149.1 544.27,153.2 544.32,149.1 544.37,145.6 544.42,150.4 544.47,150.4 544.52,158.1 544.57,146.8 544.63,150.4 544.68,146.7 544.73,144.3 544.78,150.4 544.83,146.3 544.88,154.7 544.93,144.9 544.98,150.4 545.03,154.7 545.08,151.7 545.13,160.1 545.18,154.7 545.23,153.2 545.28,150.4 545.33,151.7 545.39,154.7 545.44,151.7 545.49,164.5 545.54,150.4 545.59,147.9 545.64,146.3 545.69,144.6 545.74,151.7 545.79,151.7 545.84,154.7 545.89,154.7 545.94,150.4 545.99,143.2 546.04,162.2 546.09,154.7 546.14,149.1 546.20,158.1 546.25,149.1 546.30,160.1 546.35,153.2 546.40,162.2 546.45,150.4 546.50,156.4 546.55,147.9 546.60,153.2 546.65,158.1 546.70,154.7 546.75,151.7 546.80,151.7 546.85,153.2 546.90,154.7 546.96,151.7 547.01,146.8 547.06,156.4 547.11,149.1 547.16,160.1 547.21,146.6 547.26,150.4 547.31,154.7 547.36,154.7 547.41,162.2 547.46,151.7 547.51,153.2 547.56,160.1 547.61,154.7 547.66,149.1 547.72,151.7 547.77,150.4 547.82,156.4 547.87,147.9 547.92,153.2 547.97,147.9 548.02,139.0 548.07,164.5 548.12,156.4 548.17,153.2 548.22,158.1 548.27,146.4 548.32,154.7 548.37,142.5 548.42,147.9 548.48,150.4 548.53,153.2 548.58,147.9 548.63,150.4 548.68,143.8 548.73,150.4 548.78,146.6 548.83,150.4 548.88,150.4 548.93,162.2 548.98,153.2 549.03,150.4 549.08,160.1 549.13,162.2 549.18,154.7 549.23,151.7 549.29,164.5 549.34,151.7 549.39,146.8 549.44,154.7 549.49,151.7 549.54,150.4 549.59,158.1 549.64,149.1 549.69,150.4 549.74,162.2 549.79,150.4 549.84,147.9 549.89,160.1 549.94,147.9 549.99,154.7 550.05,162.2 550.10,160.1 550.15,160.1 550.20,150.4 550.25,156.4 550.30,156.4 550.35,162.2 550.40,153.2 550.45,162.2 550.50,158.1 550.55,150.4 550.60,150.4 550.65,158.1 550.70,154.7 550.75,150.4 550.81,154.7 550.86,146.5 550.91,145.6 550.96,154.7 551.01,162.2 551.06,154.7 551.11,145.7 551.16,146.8 551.21,146.8 551.26,146.8 551.31,158.1 551.36,153.2 551.41,147.9 551.46,153.2 551.51,149.1 551.56,160.1 551.62,162.2 551.67,141.6 551.72,149.1 551.77,150.4 551.82,145.2 551.87,140.2 551.92,136.0 551.97,170.1 552.02,151.7 552.07,147.9 552.12,167.2 552.17,167.2 552.22,156.4 552.27,142.5 552.32,149.1 552.38,140.8 552.43,153.2 552.48,147.9 552.53,145.0 552.58,151.7 552.63,154.7 552.68,154.7 552.73,177.6 552.78,153.2 552.83,167.2 552.88,160.1 552.93,150.4 552.98,153.2 553.03,170.1 553.08,151.7 553.14,150.4 553.19,154.7 553.24,150.4 553.29,151.7 553.34,167.2 553.39,156.4 553.44,158.1 553.49,164.5 553.54,156.4 553.59,162.2 553.64,156.4 553.69,162.2 553.74,149.1 553.79,141.1 553.84,160.1 553.90,156.4 553.95,156.4 554.00,153.2 554.05,158.1 554.10,170.1 554.15,153.2 554.20,156.4 554.25,164.5 554.30,158.1 554.35,160.1 554.40,154.7 554.45,158.1 554.50,158.1 554.55,156.4 554.60,154.7 554.65,156.4 554.71,149.1 554.76,154.7 554.81,162.2 554.86,144.9 554.91,156.4 554.96,146.0 555.01,164.5 555.06,153.2 555.11,145.0 555.16,147.9 555.21,156.4 555.26,160.1 555.31,160.1 555.36,158.1 555.41,164.5 555.47,162.2 555.52,164.5 555.57,164.5 555.62,154.7 555.67,170.1 555.72,156.4 555.77,151.7 555.82,164.5 555.87,164.5 555.92,156.4 555.97,158.1 556.02,150.4 556.07,170.1 556.12,158.1 556.17,147.9 556.23,156.4 556.28,145.2 556.33,142.3 556.38,162.2 556.43,146.8 556.48,154.7 556.53,158.1 556.58,160.1 556.63,160.1 556.68,164.5 556.73,158.1 556.78,151.7 556.83,149.1 556.88,160.1 556.93,154.7 556.98,154.7 557.04,173.6 557.09,153.2 557.14,167.2 557.19,167.2 557.24,151.7 557.29,146.2 557.34,167.2 557.39,164.5 557.44,164.5 557.49,162.2 557.54,160.1 557.59,164.5 557.64,170.1 557.69,145.8 557.74,162.2 557.80,164.5 557.85,151.7 557.90,160.1 557.95,150.4 558.00,153.2 558.05,151.7 558.10,162.2 558.15,154.7 558.20,170.1 558.25,167.2 558.30,158.1 558.35,160.1 558.40,149.1 558.45,160.1 558.50,170.1 558.56,158.1 558.61,160.1 558.66,158.1 558.71,167.2 558.76,164.5 558.81,158.1 558.86,153.2 558.91,156.4 558.96,153.2 559.01,170.1 559.06,160.1 559.11,158.1 559.16,151.7 559.21,156.4 559.26,160.1 559.32,160.1 559.37,160.1 559.42,170.1 559.47,158.1 559.52,153.2 559.57,154.7 559.62,173.6 559.67,160.1 559.72,170.1 559.77,151.7 559.82,154.7 559.87,154.7 559.92,164.5 559.97,173.6 560.02,167.2 560.07,162.2 560.13,170.1 560.18,167.2 560.23,146.8 560.28,170.1 560.33,156.4 560.38,173.6 560.43,158.1 560.48,153.2 560.53,156.4 560.58,150.4 560.63,146.6 560.68,170.1 560.73,158.1 560.78,156.4 560.83,156.4 560.89,147.9 560.94,158.1 560.99,150.4 561.04,151.7 561.09,158.1 561.14,156.4 561.19,164.5 561.24,158.1 561.29,158.1 561.34,160.1 561.39,162.2 561.44,153.2 561.49,160.1 561.54,143.1 561.59,150.4 561.65,154.7 561.70,164.5 561.75,153.2 561.80,158.1 561.85,160.1 561.90,167.2 561.95,156.4 562.00,158.1 562.05,164.5 562.10,164.5 562.15,162.2 562.20,170.1 562.25,164.5 562.30,150.4 562.35,164.5 562.40,143.0 562.46,170.1 562.51,151.7 562.56,151.7 562.61,151.7 562.66,156.4 562.71,173.6 562.76,151.7 562.81,151.7 562.86,160.1 562.91,177.6 562.96,153.2 563.01,167.2 563.06,162.2 563.11,151.7 563.16,150.4 563.22,158.1 563.27,164.5 563.32,147.9 563.37,151.7 563.42,162.2 563.47,167.2 563.52,158.1 563.57,170.1 563.62,147.9 563.67,156.4 563.72,164.5 563.77,158.1 563.82,173.6 563.87,162.2 563.92,167.2 563.98,173.6 564.03,167.2 564.08,158.1 564.13,173.6 564.18,162.2 564.23,173.6 564.28,160.1 564.33,173.6 564.38,156.4 564.43,156.4 564.48,154.7 564.53,147.9 564.58,160.1 564.63,160.1 564.68,156.4 564.74,164.5 564.79,177.6 564.84,170.1 564.89,170.1 564.94,160.1 564.99,167.2 565.04,164.5 565.09,158.1 565.14,160.1 565.19,146.6 565.24,162.2 565.29,170.1 565.34,151.7 565.39,164.5 565.44,162.2 565.49,154.7 565.55,160.1 565.60,156.4 565.65,167.2 565.70,164.5 565.75,158.1 565.80,167.2 565.85,164.5 565.90,162.2 565.95,150.4 566.00,150.4 566.05,160.1 566.10,162.2 566.15,167.2 566.20,151.7 566.25,158.1 566.31,154.7 566.36,173.6 566.41,156.4 566.46,160.1 566.51,156.4 566.56,154.7 566.61,162.2 566.66,164.5 566.71,156.4 566.76,173.6 566.81,151.7 566.86,160.1 566.91,170.1 566.96,151.7 567.01,154.7 567.07,150.4 567.12,154.7 567.17,158.1 567.22,162.2 567.27,170.1 567.32,156.4 567.37,158.1 567.42,164.5 567.47,158.1 567.52,170.1 567.57,154.7 567.62,162.2 567.67,160.1 567.72,167.2 567.77,154.7 567.83,162.2 567.88,167.2 567.93,160.1 567.98,164.5 568.03,154.7 568.08,173.6 568.13,173.6 568.18,146.6 568.23,167.2 568.28,158.1 568.33,167.2 568.38,162.2 568.43,142.0 568.48,177.6 568.53,158.1 568.58,162.2 568.64,162.2 568.69,170.1 568.74,170.1 568.79,151.7 568.84,160.1 568.89,173.6 568.94,162.2 568.99,173.6 569.04,140.2 569.09,160.1 569.14,177.6 569.19,156.4 569.24,158.1 569.29,160.1 569.34,162.2 569.40,167.2 569.45,164.5 569.50,182.6 569.55,153.2 569.60,147.9 569.65,160.1 569.70,158.1 569.75,173.6 569.80,167.2 569.85,173.6 569.90,173.6 569.95,160.1 570.00,151.7 570.05,164.5 570.10,143.7 570.16,158.1 570.21,182.6 570.26,167.2 570.31,153.2 570.36,162.2 570.41,156.4 570.46,177.6 570.51,153.2 570.56,173.6 570.61,162.2 570.66,146.8 570.71,164.5 570.76,167.2 570.81,158.1 570.86,170.1 570.91,173.6 570.97,156.4 571.02,177.6 571.07,173.6 571.12,150.4 571.17,173.6 571.22,160.1 571.27,156.4 571.32,164.5 571.37,173.6 571.42,158.1 571.47,173.6 571.52,146.8 571.57,146.5 571.62,173.6 571.67,160.1 571.73,170.1 571.78,162.2 571.83,167.2 571.88,173.6 571.93,160.1 571.98,177.6 572.03,162.2 572.08,167.2 572.13,173.6 572.18,158.1 572.23,164.5 572.28,167.2 572.33,167.2 572.38,167.2 572.43,158.1 572.49,167.2 572.54,189.0 572.59,189.0 572.64,173.6 572.69,177.6 572.74,167.2 572.79,177.6 572.84,173.6 572.89,154.7 572.94,177.6 572.99,158.1 573.04,167.2 573.09,154.7 573.14,158.1 573.19,164.5 573.25,156.4 573.30,164.5 573.35,173.6 573.40,162.2 573.45,162.2 573.50,167.2 573.55,164.5 573.60,170.1 573.65,162.2 573.70,167.2 573.75,177.6 573.80,167.2 573.85,151.7 573.90,158.1 573.95,153.2 574.00,167.2 574.06,170.1 574.11,173.6 574.16,164.5 574.21,158.1 574.26,158.1 574.31,160.1 574.36,170.1 574.41,164.5 574.46,173.6 574.51,160.1 574.56,160.1 574.61,170.1 574.66,164.5 574.71,189.0 574.76,160.1 574.82,173.6 574.87,170.1 574.92,162.2 574.97,160.1 575.02,173.6 575.07,153.2 575.12,149.1 575.17,154.7 575.22,154.7 575.27,167.2 575.32,154.7 575.37,173.6 575.42,177.6 575.47,164.5 575.52,164.5 575.58,173.6 575.63,151.7 575.68,177.6 575.73,182.6 575.78,170.1 575.83,153.2 575.88,160.1 575.93,164.5 575.98,167.2 576.03,162.2 576.08,164.5 576.13,167.2 576.18,167.2 576.23,182.6 576.28,158.1 576.33,170.1 576.39,164.5 576.44,162.2 576.49,158.1 576.54,173.6 576.59,160.1 576.64,160.1 576.69,167.2 576.74,167.2 576.79,167.2 576.84,177.6 576.89,170.1 576.94,177.6 576.99,156.4 577.04,173.6 577.09,177.6 577.15,167.2 577.20,162.2 577.25,170.1 577.30,177.6 577.35,164.5 577.40,160.1 577.45,182.6 577.50,160.1 577.55,182.6 577.60,162.2 577.65,173.6 577.70,170.1 577.75,162.2 577.80,154.7 577.85,149.1 577.91,156.4 577.96,162.2 578.01,182.6 578.06,173.6 578.11,167.2 578.16,173.6 578.21,162.2 578.26,170.1 578.31,151.7 578.36,170.1 578.41,177.6 578.46,173.6 578.51,173.6 578.56,162.2 578.61,156.4 578.67,160.1 578.72,160.1 578.77,173.6 578.82,177.6 578.87,177.6 578.92,167.2 578.97,170.1 579.02,167.2 579.07,160.1 579.12,167.2 579.17,153.2 579.22,177.6 579.27,162.2 579.32,170.1 579.37,160.1 579.42,170.1 579.48,173.6 579.53,170.1 579.58,177.6 579.63,177.6 579.68,162.2 579.73,173.6 579.78,158.1 579.83,146.1 579.88,173.6 579.93,160.1 579.98,170.1 580.03,189.0 580.08,170.1 580.13,156.4 580.18,182.6 580.24,170.1 580.29,170.1 580.34,182.6 580.39,167.2 580.44,170.1 580.49,164.5 580.54,170.1 580.59,182.6 580.64,167.2 580.69,164.5 580.74,173.6 580.79,164.5 580.84,164.5 580.89,189.0 580.94,164.5 581.00,189.0 581.05,182.6 581.10,170.1 581.15,177.6 581.20,177.6 581.25,160.1 581.30,182.6 581.35,160.1 581.40,153.2 581.45,158.1 581.50,182.6 581.55,182.6 581.60,170.1 581.65,150.4 581.70,173.6 581.75,177.6 581.81,170.1 581.86,164.5 581.91,160.1 581.96,170.1 582.01,173.6 582.06,167.2 582.11,170.1 582.16,173.6 582.21,189.0 582.26,170.1 582.31,177.6 582.36,173.6 582.41,173.6 582.46,177.6 582.51,164.5 582.57,160.1 582.62,167.2 582.67,177.6 582.72,170.1 582.77,164.5 582.82,173.6 582.87,164.5 582.92,182.6 582.97,173.6 583.02,158.1 583.07,162.2 583.12,173.6 583.17,170.1 583.22,150.4 583.27,160.1 583.33,177.6 583.38,167.2 583.43,173.6 583.48,177.6 583.53,182.6 583.58,164.5 583.63,150.4 583.68,162.2 583.73,182.6 583.78,167.2 583.83,182.6 583.88,170.1 583.93,162.2 583.98,156.4 584.03,170.1 584.09,167.2 584.14,170.1 584.19,173.6 584.24,156.4 584.29,182.6 584.34,189.0 584.39,154.7 584.44,150.4 584.49,189.0 584.54,162.2 584.59,164.5 584.64,173.6 584.69,182.6 584.74,170.1 584.79,173.6 584.84,164.5 584.90,177.6 584.95,160.1 585.00,177.6 585.05,156.4 585.10,162.2 585.15,160.1 585.20,173.6 585.25,173.6 585.30,173.6 585.35,160.1 585.40,177.6 585.45,177.6 585.50,173.6 585.55,167.2 585.60,173.6 585.66,173.6 585.71,182.6 585.76,177.6 585.81,182.6 585.86,162.2 585.91,173.6 585.96,164.5 586.01,182.6 586.06,173.6 586.11,167.2 586.16,182.6 586.21,177.6 586.26,177.6 586.31,170.1 586.36,170.1 586.42,189.0 586.47,170.1 586.52,170.1 586.57,170.1 586.62,182.6 586.67,173.6 586.72,160.1 586.77,162.2 586.82,177.6 586.87,156.4 586.92,177.6 586.97,182.6 587.02,162.2 587.07,170.1 587.12,150.4 587.17,173.6 587.23,170.1 587.28,164.5 587.33,170.1 587.38,177.6 587.43,173.6 587.48,173.6 587.53,173.6 587.58,173.6 587.63,189.0 587.68,164.5 587.73,177.6 587.78,173.6 587.83,182.6 587.88,173.6 587.93,164.5 587.99,160.1 588.04,170.1 588.09,170.1 588.14,177.6 588.19,177.6 588.24,170.1 588.29,173.6 588.34,182.6 588.39,173.6 588.44,182.6 588.49,153.2 588.54,170.1 588.59,177.6 588.64,170.1 588.69,182.6 588.75,177.6 588.80,158.1 588.85,160.1 588.90,182.6 588.95,182.6 589.00,177.6 589.05,150.4 589.10,173.6 589.15,170.1 589.20,177.6 589.25,160.1 589.30,164.5 589.35,189.0 589.40,182.6 589.45,189.0 589.51,182.6 589.56,182.6 589.61,189.0 589.66,182.6 589.71,167.2 589.76,162.2 589.81,173.6 589.86,167.2 589.91,189.0 589.96,158.1 590.01,150.4 590.06,173.6 590.11,167.2 590.16,170.1 590.21,198.0 590.26,164.5 590.32,170.1 590.37,189.0 590.42,177.6 590.47,162.2 590.52,167.2 590.57,189.0 590.62,177.6 590.67,182.6 590.72,173.6 590.77,182.6 590.82,173.6 590.87,177.6 590.92,189.0 590.97,170.1 591.02,170.1 591.08,182.6 591.13,167.2 591.18,151.7 591.23,189.0 591.28,173.6 591.33,167.2 591.38,173.6 591.43,182.6 591.48,151.7 591.53,177.6 591.58,177.6 591.63,182.6 591.68,162.2 591.73,198.0 591.78,182.6 591.84,177.6 591.89,170.1 591.94,170.1 591.99,164.5 592.04,177.6 592.09,182.6 592.14,173.6 592.19,182.6 592.24,182.6 592.29,177.6 592.34,170.1 592.39,167.2 592.44,189.0 592.49,182.6 592.54,173.6 592.60,173.6 592.65,177.6 592.70,170.1 592.75,177.6 592.80,198.0 592.85,162.2 592.90,189.0 592.95,158.1 593.00,173.6 593.05,173.6 593.10,189.0 593.15,173.6 593.20,177.6 593.25,182.6 593.30,170.1 593.35,167.2 593.41,162.2 593.46,189.0 593.51,182.6 593.56,160.1 593.61,170.1 593.66,167.2 593.71,182.6 593.76,170.1 593.81,167.2 593.86,189.0 593.91,182.6 593.96,173.6 594.01,162.2 594.06,177.6 594.11,167.2 594.17,182.6 594.22,189.0 594.27,170.1 594.32,189.0 594.37,173.6 594.42,182.6 594.47,170.1 594.52,189.0 594.57,189.0 594.62,189.0 594.67,177.6 594.72,162.2 594.77,167.2 594.82,173.6 594.87,177.6 594.93,162.2 594.98,177.6 595.03,164.5 595.08,162.2 595.13,170.1 595.18,173.6 595.23,173.6 595.28,177.6 595.33,173.6 595.38,182.6 595.43,182.6 595.48,160.1 595.53,177.6 595.58,198.0 595.63,162.2 595.68,162.2 595.74,170.1 595.79,189.0 595.84,156.4 595.89,164.5 595.94,164.5 595.99,177.6 596.04,173.6 596.09,177.6 596.14,177.6 596.19,189.0 596.24,182.6 596.29,182.6 596.34,177.6 596.39,167.2 596.44,170.1 596.50,198.0 596.55,164.5 596.60,189.0 596.65,170.1 596.70,177.6 596.75,177.6 596.80,182.6 596.85,189.0 596.90,160.1 596.95,198.0 597.00,189.0 597.05,162.2 597.10,177.6 597.15,177.6 597.20,189.0 597.26,189.0 597.31,170.1 597.36,177.6 597.41,173.6 597.46,170.1 597.51,198.0 597.56,189.0 597.61,182.6 597.66,173.6 597.71,170.1 597.76,189.0 597.81,177.6 597.86,177.6 597.91,177.6 597.96,160.1 598.02,182.6 598.07,177.6 598.12,198.0 598.17,177.6 598.22,177.6 598.27,170.1 598.32,182.6 598.37,182.6 598.42,189.0 598.47,182.6 598.52,151.7 598.57,198.0 598.62,198.0 598.67,177.6 598.72,189.0 598.77,164.5 598.83,198.0 598.88,160.1 598.93,182.6 598.98,198.0 599.03,173.6 599.08,170.1 599.13,158.1 599.18,177.6 599.23,162.2 599.28,173.6 599.33,162.2 599.38,164.5 599.43,164.5 599.48,173.6 599.53,170.1 599.59,177.6 599.64,167.2 599.69,162.2 599.74,164.5 599.79,170.1 599.84,164.5 599.89,162.2 599.94,154.7 599.99,162.2 600.04,173.6 600.09,162.2 600.14,189.0 600.19,170.1 600.24,164.5 600.29,164.5 600.35,182.6 600.40,167.2 600.45,173.6 600.50,158.1 600.55,173.6 600.60,158.1 600.65,164.5 600.70,160.1 600.75,177.6 600.80,167.2 600.85,173.6 600.90,177.6 600.95,173.6 601.00,170.1 601.05,158.1 601.10,177.6 601.16,170.1 601.21,189.0 601.26,170.1 601.31,173.6 601.36,162.2 601.41,173.6 601.46,170.1 601.51,160.1 601.56,167.2 601.61,156.4 601.66,164.5 601.71,170.1 601.76,173.6 601.81,167.2 601.86,170.1 601.92,170.1 601.97,170.1 602.02,173.6 602.07,173.6 602.12,170.1 602.17,164.5 602.22,162.2 602.27,167.2 602.32,164.5 602.37,167.2 602.42,182.6 602.47,156.4 602.52,182.6 602.57,158.1 602.62,167.2 602.68,170.1 602.73,160.1 602.78,170.1 602.83,164.5 602.88,173.6 602.93,177.6 602.98,182.6 603.03,173.6 603.08,158.1 603.13,164.5 603.18,167.2 603.23,182.6 603.28,177.6 603.33,170.1 603.38,167.2 603.44,182.6 603.49,177.6 603.54,167.2 603.59,160.1 603.64,158.1 603.69,170.1 603.74,158.1 603.79,173.6 603.84,164.5 603.89,173.6 603.94,173.6 603.99,167.2 604.04,162.2 604.09,167.2 604.14,177.6 604.19,164.5 604.25,164.5 604.30,173.6 604.35,177.6 604.40,182.6 604.45,182.6 604.50,173.6 604.55,154.7 604.60,173.6 604.65,173.6 604.70,177.6 604.75,164.5 604.80,182.6 604.85,164.5 604.90,167.2 604.95,162.2 605.01,182.6 605.06,164.5 605.11,170.1 605.16,170.1 605.21,177.6 605.26,167.2 605.31,170.1 605.36,167.2 605.41,173.6 605.46,154.7 605.51,156.4 605.56,162.2 605.61,182.6 605.66,189.0 605.71,198.0 605.77,160.1 605.82,167.2 605.87,160.1 605.92,173.6 605.97,158.1 606.02,170.1 606.07,177.6 606.12,170.1 606.17,170.1 606.22,162.2 606.27,189.0 606.32,173.6 606.37,173.6 606.42,182.6 606.47,170.1 606.52,156.4 606.58,158.1 606.63,167.2 606.68,170.1 606.73,162.2 606.78,182.6 606.83,170.1 606.88,173.6 606.93,173.6 606.98,177.6 607.03,189.0 607.08,189.0 607.13,170.1 607.18,160.1 607.23,189.0 607.28,170.1 607.34,177.6 607.39,156.4 607.44,158.1 607.49,177.6 607.54,170.1 607.59,177.6 607.64,162.2 607.69,167.2 607.74,177.6 607.79,173.6 607.84,189.0 607.89,173.6 607.94,170.1 607.99,173.6 608.04,170.1 608.10,158.1 608.15,170.1 608.20,158.1 608.25,173.6 608.30,167.2 608.35,182.6 608.40,167.2 608.45,170.1 608.50,173.6 608.55,164.5 608.60,156.4 608.65,173.6 608.70,164.5 608.75,173.6 608.80,173.6 608.86,177.6 608.91,164.5 608.96,170.1 609.01,182.6 609.06,173.6 609.11,170.1 609.16,173.6 609.21,167.2 609.26,164.5 609.31,160.1 609.36,162.2 609.41,170.1 609.46,198.0 609.51,167.2 609.56,170.1 609.61,177.6 609.67,158.1 609.72,164.5 609.77,167.2 609.82,158.1 609.87,164.5 609.92,162.2 609.97,170.1 610.02,173.6 610.07,177.6 610.12,173.6 610.17,170.1 610.22,164.5 610.27,198.0 610.32,177.6 610.37,167.2 610.43,160.1 610.48,170.1 610.53,167.2 610.58,160.1 610.63,198.0 610.68,164.5 610.73,167.2 610.78,162.2 610.83,177.6 610.88,173.6 610.93,164.5 610.98,164.5 611.03,173.6 611.08,162.2 611.13,170.1 611.19,160.1 611.24,167.2 611.29,173.6 611.34,173.6 611.39,158.1 611.44,170.1 611.49,182.6 611.54,170.1 611.59,158.1 611.64,162.2 611.69,164.5 611.74,167.2 611.79,198.0 611.84,167.2 611.89,160.1 611.94,162.2 612.00,167.2 612.05,177.6 612.10,167.2 612.15,189.0 612.20,173.6 612.25,167.2 612.30,173.6 612.35,164.5 612.40,173.6 612.45,167.2 612.50,170.1 612.55,189.0 612.60,177.6 612.65,164.5 612.70,167.2 612.76,189.0 612.81,173.6 612.86,173.6 612.91,173.6 612.96,177.6 613.01,177.6 613.06,177.6 613.11,164.5 613.16,170.1 613.21,170.1 613.26,173.6 613.31,167.2 613.36,189.0 613.41,167.2 613.46,182.6 613.52,170.1 613.57,158.1 613.62,160.1 613.67,170.1 613.72,189.0 613.77,164.5 613.82,170.1 613.87,164.5 613.92,182.6 613.97,173.6 614.02,164.5 614.07,177.6 614.12,182.6 614.17,173.6 614.22,173.6 614.28,189.0 614.33,173.6 614.38,170.1 614.43,156.4 614.48,170.1 614.53,177.6 614.58,177.6 614.63,167.2 614.68,170.1 614.73,164.5 614.78,173.6 614.83,162.2 614.88,173.6 614.93,173.6 614.98,182.6 615.03,182.6 615.09,177.6 615.14,189.0 615.19,182.6 615.24,164.5 615.29,189.0 615.34,177.6 615.39,170.1 615.44,189.0 615.49,177.6 615.54,164.5 615.59,170.1 615.64,170.1 615.69,156.4 615.74,162.2 615.79,189.0 615.85,177.6 615.90,189.0 615.95,182.6 616.00,170.1 616.05,173.6 616.10,182.6 616.15,182.6 616.20,162.2 616.25,189.0 616.30,164.5 616.35,156.4 616.40,162.2 616.45,173.6 616.50,173.6 616.55,164.5 616.61,213.4 616.66,173.6 616.71,189.0 616.76,177.6 616.81,189.0 616.86,153.2 616.91,173.6 616.96,167.2 617.01,160.1 617.06,182.6 617.11,160.1 617.16,173.6 617.21,158.1 617.26,189.0 617.31,160.1 617.37,170.1 617.42,164.5 617.47,182.6 617.52,167.2 617.57,177.6 617.62,170.1 617.67,173.6 617.72,177.6 617.77,173.6 617.82,164.5 617.87,177.6 617.92,164.5 617.97,189.0 618.02,170.1 618.07,170.1 618.12,170.1 618.18,158.1 618.23,158.1 618.28,198.0 618.33,167.2 618.38,164.5 618.43,173.6 618.48,170.1 618.53,177.6 618.58,198.0 618.63,170.1 618.68,170.1 618.73,167.2 618.78,189.0 618.83,177.6 618.88,170.1 618.94,182.6 618.99,164.5 619.04,173.6 619.09,170.1 619.14,167.2 619.19,177.6 619.24,158.1 619.29,167.2 619.34,177.6 619.39,182.6 619.44,170.1 619.49,189.0 619.54,167.2 619.59,173.6 619.64,167.2 619.70,167.2 619.75,189.0 619.80,198.0 619.85,160.1 619.90,167.2 619.95,164.5 620.00,162.2 620.05,164.5 620.10,182.6 620.15,177.6 620.20,177.6 620.25,167.2 620.30,160.1 620.35,213.4 620.40,177.6 620.45,173.6 620.51,170.1 620.56,167.2 620.61,177.6 620.66,177.6 620.71,173.6 620.76,167.2 620.81,173.6 620.86,167.2 620.91,164.5 620.96,170.1 621.01,160.1 621.06,198.0 621.11,177.6 621.16,167.2 621.21,177.6 621.27,198.0 621.32,167.2 621.37,164.5 621.42,189.0 621.47,182.6 621.52,167.2 621.57,160.1 621.62,189.0 621.67,167.2 621.72,167.2 621.77,173.6 621.82,170.1 621.87,182.6 621.92,182.6 621.97,173.6 622.03,173.6 622.08,173.6 622.13,167.2 622.18,189.0 622.23,189.0 622.28,189.0 622.33,198.0 622.38,170.1 622.43,182.6 622.48,170.1 622.53,173.6 622.58,164.5 622.63,164.5 622.68,167.2 622.73,164.5 622.79,182.6 622.84,167.2 622.89,170.1 622.94,182.6 622.99,182.6 623.04,164.5 623.09,173.6 623.14,177.6 623.19,162.2 623.24,198.0 623.29,170.1 623.34,177.6 623.39,170.1 623.44,173.6 623.49,167.2 623.54,189.0 623.60,173.6 623.65,162.2 623.70,164.5 623.75,167.2 623.80,177.6 623.85,182.6 623.90,177.6 623.95,173.6 624.00,177.6 624.05,182.6 624.10,164.5 624.15,167.2 624.20,170.1 624.25,198.0 624.30,164.5 624.36,162.2 624.41,177.6 624.46,162.2 624.51,182.6 624.56,182.6 624.61,177.6 624.66,177.6 624.71,173.6 624.76,160.1 624.81,182.6 624.86,177.6 624.91,189.0 624.96,170.1 625.01,170.1 625.06,167.2 625.12,173.6 625.17,173.6 625.22,170.1 625.27,162.2 625.32,182.6 625.37,167.2 625.42,164.5 625.47,198.0 625.52,182.6 625.57,182.6 625.62,173.6 625.67,164.5 625.72,177.6 625.77,167.2 625.82,158.1 625.87,173.6 625.93,177.6 625.98,173.6 626.03,164.5 626.08,189.0 626.13,160.1 626.18,167.2 626.23,170.1 626.28,173.6 626.33,173.6 626.38,162.2 626.43,198.0 626.48,170.1 626.53,213.4 626.58,167.2 626.63,160.1 626.69,173.6 626.74,167.2 626.79,164.5 626.84,173.6 626.89,198.0 626.94,167.2 626.99,177.6 627.04,173.6 627.09,170.1 627.14,173.6 627.19,167.2 627.24,173.6 627.29,170.1 627.34,170.1 627.39,170.1 627.45,167.2 627.50,164.5 627.55,164.5 627.60,177.6 627.65,160.1 627.70,167.2 627.75,164.5 627.80,182.6 627.85,170.1 627.90,182.6 627.95,164.5 628.00,173.6 628.05,177.6 628.10,177.6 628.15,189.0 628.21,177.6 628.26,167.2 628.31,177.6 628.36,167.2 628.41,173.6 628.46,164.5 628.51,182.6 628.56,189.0 628.61,198.0 628.66,177.6 628.71,167.2 628.76,162.2 628.81,173.6 628.86,177.6 628.91,182.6 628.96,170.1 629.02,177.6 629.07,162.2 629.12,198.0 629.17,167.2 629.22,177.6 629.27,182.6 629.32,160.1 629.37,164.5 629.42,167.2 629.47,170.1 629.52,170.1 629.57,167.2 629.62,177.6 629.67,173.6 629.72,240.2 629.78,189.0 629.83,177.6 629.88,189.0 629.93,177.6 629.98,198.0 630.03,177.6 630.08,189.0 630.13,173.6 630.18,182.6 630.23,182.6 630.28,198.0 630.33,177.6 630.38,177.6 630.43,173.6 630.48,182.6 630.54,170.1 630.59,177.6 630.64,170.1 630.69,170.1 630.74,173.6 630.79,173.6 630.84,170.1 630.89,177.6 630.94,170.1 630.99,170.1 631.04,164.5 631.09,177.6 631.14,167.2 631.19,182.6 631.24,198.0 631.29,173.6 631.35,170.1 631.40,173.6 631.45,177.6 631.50,164.5 631.55,158.1 631.60,170.1 631.65,162.2 631.70,177.6 631.75,170.1 631.80,173.6 631.85,189.0 631.90,173.6 631.95,173.6 632.00,173.6 632.05,173.6 632.11,182.6 632.16,160.1 632.21,177.6 632.26,173.6 632.31,177.6 632.36,177.6 632.41,167.2 632.46,177.6 632.51,182.6 632.56,189.0 632.61,182.6 632.66,173.6 632.71,189.0 632.76,173.6 632.81,177.6 632.87,198.0 632.92,177.6 632.97,182.6 633.02,198.0 633.07,177.6 633.12,177.6 633.17,167.2 633.22,189.0 633.27,173.6 633.32,177.6 633.37,167.2 633.42,173.6 633.47,167.2 633.52,162.2 633.57,182.6 633.63,170.1 633.68,164.5 633.73,167.2 633.78,167.2 633.83,189.0 633.88,177.6 633.93,160.1 633.98,167.2 634.03,182.6 634.08,189.0 634.13,170.1 634.18,167.2 634.23,170.1 634.28,189.0 634.33,167.2 634.38,162.2 634.44,213.4 634.49,173.6 634.54,173.6 634.59,240.2 634.64,177.6 634.69,173.6 634.74,198.0 634.79,177.6 634.84,177.6 634.89,177.6 634.94,189.0 634.99,189.0 635.04,160.1 635.09,173.6 635.14,182.6 635.20,173.6 635.25,177.6 635.30,189.0 635.35,189.0 635.40,189.0 635.45,177.6 635.50,182.6 635.55,167.2 635.60,173.6 635.65,177.6 635.70,177.6 635.75,177.6 635.80,167.2 635.85,177.6 635.90,170.1 635.96,177.6 636.01,182.6 636.06,177.6 636.11,198.0 636.16,182.6 636.21,182.6 636.26,189.0 636.31,177.6 636.36,182.6 636.41,177.6 636.46,177.6 636.51,182.6 636.56,160.1 636.61,189.0 636.66,177.6 636.71,182.6 636.77,182.6 636.82,170.1 636.87,177.6 636.92,189.0 636.97,177.6 637.02,240.2 637.07,173.6 637.12,182.6 637.17,182.6 637.22,189.0 637.27,173.6 637.32,177.6 637.37,182.6 637.42,177.6 637.47,240.2 637.53,182.6 637.58,177.6 637.63,189.0 637.68,177.6 637.73,189.0 637.78,177.6 637.83,182.6 637.88,173.6 637.93,170.1 637.98,173.6 638.03,173.6 638.08,177.6 638.13,167.2 638.18,167.2 638.23,189.0 638.29,170.1 638.34,189.0 638.39,162.2 638.44,170.1 638.49,177.6 638.54,177.6 638.59,167.2 638.64,164.5 638.69,177.6 638.74,182.6 638.79,189.0 638.84,173.6 638.89,189.0 638.94,198.0 638.99,177.6 639.05,164.5 639.10,182.6 639.15,177.6 639.20,177.6 639.25,170.1 639.30,177.6 639.35,182.6 639.40,177.6 639.45,173.6 639.50,173.6 639.55,173.6 639.60,170.1 639.65,170.1 639.70,182.6 639.75,189.0 639.80,213.4 639.86,213.4 639.91,198.0 639.96,170.1 640.01,182.6 640.06,170.1 640.11,189.0 640.16,177.6 640.21,167.2 640.26,177.6 640.31,177.6 640.36,189.0 640.41,177.6 640.46,162.2 640.51,189.0 640.56,170.1 640.62,182.6 640.67,182.6 640.72,177.6 640.77,167.2 640.82,198.0 640.87,182.6 640.92,177.6 640.97,213.4 641.02,213.4 641.07,182.6 641.12,170.1 641.17,182.6 641.22,164.5 641.27,177.6 641.32,189.0 641.38,182.6 641.43,182.6 641.48,170.1 641.53,167.2 641.58,182.6 641.63,173.6 641.68,170.1 641.73,182.6 641.78,167.2 641.83,173.6 641.88,213.4 641.93,177.6 641.98,182.6 642.03,177.6 642.08,189.0 642.14,170.1 642.19,182.6 642.24,189.0 642.29,177.6 642.34,170.1 642.39,198.0 642.44,182.6 642.49,198.0 642.54,182.6 642.59,198.0 642.64,182.6 642.69,167.2 642.74,173.6 642.79,182.6 642.84,170.1 642.89,173.6 642.95,182.6 643.00,189.0 643.05,182.6 643.10,156.4 643.15,177.6 643.20,182.6 643.25,173.6 643.30,173.6 643.35,189.0 643.40,213.4 643.45,173.6 643.50,167.2 643.55,164.5 643.60,213.4 643.65,182.6 643.71,189.0 643.76,173.6 643.81,177.6 643.86,182.6 643.91,182.6 643.96,173.6 644.01,167.2 644.06,182.6 644.11,173.6 644.16,173.6 644.21,173.6 644.26,173.6 644.31,162.2 644.36,189.0 644.41,189.0 644.47,177.6 644.52,182.6 644.57,198.0 644.62,189.0 644.67,182.6 644.72,189.0 644.77,189.0 644.82,198.0 644.87,173.6 644.92,162.2 644.97,164.5 645.02,173.6 645.07,182.6 645.12,173.6 645.17,182.6 645.22,173.6 645.28,182.6 645.33,182.6 645.38,170.1 645.43,173.6 645.48,189.0 645.53,173.6 645.58,189.0 645.63,170.1 645.68,173.6 645.73,189.0 645.78,173.6 645.83,173.6 645.88,173.6 645.93,198.0 645.98,189.0 646.04,189.0 646.09,213.4 646.14,160.1 646.19,182.6 646.24,213.4 646.29,182.6 646.34,177.6 646.39,189.0 646.44,177.6 646.49,198.0 646.54,182.6 646.59,182.6 646.64,162.2 646.69,198.0 646.74,189.0 646.80,170.1 646.85,167.2 646.90,167.2 646.95,189.0 647.00,189.0 647.05,167.2 647.10,177.6 647.15,198.0 647.20,182.6 647.25,177.6 647.30,173.6 647.35,182.6 647.40,170.1 647.45,170.1 647.50,170.1 647.56,182.6 647.61,160.1 647.66,182.6 647.71,177.6 647.76,173.6 647.81,189.0 647.86,170.1 647.91,173.6 647.96,177.6 648.01,198.0 648.06,182.6 648.11,164.5 648.16,173.6 648.21,182.6 648.26,170.1 648.31,170.1 648.37,182.6 648.42,177.6 648.47,173.6 648.52,177.6 648.57,189.0 648.62,189.0 648.67,173.6 648.72,177.6 648.77,170.1 648.82,198.0 648.87,182.6 648.92,173.6 648.97,167.2 649.02,189.0 649.07,189.0 649.13,164.5 649.18,173.6 649.23,189.0 649.28,182.6 649.33,189.0 649.38,177.6 649.43,173.6 649.48,189.0 649.53,177.6 649.58,177.6 649.63,213.4 649.68,173.6 649.73,189.0 649.78,173.6 649.83,198.0 649.89,173.6 649.94,182.6 649.99,189.0 650.04,177.6 650.09,177.6 650.14,173.6 650.19,189.0 650.24,167.2 650.29,198.0 650.34,189.0 650.39,189.0 650.44,182.6 650.49,177.6 650.54,182.6 650.59,177.6 650.64,182.6 650.70,182.6 650.75,213.4 650.80,173.6 650.85,189.0 650.90,213.4 650.95,170.1 651.00,189.0 651.05,177.6 651.10,170.1 651.15,164.5 651.20,240.2 651.25,189.0 651.30,173.6 651.35,198.0 651.40,177.6 651.46,173.6 651.51,182.6 651.56,182.6 651.61,198.0 651.66,189.0 651.71,182.6 651.76,198.0 651.81,189.0 651.86,173.6 651.91,198.0 651.96,170.1 652.01,177.6 652.06,177.6 652.11,189.0 652.16,177.6 652.22,198.0 652.27,177.6 652.32,177.6 652.37,240.2 652.42,189.0 652.47,189.0 652.52,177.6 652.57,177.6 652.62,182.6 652.67,177.6 652.72,177.6 652.77,182.6 652.82,213.4 652.87,173.6 652.92,177.6 652.98,198.0 653.03,173.6 653.08,177.6 653.13,170.1 653.18,173.6 653.23,182.6 653.28,182.6 653.33,189.0 653.38,177.6 653.43,156.4 653.48,170.1 653.53,182.6 653.58,173.6 653.63,182.6 653.68,170.1 653.73,167.2 653.79,177.6 653.84,177.6 653.89,182.6 653.94,182.6 653.99,173.6 654.04,164.5 654.09,182.6 654.14,182.6 654.19,213.4 654.24,177.6 654.29,177.6 654.34,198.0 654.39,182.6 654.44,177.6 654.49,177.6 654.55,189.0 654.60,189.0 654.65,167.2 654.70,189.0 654.75,170.1 654.80,170.1 654.85,189.0 654.90,173.6 654.95,164.5 655.00,182.6 655.05,189.0 655.10,173.6 655.15,198.0 655.20,167.2 655.25,213.4 655.31,167.2 655.36,177.6 655.41,173.6 655.46,177.6 655.51,198.0 655.56,198.0 655.61,189.0 655.66,189.0 655.71,189.0 655.76,189.0 655.81,182.6 655.86,177.6 655.91,164.5 655.96,198.0 656.01,173.6 656.06,177.6 656.12,170.1 656.17,167.2 656.22,173.6 656.27,189.0 656.32,167.2 656.37,182.6 656.42,167.2 656.47,182.6 656.52,177.6 656.57,189.0 656.62,182.6 656.67,198.0 656.72,198.0 656.77,189.0 656.82,182.6 656.88,182.6 656.93,173.6 656.98,173.6 657.03,167.2 657.08,189.0 657.13,173.6 657.18,170.1 657.23,189.0 657.28,182.6 657.33,189.0 657.38,198.0 657.43,198.0 657.48,173.6 657.53,198.0 657.58,173.6 657.64,173.6 657.69,173.6 657.74,198.0 657.79,213.4 657.84,162.2 657.89,189.0 657.94,182.6 657.99,189.0 658.04,182.6 658.09,198.0 658.14,189.0 658.19,167.2 658.24,182.6 658.29,213.4 658.34,189.0 658.40,189.0 658.45,177.6 658.50,164.5 658.55,182.6 658.60,182.6 658.65,182.6 658.70,164.5 658.75,173.6 658.80,189.0 658.85,182.6 658.90,170.1 658.95,167.2 659.00,198.0 659.05,189.0 659.10,173.6 659.15,173.6 659.21,182.6 659.26,170.1 659.31,182.6 659.36,182.6 659.41,198.0 659.46,189.0 659.51,177.6 659.56,189.0 659.61,167.2 659.66,164.5 659.71,173.6 659.76,198.0 659.81,240.2 659.86,182.6 659.91,170.1 659.97,173.6 660.02,198.0 660.07,182.6 660.12,189.0 660.17,198.0 660.22,170.1 660.27,173.6 660.32,213.4 660.37,164.5 660.42,177.6 660.47,182.6 660.52,189.0 660.57,213.4 660.62,167.2 660.67,213.4 660.73,170.1 660.78,173.6 660.83,189.0 660.88,170.1 660.93,189.0 660.98,170.1 661.03,182.6 661.08,198.0 661.13,170.1 661.18,173.6 661.23,189.0 661.28,182.6 661.33,213.4 661.38,170.1 661.43,198.0 661.48,182.6 661.54,213.4 661.59,177.6 661.64,182.6 661.69,177.6 661.74,189.0 661.79,177.6 661.84,167.2 661.89,164.5 661.94,177.6 661.99,198.0 662.04,173.6 662.09,177.6 662.14,173.6 662.19,177.6 662.24,173.6 662.30,182.6 662.35,189.0 662.40,173.6 662.45,173.6 662.50,177.6 662.55,160.1 662.60,198.0 662.65,164.5 662.70,182.6 662.75,198.0 662.80,182.6 662.85,198.0 662.90,189.0 662.95,198.0 663.00,182.6 663.06,177.6 663.11,213.4 663.16,162.2 663.21,177.6 663.26,182.6 663.31,198.0 663.36,170.1 663.41,177.6 663.46,177.6 663.51,198.0 663.56,182.6 663.61,164.5 663.66,182.6 663.71,213.4 663.76,170.1 663.82,182.6 663.87,162.2 663.92,240.2 663.97,189.0 664.02,167.2 664.07,198.0 664.12,182.6 664.17,213.4 664.22,189.0 664.27,177.6 664.32,189.0 664.37,167.2 664.42,167.2 664.47,177.6 664.52,173.6 664.57,182.6 664.63,170.1 664.68,213.4 664.73,177.6 664.78,177.6 664.83,177.6 664.88,189.0 664.93,173.6 664.98,182.6 665.03,182.6 665.08,182.6 665.13,182.6 665.18,189.0 665.23,182.6 665.28,189.0 665.33,177.6 665.39,182.6 665.44,173.6 665.49,189.0 665.54,164.5 665.59,182.6 665.64,177.6 665.69,189.0 665.74,167.2 665.79,189.0 665.84,198.0 665.89,170.1 665.94,198.0 665.99,177.6 666.04,177.6 666.09,182.6 666.15,213.4 666.20,182.6 666.25,189.0 666.30,170.1 666.35,173.6 666.40,167.2 666.45,189.0 666.50,198.0 666.55,164.5 666.60,170.1 666.65,173.6 666.70,189.0 666.75,170.1 666.80,182.6 666.85,240.2 666.91,177.6 666.96,189.0 667.01,173.6 667.06,177.6 667.11,182.6 667.16,198.0 667.21,182.6 667.26,177.6 667.31,173.6 667.36,189.0 667.41,189.0 667.46,213.4 667.51,189.0 667.56,182.6 667.61,182.6 667.66,170.1 667.72,173.6 667.77,189.0 667.82,170.1 667.87,182.6 667.92,170.1 667.97,173.6 668.02,182.6 668.07,182.6 668.12,182.6 668.17,213.4 668.22,182.6 668.27,198.0 668.32,173.6 668.37,164.5 668.42,182.6 668.48,189.0 668.53,173.6 668.58,198.0 668.63,182.6 668.68,177.6 668.73,198.0 668.78,189.0 668.83,167.2 668.88,240.2 668.93,213.4 668.98,173.6 669.03,182.6 669.08,182.6 669.13,198.0 669.18,198.0 669.24,170.1 669.29,177.6 669.34,213.4 669.39,189.0 669.44,198.0 669.49,177.6 669.54,173.6 669.59,182.6 669.64,182.6 669.69,177.6 669.74,189.0 669.79,156.4 669.84,177.6 669.89,170.1 669.94,182.6 669.99,173.6 670.05,189.0 670.10,213.4 670.15,177.6 670.20,177.6 670.25,182.6 670.30,182.6 670.35,170.1 670.40,173.6 670.45,182.6 670.50,173.6 670.55,173.6 670.60,173.6 670.65,173.6 670.70,198.0 670.75,213.4 670.81,189.0 670.86,182.6 670.91,177.6 670.96,177.6 671.01,189.0 671.06,189.0 671.11,164.5 671.16,198.0 671.21,177.6 671.26,240.2 671.31,198.0 671.36,182.6 671.41,189.0 671.46,182.6 671.51,189.0 671.57,177.6 671.62,182.6 671.67,213.4 671.72,177.6 671.77,182.6 671.82,198.0 671.87,213.4 671.92,189.0 671.97,177.6 672.02,177.6 672.07,182.6 672.12,189.0 672.17,189.0 672.22,182.6 672.27,182.6 672.33,177.6 672.38,213.4 672.43,198.0 672.48,213.4 672.53,173.6 672.58,177.6 672.63,189.0 672.68,189.0 672.73,189.0 672.78,173.6 672.83,189.0 672.88,164.5 672.93,177.6 672.98,182.6 673.03,182.6 673.08,189.0 673.14,167.2 673.19,173.6 673.24,182.6 673.29,189.0 673.34,173.6 673.39,170.1 673.44,182.6 673.49,189.0 673.54,198.0 673.59,182.6 673.64,182.6 673.69,170.1 673.74,189.0 673.79,198.0 673.84,189.0 673.90,177.6 673.95,182.6 674.00,198.0 674.05,182.6 674.10,177.6 674.15,189.0 674.20,162.2 674.25,198.0 674.30,182.6 674.35,177.6 674.40,177.6 674.45,198.0 674.50,198.0 674.55,182.6 674.60,198.0 674.66,162.2 674.71,182.6 674.76,170.1 674.81,198.0 674.86,177.6 674.91,182.6 674.96,189.0 675.01,173.6 675.06,177.6 675.11,189.0 675.16,182.6 675.21,182.6 675.26,189.0 675.31,173.6 675.36,170.1 675.41,182.6 675.47,182.6 675.52,170.1 675.57,198.0 675.62,198.0 675.67,177.6 675.72,182.6 675.77,213.4 675.82,189.0 675.87,177.6 675.92,177.6 675.97,170.1 676.02,164.5 676.07,177.6 676.12,177.6 676.17,177.6 676.23,177.6 676.28,182.6 676.33,170.1 676.38,198.0 676.43,167.2 676.48,182.6 676.53,198.0 676.58,189.0 676.63,189.0 676.68,177.6 676.73,177.6 676.78,182.6 676.83,189.0 676.88,162.2 676.93,189.0 676.99,213.4 677.04,198.0 677.09,182.6 677.14,167.2 677.19,177.6 677.24,173.6 677.29,182.6 677.34,177.6 677.39,177.6 677.44,189.0 677.49,189.0 677.54,170.1 677.59,198.0 677.64,182.6 677.69,177.6 677.75,177.6 677.80,173.6 677.85,198.0 677.90,198.0 677.95,182.6 678.00,189.0 678.05,170.1 678.10,198.0 678.15,189.0 678.20,213.4 678.25,182.6 678.30,170.1 678.35,177.6 678.40,182.6 678.45,173.6 678.50,213.4 678.56,182.6 678.61,177.6 678.66,213.4 678.71,198.0 678.76,182.6 678.81,173.6 678.86,173.6 678.91,182.6 678.96,162.2 679.01,173.6 679.06,177.6 679.11,182.6 679.16,198.0 679.21,177.6 679.26,182.6 679.32,189.0 679.37,189.0 679.42,198.0 679.47,177.6 679.52,167.2 679.57,189.0 679.62,189.0 679.67,189.0 679.72,182.6 679.77,198.0 679.82,173.6 679.87,182.6 679.92,189.0 679.97,177.6 680.02,198.0 680.08,177.6 680.13,189.0 680.18,182.6 680.23,182.6 680.28,182.6 680.33,173.6 680.38,167.2 680.43,177.6 680.48,198.0 680.53,213.4 680.58,173.6 680.63,189.0 680.68,189.0 680.73,189.0 680.78,182.6 680.83,213.4 680.89,213.4 680.94,189.0 680.99,213.4 681.04,173.6 681.09,198.0 681.14,189.0 681.19,177.6 681.24,177.6 681.29,177.6 681.34,156.4 681.39,170.1 681.44,182.6 681.49,182.6 681.54,213.4 681.59,182.6 681.65,189.0 681.70,198.0 681.75,182.6 681.80,167.2 681.85,189.0 681.90,198.0 681.95,182.6 682.00,189.0 682.05,182.6 682.10,182.6 682.15,198.0 682.20,198.0 682.25,177.6 682.30,189.0 682.35,189.0 682.41,160.1 682.46,198.0 682.51,177.6 682.56,177.6 682.61,189.0 682.66,182.6 682.71,189.0 682.76,170.1 682.81,198.0 682.86,177.6 682.91,182.6 682.96,182.6 683.01,189.0 683.06,182.6 683.11,173.6 683.17,198.0 683.22,177.6 683.27,189.0 683.32,182.6 683.37,177.6 683.42,182.6 683.47,198.0 683.52,177.6 683.57,170.1 683.62,198.0 683.67,182.6 683.72,189.0 683.77,189.0 683.82,189.0 683.87,213.4 683.92,213.4 683.98,182.6 684.03,182.6 684.08,189.0 684.13,189.0 684.18,173.6 684.23,173.6 684.28,182.6 684.33,189.0 684.38,170.1 684.43,173.6 684.48,189.0 684.53,213.4 684.58,177.6 684.63,177.6 684.68,170.1 684.74,189.0 684.79,167.2 684.84,173.6 684.89,198.0 684.94,182.6 684.99,198.0 685.04,189.0 685.09,189.0 685.14,182.6 685.19,189.0 685.24,198.0 685.29,198.0 685.34,164.5 685.39,177.6 685.44,182.6 685.50,177.6 685.55,182.6 685.60,182.6 685.65,182.6 685.70,182.6 685.75,182.6 685.80,173.6 685.85,177.6 685.90,189.0 685.95,198.0 686.00,177.6 686.05,182.6 686.10,189.0 686.15,182.6 686.20,198.0 686.25,182.6 686.31,167.2 686.36,189.0 686.41,177.6 686.46,189.0 686.51,182.6 686.56,177.6 686.61,198.0 686.66,177.6 686.71,198.0 686.76,189.0 686.81,177.6 686.86,189.0 686.91,189.0 686.96,189.0 687.01,173.6 687.07,189.0 687.12,189.0 687.17,177.6 687.22,182.6 687.27,182.6 687.32,240.2 687.37,170.1 687.42,170.1 687.47,173.6 687.52,240.2 687.57,177.6 687.62,173.6 687.67,182.6 687.72,189.0 687.77,170.1 687.83,173.6 687.88,189.0 687.93,177.6 687.98,198.0 688.03,182.6 688.08,177.6 688.13,182.6 688.18,182.6 688.23,198.0 688.28,167.2 688.33,189.0 688.38,189.0 688.43,182.6 688.48,182.6 688.53,170.1 688.59,182.6 688.64,189.0 688.69,182.6 688.74,189.0 688.79,213.4 688.84,164.5 688.89,198.0 688.94,182.6 688.99,173.6 689.04,182.6 689.09,198.0 689.14,182.6 689.19,182.6 689.24,189.0 689.29,189.0 689.34,182.6 689.40,170.1 689.45,198.0 689.50,170.1 689.55,182.6 689.60,198.0 689.65,198.0 689.70,173.6 689.75,189.0 689.80,182.6 689.85,170.1 689.90,170.1 689.95,189.0 690.00,173.6 690.05,198.0 690.10,177.6 690.16,173.6 690.21,182.6 690.26,182.6 690.31,177.6 690.36,170.1 690.41,213.4 690.46,177.6 690.51,189.0 690.56,182.6 690.61,177.6 690.66,177.6 690.71,189.0 690.76,182.6 690.81,167.2 690.86,189.0 690.92,177.6 690.97,177.6 691.02,189.0 691.07,213.4 691.12,182.6 691.17,189.0 691.22,177.6 691.27,189.0 691.32,189.0 691.37,182.6 691.42,189.0 691.47,182.6 691.52,173.6 691.57,177.6 691.62,189.0 691.68,189.0 691.73,189.0 691.78,167.2 691.83,170.1 691.88,170.1 691.93,213.4 691.98,182.6 692.03,198.0 692.08,189.0 692.13,189.0 692.18,177.6 692.23,182.6 692.28,213.4 692.33,177.6 692.38,173.6 692.43,177.6 692.49,177.6 692.54,213.4 692.59,177.6 692.64,198.0 692.69,240.2 692.74,198.0 692.79,177.6 692.84,182.6 692.89,189.0 692.94,198.0 692.99,177.6 693.04,213.4 693.09,170.1 693.14,177.6 693.19,198.0 693.25,189.0 693.30,182.6 693.35,198.0 693.40,177.6 693.45,213.4 693.50,182.6 693.55,213.4 693.60,182.6 693.65,189.0 693.70,189.0 693.75,182.6 693.80,213.4 693.85,189.0 693.90,198.0 693.95,213.4 694.01,173.6 694.06,189.0 694.11,240.2 694.16,189.0 694.21,198.0 694.26,189.0 694.31,173.6 694.36,198.0 694.41,189.0 694.46,189.0 694.51,189.0 694.56,189.0 694.61,182.6 694.66,213.4 694.71,189.0 694.76,189.0 694.82,189.0 694.87,167.2 694.92,177.6 694.97,189.0 695.02,170.1 695.07,173.6 695.12,198.0 695.17,189.0 695.22,189.0 695.27,189.0 695.32,182.6 695.37,173.6 695.42,170.1 695.47,177.6 695.52,177.6 695.58,167.2 695.63,177.6 695.68,189.0 695.73,177.6 695.78,189.0 695.83,198.0 695.88,167.2 695.93,177.6 695.98,189.0 696.03,173.6 696.08,177.6 696.13,189.0 696.18,189.0 696.23,198.0 696.28,182.6 696.34,189.0 696.39,198.0 696.44,170.1 696.49,173.6 696.54,182.6 696.59,173.6 696.64,170.1 696.69,198.0 696.74,198.0 696.79,189.0 696.84,182.6 696.89,189.0 696.94,213.4 696.99,182.6 697.04,173.6 697.10,189.0 697.15,177.6 697.20,213.4 697.25,213.4 697.30,170.1 697.35,189.0 697.40,198.0 697.45,198.0 697.50,189.0 697.55,170.1 697.60,213.4 697.65,198.0 697.70,173.6 697.75,170.1 697.80,177.6 697.85,167.2 697.91,182.6 697.96,173.6 698.01,198.0 698.06,189.0 698.11,213.4 698.16,177.6 698.21,189.0 698.26,198.0 698.31,182.6 698.36,173.6 698.41,198.0 698.46,177.6 698.51,177.6 698.56,177.6 698.61,213.4 698.67,173.6 698.72,173.6 698.77,173.6 698.82,182.6 698.87,189.0 698.92,213.4 698.97,189.0 699.02,177.6 699.07,182.6 699.12,198.0 699.17,177.6 699.22,213.4 699.27,213.4 699.32,182.6 699.37,198.0 699.43,198.0 699.48,213.4 699.53,177.6 699.58,182.6 699.63,189.0 699.68,189.0 699.73,240.2 699.78,173.6 699.83,173.6 699.88,177.6 699.93,189.0 699.98,177.6 700.03,173.6 700.08,213.4 700.13,177.6 700.18,189.0 700.24,189.0 700.29,189.0 700.34,189.0 700.39,189.0 700.44,198.0 700.49,189.0 700.54,189.0 700.59,173.6 700.64,189.0 700.69,173.6 700.74,182.6 700.79,198.0 700.84,170.1 700.89,182.6 700.94,182.6 701.00,213.4 701.05,170.1 701.10,182.6 701.15,198.0 701.20,189.0 701.25,170.1 701.30,182.6 701.35,170.1 701.40,198.0 701.45,189.0 701.50,189.0 701.55,189.0 701.60,177.6 701.65,189.0 701.70,189.0 701.76,177.6 701.81,182.6 701.86,189.0 701.91,182.6 701.96,198.0 702.01,198.0 702.06,189.0 702.11,189.0 702.16,182.6 702.21,182.6 702.26,173.6 702.31,173.6 702.36,213.4 702.41,189.0 702.46,189.0 702.52,182.6 702.57,189.0 702.62,177.6 702.67,198.0 702.72,173.6 702.77,177.6 702.82,173.6 702.87,189.0 702.92,189.0 702.97,167.2 703.02,213.4 703.07,170.1 703.12,182.6 703.17,182.6 703.22,164.5 703.27,189.0 703.33,173.6 703.38,189.0 703.43,177.6 703.48,177.6 703.53,182.6 703.58,182.6 703.63,213.4 703.68,167.2 703.73,213.4 703.78,167.2 703.83,167.2 703.88,198.0 703.93,198.0 703.98,173.6 704.03,177.6 704.09,177.6 704.14,182.6 704.19,177.6 704.24,170.1 704.29,198.0 704.34,189.0 704.39,182.6 704.44,177.6 704.49,182.6 704.54,173.6 704.59,213.4 704.64,198.0 704.69,182.6 704.74,198.0 704.79,189.0 704.85,177.6 704.90,189.0 704.95,198.0 705.00,170.1 705.05,189.0 705.10,160.1 705.15,198.0 705.20,182.6 705.25,182.6 705.30,182.6 705.35,182.6 705.40,173.6 705.45,240.2 705.50,182.6 705.55,182.6 705.60,177.6 705.66,198.0 705.71,170.1 705.76,198.0 705.81,177.6 705.86,173.6 705.91,182.6 705.96,189.0 706.01,213.4 706.06,182.6 706.11,173.6 706.16,213.4 706.21,167.2 706.26,158.1 706.31,173.6 706.36,189.0 706.42,170.1 706.47,170.1 706.52,198.0 706.57,213.4 706.62,182.6 706.67,182.6 706.72,182.6 706.77,182.6 706.82,173.6 706.87,198.0 706.92,189.0 706.97,213.4 707.02,189.0 707.07,198.0 707.12,182.6 707.18,177.6 707.23,182.6 707.28,182.6 707.33,173.6 707.38,177.6 707.43,173.6 707.48,182.6 707.53,213.4 707.58,198.0 707.63,182.6 707.68,173.6 707.73,177.6 707.78,189.0 707.83,213.4 707.88,177.6 707.94,198.0 707.99,173.6 708.04,177.6 708.09,240.2 708.14,182.6 708.19,213.4 708.24,198.0 708.29,189.0 708.34,177.6 708.39,170.1 708.44,189.0 708.49,182.6 708.54,198.0 708.59,182.6 708.64,198.0 708.69,173.6 708.75,182.6 708.80,170.1 708.85,173.6 708.90,198.0 708.95,182.6 709.00,177.6 709.05,177.6 709.10,240.2 709.15,177.6 709.20,189.0 709.25,189.0 709.30,182.6 709.35,170.1 709.40,198.0 709.45,170.1 709.51,177.6 709.56,189.0 709.61,213.4 709.66,189.0 709.71,170.1 709.76,213.4 709.81,182.6 709.86,173.6 709.91,182.6 709.96,177.6 710.01,189.0 710.06,177.6 710.11,170.1 710.16,182.6 710.21,189.0 710.27,182.6 710.32,182.6 710.37,182.6 710.42,182.6 710.47,182.6 710.52,189.0 710.57,182.6 710.62,182.6 710.67,213.4 710.72,182.6 710.77,170.1 710.82,240.2 710.87,182.6 710.92,177.6 710.97,189.0 711.03,198.0 711.08,198.0 711.13,167.2 711.18,198.0 711.23,173.6 711.28,198.0 711.33,173.6 711.38,170.1 711.43,170.1 711.48,198.0 711.53,182.6 711.58,189.0 711.63,198.0 711.68,198.0 711.73,182.6 711.78,198.0 711.84,182.6 711.89,173.6 711.94,182.6 711.99,182.6 712.04,198.0 712.09,198.0 712.14,213.4 712.19,213.4 712.24,240.2 712.29,198.0 712.34,198.0 712.39,189.0 712.44,189.0 712.49,177.6 712.54,198.0 712.60,198.0 712.65,189.0 712.70,182.6 712.75,182.6 712.80,182.6 712.85,189.0 712.90,198.0 712.95,170.1 713.00,189.0 713.05,189.0 713.10,240.2 713.15,182.6 713.20,189.0 713.25,198.0 713.30,167.2 713.36,189.0 713.41,173.6 713.46,182.6 713.51,173.6 713.56,240.2 713.61,173.6 713.66,198.0 713.71,177.6 713.76,177.6 713.81,167.2 713.86,173.6 713.91,198.0 713.96,177.6 714.01,182.6 714.06,213.4 714.11,213.4 714.17,182.6 714.22,198.0 714.27,213.4 714.32,182.6 714.37,189.0 714.42,182.6 714.47,182.6 714.52,182.6 714.57,182.6 714.62,213.4 714.67,182.6 714.72,198.0 714.77,177.6 714.82,182.6 714.87,198.0 714.93,198.0 714.98,198.0 715.03,177.6 715.08,198.0 715.13,198.0 715.18,177.6 715.23,170.1 715.28,164.5 715.33,240.2 715.38,173.6 715.43,177.6 715.48,240.2 715.53,177.6 715.58,240.2 715.63,240.2 715.69,198.0 715.74,189.0 715.79,182.6 715.84,182.6"/>
<polyline fill="none" stroke="#000" stroke-width="1.5" stroke-linejoin="round" points="406.93,239.0 407.34,136.6 407.66,70.0 408.17,29.1 409.21,10.1 410.35,8.6 410.87,18.8 411.37,30.1 411.68,60.3 412.18,100.8 414.40,160.2 416.00,175.0 416.17,168.3 416.48,180.1 416.69,175.0 417.00,186.8 417.21,181.7 417.41,189.8"/>
<polyline fill="none" stroke="#000" stroke-width="2.6" stroke-linejoin="round" points="415.86,173.5 417.41,189.8"/>
<line x1="418.4" y1="213.4" x2="418.4" y2="197.0" stroke="#000" stroke-width="1.3"/>
<line x1="514.7" y1="213.4" x2="514.7" y2="198.0" stroke="#000" stroke-width="1.3"/>
<line x1="544.7" y1="213.4" x2="544.7" y2="198.0" stroke="#000" stroke-width="1.3"/>
<line x1="553.9" y1="213.4" x2="553.9" y2="198.0" stroke="#000" stroke-width="1.3"/>
<line x1="559.4" y1="213.4" x2="559.4" y2="188.8" stroke="#000" stroke-width="1.3"/>
<line x1="584.9" y1="213.4" x2="584.9" y2="198.0" stroke="#000" stroke-width="1.3"/>
<line x1="599.3" y1="213.4" x2="599.3" y2="198.0" stroke="#000" stroke-width="1.3"/>
<line x1="600.0" y1="213.4" x2="600.0" y2="198.0" stroke="#000" stroke-width="1.3"/>
<line x1="615.4" y1="213.4" x2="615.4" y2="198.0" stroke="#000" stroke-width="1.3"/>
<polyline fill="none" stroke="#0000ff" stroke-width="1.4" stroke-linejoin="round" points="404.04,284.3 404.15,284.3 404.25,284.3 404.35,284.3 404.46,284.2 404.56,284.2 404.67,284.2 404.77,284.1 404.87,284.1 404.98,283.9 405.08,283.6 405.19,283.2 405.29,282.5 405.39,281.5 405.50,279.8 405.60,277.4 405.70,273.9 405.81,269.4 405.91,263.7 406.02,257.1 406.12,249.6 406.22,241.5 406.33,233.1 406.43,224.5 406.53,215.8 406.64,207.2 406.74,198.6 406.85,190.2 406.95,181.9 407.05,173.7 407.16,165.8 407.26,158.0 407.37,150.4 407.47,143.0 407.57,135.8 407.68,128.8 407.78,122.0 407.88,115.4 407.99,108.9 408.09,102.7 408.20,96.7 408.30,90.9 408.40,85.2 408.51,79.8 408.61,74.6 408.71,69.5 408.82,64.7 408.92,60.0 409.03,55.6 409.13,51.3 409.23,47.3 409.34,43.4 409.44,39.8 409.54,36.3 409.65,33.0 409.75,30.0"/>
<polyline fill="none" stroke="#0000ff" stroke-width="2.3" stroke-linejoin="round" points="409.65,33.0 409.75,30.0 409.86,27.1 409.96,24.5 410.06,22.0 410.17,19.7 410.27,17.6 410.38,15.8 410.48,14.1 410.58,12.6 410.69,11.3 410.79,10.2 410.89,9.3 411.00,8.6 411.10,8.1 411.21,7.8 411.31,7.7 411.83,8.4 412.35,9.1 412.87,9.8 413.39,10.4 413.90,11.1 414.42,11.8 414.94,12.4 415.46,13.1 415.98,13.8 416.50,14.4 417.02,15.1 417.54,15.8 418.06,16.4 418.58,17.1 419.09,17.8 419.61,18.4 420.13,19.1 420.65,19.8 421.17,20.5 421.69,21.1 422.21,21.8 422.73,22.4 423.25,23.1 423.77,23.8 424.28,24.4 424.80,25.1 425.32,25.8 425.84,26.4 426.36,27.1 426.88,27.8 427.40,28.4 427.92,29.1 428.44,29.8 428.96,30.4 429.47,31.1 429.99,31.7 430.51,32.4 431.03,33.1 431.55,33.7 432.07,34.4 432.59,35.1 433.11,35.7 433.63,36.4 434.15,37.0 434.66,37.7 435.18,38.4 435.70,39.0 436.22,39.7 436.74,40.3 437.26,41.0 437.78,41.6 438.30,42.3 438.82,43.0 439.34,43.6 439.85,44.3 440.37,44.9 440.89,45.6 441.41,46.2 441.93,46.9 442.45,47.5 442.97,48.2 443.49,48.8 444.01,49.5 444.53,50.1 445.04,50.8 445.56,51.4 446.08,52.1 446.60,52.7 447.12,53.4 447.64,54.0 448.16,54.7 448.68,55.3 449.20,56.0 449.72,56.6 450.23,57.3 450.75,57.9 451.27,58.6 451.79,59.2 452.31,59.8 452.83,60.5 453.35,61.1 453.87,61.8 454.39,62.4 454.91,63.0 455.42,63.7 455.94,64.3 456.46,65.0 456.98,65.6 457.50,66.2 458.02,66.9 458.54,67.5 459.06,68.1 459.58,68.8 460.10,69.4 460.61,70.0 461.13,70.7 461.65,71.3 462.17,71.9 462.69,72.5 463.21,73.2 463.73,73.8 464.25,74.4 464.77,75.0 465.29,75.7 465.80,76.3 466.32,76.9 466.84,77.5 467.36,78.1 467.88,78.7 468.40,79.4 468.92,80.0 469.44,80.6 469.96,81.2 470.48,81.8 470.99,82.4 471.51,83.0 472.03,83.6 472.55,84.3 473.07,84.9 473.59,85.5 474.11,86.1 474.63,86.7 475.15,87.3 475.67,87.9 476.18,88.5 476.70,89.1 477.22,89.7 477.74,90.2 478.26,90.8 478.78,91.4 479.30,92.0 479.82,92.6 480.34,93.2 480.86,93.8 481.37,94.4 481.89,94.9 482.41,95.5 482.93,96.1 483.45,96.7 483.97,97.3 484.49,97.8 485.01,98.4 485.53,99.0 486.05,99.5 486.56,100.1 487.08,100.7 487.60,101.3 488.12,101.8 488.64,102.4 489.16,102.9 489.68,103.5 490.20,104.1 490.72,104.6 491.24,105.2 491.75,105.7 492.27,106.3 492.79,106.8 493.31,107.3 493.83,107.9 494.35,108.4 494.87,108.9 495.39,109.5 495.91,110.0 496.43,110.6 496.94,111.1 497.46,111.6 497.98,112.2 498.50,112.7 499.02,113.2 499.54,113.8 500.06,114.3 500.58,114.8 501.10,115.3 501.62,115.8 502.13,116.3 502.65,116.8 503.17,117.4 503.69,117.9 504.21,118.4 504.73,118.9 505.25,119.4 505.77,119.9 506.29,120.4 506.81,120.9 507.32,121.3 507.84,121.8 508.36,122.3 508.88,122.8 509.40,123.3 509.92,123.7 510.44,124.2 510.96,124.7 511.48,125.2 512.00,125.7 512.51,126.2 513.03,126.6 513.55,127.0 514.07,127.5 514.59,127.9 515.11,128.4 515.63,128.9 516.15,129.4 516.67,129.9 517.19,130.3 517.70,130.7 518.22,131.2 518.74,131.6 519.26,132.0 519.78,132.4 520.30,132.8 520.82,133.2 521.34,133.7 521.86,134.0 522.38,134.4 522.89,134.7 523.41,135.2 523.93,135.6 524.45,135.9 524.97,136.3 525.49,136.7 526.01,137.0 526.53,137.3 527.05,137.7 527.57,138.0 528.08,138.4 528.60,138.8 529.12,139.2 529.64,139.6 530.16,140.1 530.68,140.5 531.20,141.0 531.72,141.4 532.24,141.7 532.76,142.1 533.27,142.7 533.79,143.0 534.31,143.5 534.83,143.9 535.35,144.3 535.87,144.7 536.39,145.0 536.91,145.4 537.43,145.6 537.95,146.0 538.46,146.3 538.98,146.6 539.50,147.1 540.02,147.4 540.54,147.7 541.06,148.0 541.58,148.3 542.10,148.6 542.62,149.2 543.14,149.5 543.65,149.7 544.17,150.2 544.69,150.5 545.21,150.8 545.73,151.2 546.25,151.5 546.77,151.9 547.29,152.3 547.81,152.7 548.33,153.0 548.84,153.5 549.36,153.8 549.88,153.9 550.40,154.3 550.92,154.7 551.44,154.8 551.96,155.3 552.48,155.4 553.00,155.7 553.52,156.1 554.03,156.4 554.55,156.7 555.07,156.9 555.59,157.2 556.11,157.4 556.63,157.7 557.15,158.1 557.67,158.4 558.19,158.7 558.71,159.2 559.22,159.2 559.74,159.6 560.26,160.0 560.78,160.2 561.30,160.4 561.82,160.8 562.34,161.0 562.86,161.5 563.38,161.8 563.90,162.2 564.41,162.5 564.93,162.6 565.45,163.0 565.97,163.2 566.49,163.5 567.01,163.7 567.53,163.9 568.05,164.2 568.57,164.6 569.09,164.7 569.60,165.1 570.12,165.3 570.64,165.3 571.16,165.6 571.68,166.0 572.20,166.2 572.72,166.4 573.24,166.6 573.76,166.9 574.28,166.9 574.79,166.8 575.31,166.9 575.83,166.9 576.35,167.3 576.87,167.6 577.39,167.7 577.91,167.9 578.43,168.0 578.95,168.1 579.47,168.2 579.98,168.4 580.50,168.6 581.02,169.1 581.54,169.4 582.06,169.4 582.58,169.7 583.10,169.9 583.62,170.0 584.14,170.2 584.66,170.2 585.17,170.8 585.69,171.3 586.21,171.7 586.73,171.9 587.25,172.1 587.77,172.4 588.29,172.7 588.81,173.1 589.33,173.2 589.85,173.7 590.36,174.0 590.88,174.3 591.40,174.5 591.92,174.6 592.44,174.7 592.96,175.0 593.48,175.3 594.00,175.4 594.52,175.6 595.04,175.9 595.55,176.1 596.07,176.2 596.59,176.6 597.11,176.6 597.63,176.8 598.15,177.1 598.67,177.4 599.19,177.5 599.71,178.0 600.23,178.4 600.74,178.7 601.26,178.7 601.78,178.8 602.30,179.2 602.82,179.5 603.34,179.6 603.86,179.8 604.38,180.2 604.90,180.2 605.42,180.6 605.93,180.8 606.45,181.0 606.97,181.1 607.49,181.7 608.01,181.5 608.53,181.7 609.05,181.6 609.57,181.5 610.09,181.7 610.61,181.7 611.12,181.7 611.64,182.1 612.16,182.5 612.68,182.6 613.20,182.8 613.72,183.1 614.24,183.1 614.76,183.2 615.28,183.6 615.80,183.5 616.31,183.7 616.83,183.9 617.35,184.1 617.87,184.3 618.39,184.7 618.91,184.6 619.43,185.4 619.95,185.6 620.47,185.7 620.99,185.9 621.50,186.0 622.02,186.2 622.54,186.3 623.06,186.6 623.58,186.8 624.10,187.0 624.62,187.3 625.14,187.6 625.66,187.7 626.18,188.1 626.69,188.2 627.21,188.5 627.73,188.5 628.25,188.7 628.77,188.8 629.29,189.3 629.81,189.2 630.33,189.5 630.85,189.6 631.37,189.6 631.88,189.9 632.40,189.9 632.92,190.1 633.44,190.3 633.96,190.2 634.48,190.4 635.00,190.8 635.52,190.8 636.04,191.1 636.56,191.3 637.07,191.5 637.59,191.7 638.11,191.9 638.63,192.0 639.15,192.5 639.67,192.7 640.19,192.5 640.71,192.6 641.23,193.2 641.75,193.7 642.26,194.0 642.78,194.1 643.30,194.3 643.82,194.0 644.34,194.2 644.86,194.1 645.38,194.1 645.90,194.0 646.42,194.1 646.94,194.3 647.45,194.8 647.97,194.8 648.49,195.1 649.01,195.1 649.53,194.7 650.05,194.9 650.57,195.4 651.09,195.6 651.61,195.7 652.13,195.6 652.64,195.9 653.16,196.1 653.68,196.2 654.20,196.4 654.72,197.1 655.24,197.5 655.76,197.6 656.28,198.1 656.80,198.2 657.32,198.2 657.83,198.3 658.35,198.7 658.87,198.6 659.39,199.0 659.91,199.3 660.43,199.1 660.95,199.2 661.47,199.2 661.99,199.2 662.51,199.5 663.02,199.4 663.54,199.4 664.06,199.6 664.58,199.8 665.10,199.9 665.62,200.0 666.14,200.6 666.66,200.6 667.18,200.6 667.70,200.9 668.21,200.9 668.73,200.9 669.25,201.2 669.77,201.0 670.29,201.4 670.81,201.5 671.33,201.6 671.85,201.9 672.37,202.0 672.89,201.9 673.40,202.2 673.92,202.2 674.44,202.4 674.96,202.6 675.48,202.5 676.00,202.4 676.52,202.3 677.04,202.2 677.56,202.5 678.08,202.6 678.59,202.6 679.11,202.7 679.63,202.9 680.15,203.1 680.67,203.3 681.19,203.8 681.71,204.0 682.23,203.8 682.75,204.1 683.27,204.2 683.78,204.0 684.30,204.3 684.82,204.2 685.34,204.3 685.86,204.7 686.38,204.9 686.90,205.0 687.42,205.4 687.94,205.4 688.46,205.6 688.97,205.6 689.49,205.7 690.01,205.6 690.53,205.7 691.05,205.6 691.57,205.3 692.09,205.5 692.61,205.8 693.13,205.8 693.65,205.9 694.16,206.5 694.68,206.5 695.20,206.8 695.72,206.7 696.24,206.6 696.76,206.7 697.28,206.8 697.80,206.8 698.32,207.0 698.84,207.0 699.35,207.0 699.87,207.2 700.39,207.2 700.91,207.5 701.43,207.5 701.95,207.9 702.47,207.8 702.99,207.9 703.51,208.0 704.03,207.9 704.54,207.8 705.06,208.3 705.58,208.1 706.10,208.4 706.62,208.7 707.14,208.5 707.66,208.7 708.18,208.6 708.70,208.6 709.22,208.4 709.73,208.4 710.25,208.7 710.77,208.8 711.29,208.9 711.81,209.1 712.33,209.1 712.85,209.2 713.37,209.3 713.89,209.3 714.41,209.4 714.92,209.4 715.44,209.0"/>
</g>
<rect x="403.4" y="4.4" width="311.4" height="209.0" fill="none" stroke="#000" stroke-width="1"/>
<path d="M398.9,213.4H403.4 M400.7,198.0H403.4 M400.7,189.0H403.4 M400.7,182.6H403.4 M400.7,177.6H403.4 M400.7,173.6H403.4 M400.7,170.1H403.4 M400.7,167.2H403.4 M400.7,164.5H403.4 M398.9,162.2H403.4 M400.7,146.8H403.4 M400.7,137.8H403.4 M400.7,131.4H403.4 M400.7,126.4H403.4 M400.7,122.4H403.4 M400.7,118.9H403.4 M400.7,116.0H403.4 M400.7,113.3H403.4 M398.9,111.0H403.4 M400.7,95.6H403.4 M400.7,86.6H403.4 M400.7,80.2H403.4 M400.7,75.2H403.4 M400.7,71.2H403.4 M400.7,67.7H403.4 M400.7,64.8H403.4 M400.7,62.1H403.4 M398.9,59.8H403.4 M400.7,44.4H403.4 M400.7,35.4H403.4 M400.7,29.0H403.4 M400.7,24.0H403.4 M400.7,20.0H403.4 M400.7,16.5H403.4 M400.7,13.6H403.4 M400.7,10.9H403.4 M398.9,8.6H403.4 M403.4,213.4V217.70000000000002 M507.2,213.4V217.70000000000002 M611.0,213.4V217.70000000000002 M714.8,213.4V217.70000000000002 M455.3,213.4V216.1 M559.1,213.4V216.1 M662.9,213.4V216.1" stroke="#000" stroke-width="1" fill="none"/>
<text x="0" y="16.5" font-size="20.8">a</text>
<text x="28.8" y="13.0" font-size="12.3" text-anchor="end" style="stroke-width:0.45px">10</text>
<text x="30.0" y="5.9" font-size="8.8">4</text>
<text x="28.8" y="63.8" font-size="12.3" text-anchor="end" style="stroke-width:0.45px">10</text>
<text x="30.0" y="56.7" font-size="8.8">3</text>
<text x="28.8" y="114.6" font-size="12.3" text-anchor="end" style="stroke-width:0.45px">10</text>
<text x="30.0" y="107.5" font-size="8.8">2</text>
<text x="28.8" y="165.4" font-size="12.3" text-anchor="end" style="stroke-width:0.45px">10</text>
<text x="30.0" y="158.3" font-size="8.8">1</text>
<text x="28.8" y="216.2" font-size="12.3" text-anchor="end" style="stroke-width:0.45px">10</text>
<text x="30.0" y="209.1" font-size="8.8">0</text>
<text id="acounts" transform="translate(11,116) rotate(-90)" font-size="12.3" text-anchor="middle" textLength="45.30" lengthAdjust="spacing">Counts</text>
<text x="41.7" y="228.9" font-size="12.3" text-anchor="middle">50</text>
<text x="143.3" y="228.9" font-size="12.3" text-anchor="middle" textLength="21.5" lengthAdjust="spacingAndGlyphs">100</text>
<text x="244.9" y="228.9" font-size="12.3" text-anchor="middle" textLength="21.5" lengthAdjust="spacingAndGlyphs">150</text>
<text x="346.4" y="228.9" font-size="12.3" text-anchor="middle" textLength="21.5" lengthAdjust="spacingAndGlyphs">200</text>
<text id="atime" x="194.3" y="240.6" font-size="12.3" text-anchor="middle" textLength="60.84" lengthAdjust="spacing">Time (ns)</text>
<text id="aann0" transform="translate(155,24.1) scale(1.06,1)" font-size="12.5" stroke="#000" stroke-width="0.3" textLength="165.11" lengthAdjust="spacing">t<tspan font-size="7.8" dy="5.2" stroke-width="0.1">1</tspan><tspan dy="-5.2">= 7.85 ns (S.Dev 0.017 ns)</tspan></text>
<text id="aann1" transform="translate(155,44.6) scale(1.06,1)" font-size="12.5" stroke="#000" stroke-width="0.3" textLength="165.11" lengthAdjust="spacing">t<tspan font-size="7.8" dy="5.2" stroke-width="0.1">2</tspan><tspan dy="-5.2">= 17.0 ns (S.Dev 0.187 ns)</tspan></text>
<text id="aann2" transform="translate(155,65.2) scale(1.06,1)" font-size="12.5" stroke="#000" stroke-width="0.3" textLength="130.91" lengthAdjust="spacing">A<tspan font-size="7.8" dy="5.2" stroke-width="0.1">1</tspan><tspan dy="-5.2">= 0.052 (ratio 90.29)</tspan></text>
<text id="aann3" transform="translate(155,85.1) scale(1.06,1)" font-size="12.5" stroke="#000" stroke-width="0.3" textLength="130.91" lengthAdjust="spacing">A<tspan font-size="7.8" dy="5.2" stroke-width="0.1">2</tspan><tspan dy="-5.2">= 0.0026 (ratio 9.71)</tspan></text>
<text x="360" y="20.2" font-size="21.5">b</text>
<text x="389.8" y="13.0" font-size="12.3" text-anchor="end" style="stroke-width:0.45px">10</text>
<text x="391.0" y="5.9" font-size="8.8">4</text>
<text x="389.8" y="64.2" font-size="12.3" text-anchor="end" style="stroke-width:0.45px">10</text>
<text x="391.0" y="57.1" font-size="8.8">3</text>
<text x="389.8" y="115.4" font-size="12.3" text-anchor="end" style="stroke-width:0.45px">10</text>
<text x="391.0" y="108.3" font-size="8.8">2</text>
<text x="389.8" y="166.6" font-size="12.3" text-anchor="end" style="stroke-width:0.45px">10</text>
<text x="391.0" y="159.5" font-size="8.8">1</text>
<text x="389.8" y="217.8" font-size="12.3" text-anchor="end" style="stroke-width:0.45px">10</text>
<text x="391.0" y="210.7" font-size="8.8">0</text>
<text id="bcounts" transform="translate(373.4,117.5) rotate(-90)" font-size="12.3" text-anchor="middle" textLength="45.30" lengthAdjust="spacing">Counts</text>
<text x="403.4" y="230.3" font-size="12.3" text-anchor="middle">50</text>
<text x="507.2" y="230.3" font-size="12.3" text-anchor="middle" textLength="21.5" lengthAdjust="spacingAndGlyphs">100</text>
<text x="611.0" y="230.3" font-size="12.3" text-anchor="middle" textLength="21.5" lengthAdjust="spacingAndGlyphs">150</text>
<text x="714.8" y="230.3" font-size="12.3" text-anchor="middle" textLength="21.5" lengthAdjust="spacingAndGlyphs">200</text>
<text id="btime" x="558.7" y="242" font-size="12.3" text-anchor="middle" textLength="61.14" lengthAdjust="spacing">Time (ns)</text>
<text id="bann0" transform="translate(517.7,26.2) scale(1.06,1)" font-size="12.5" stroke="#000" stroke-width="0.3" textLength="168.89" lengthAdjust="spacing">t<tspan font-size="7.8" dy="5.2" stroke-width="0.1">1</tspan><tspan dy="-5.2">= 7.86 ns (S.Dev 0.015 ns)</tspan></text>
<text id="bann1" transform="translate(517.7,46.6) scale(1.06,1)" font-size="12.5" stroke="#000" stroke-width="0.3" textLength="168.89" lengthAdjust="spacing">t<tspan font-size="7.8" dy="5.2" stroke-width="0.1">2</tspan><tspan dy="-5.2">= 17.3 ns (S.Dev 0.248 ns)</tspan></text>
<text id="bann2" transform="translate(517.7,68.0) scale(1.06,1)" font-size="12.5" stroke="#000" stroke-width="0.3" textLength="135.24" lengthAdjust="spacing">A<tspan font-size="7.8" dy="5.2" stroke-width="0.1">1</tspan><tspan dy="-5.2">= 0.054 (ratio 91.96)</tspan></text>
<text id="bann3" transform="translate(517.7,87.7) scale(1.06,1)" font-size="12.5" stroke="#000" stroke-width="0.3" textLength="135.24" lengthAdjust="spacing">A<tspan font-size="7.8" dy="5.2" stroke-width="0.1">2</tspan><tspan dy="-5.2">= 0.0021 (ratio 8.04)</tspan></text>
</svg>
</body></html>
